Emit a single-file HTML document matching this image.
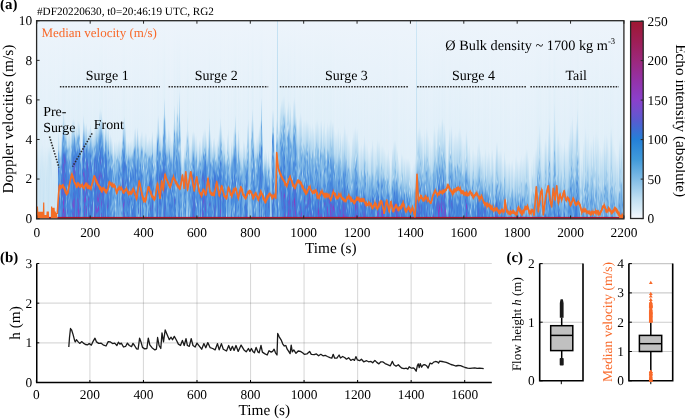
<!DOCTYPE html>
<html><head><meta charset="utf-8"><style>
html,body{margin:0;padding:0;background:#fff;width:685px;height:420px;overflow:hidden;position:relative}
#hm{position:absolute;left:37px;top:21px;width:586px;height:197px;display:flex}
#hm i{display:block;width:1px;height:100%;flex:none}
svg{position:absolute;left:0;top:0;will-change:transform}
text{font-family:"Liberation Serif",serif;text-rendering:geometricPrecision}
</style></head><body>
<div id="hm"><i style="background:linear-gradient(#edf4fb 0px,#dfeff8 127px,#cfe6f5 139px,#cde6f5 182px,#cee6f5 196px)"></i><i style="background:linear-gradient(#edf4fb 0px,#dfeff8 128px,#d2e8f6 142px,#cfe6f5 163px,#d6eaf6 196px)"></i><i style="background:linear-gradient(#edf4fb 0px,#e0eff8 122px,#cde6f5 171px,#cbe4f4 196px)"></i><i style="background:linear-gradient(#edf4fb 0px,#e0eff8 125px,#cde6f5 152px,#cce5f4 169px,#cee6f5 196px)"></i><i style="background:linear-gradient(#edf4fb 0px,#e0eff8 124px,#d2e8f6 142px,#d0e7f5 162px,#d0e7f5 196px)"></i><i style="background:linear-gradient(#edf4fb 0px,#e2eff9 121px,#d0e7f5 146px,#cfe6f5 168px,#cce5f4 190px,#cce5f4 196px)"></i><i style="background:linear-gradient(#edf4fb 0px,#e1eff9 125px,#d1e8f5 147px,#c8e3f4 177px,#cde6f5 196px)"></i><i style="background:linear-gradient(#edf4fb 0px,#e0eff8 127px,#d0e7f5 152px,#cde6f5 164px,#d0e7f5 192px,#d0e7f5 196px)"></i><i style="background:linear-gradient(#edf4fb 0px,#e1eff9 125px,#d4e9f6 142px,#d2e8f6 168px,#d0e7f5 186px,#cee6f5 196px)"></i><i style="background:linear-gradient(#edf4fb 0px,#e3f0f9 123px,#cce5f4 160px,#cee6f5 172px,#d4e9f6 196px)"></i><i style="background:linear-gradient(#edf4fb 0px,#e2eff9 123px,#d0e7f5 148px,#cbe5f4 196px)"></i><i style="background:linear-gradient(#edf4fb 0px,#e0eff8 126px,#d1e8f5 136px,#cae4f4 175px,#cae4f4 196px)"></i><i style="background:linear-gradient(#edf4fb 0px,#e0eff8 125px,#cce5f4 137px,#cfe6f5 196px)"></i><i style="background:linear-gradient(#edf4fb 0px,#dfeff8 126px,#cae4f4 142px,#d3e8f6 160px,#cce5f4 195px,#cfe6f5 196px)"></i><i style="background:linear-gradient(#edf4fb 0px,#e0eff8 124px,#cbe4f4 152px,#cfe6f5 157px,#cfe7f5 196px)"></i><i style="background:linear-gradient(#edf4fb 0px,#e0eff8 128px,#cee6f5 174px,#d1e7f5 196px)"></i><i style="background:linear-gradient(#edf4fb 0px,#e0eff8 127px,#cde5f5 167px,#d4e9f6 191px,#d0e7f5 196px)"></i><i style="background:linear-gradient(#edf4fb 0px,#dfeef8 127px,#cee6f5 170px,#cae4f4 196px)"></i><i style="background:linear-gradient(#edf4fb 0px,#e2eff9 124px,#d1e8f5 158px,#cce5f4 175px,#d2e8f6 182px,#cbe5f4 196px)"></i><i style="background:linear-gradient(#edf4fb 0px,#e1eff9 125px,#cfe7f5 152px,#d1e7f5 196px)"></i><i style="background:linear-gradient(#edf4fb 0px,#e0eff8 126px,#cde5f5 150px,#cae4f4 196px)"></i><i style="background:linear-gradient(#edf4fb 0px,#e0eff8 111px,#c4e1f3 122px,#b7daf0 126px,#b2d6ef 129px,#6fabe3 133px,#62a1e1 138px,#68a5e2 141px,#7cb5e5 144px,#4180db 147px,#4a71d6 150px,#4e90dd 155px,#5b9be0 159px,#4383db 164px,#4484db 167px,#4e6dd5 170px,#4576d8 174px,#4774d7 178px,#4888dc 182px,#3f7cda 183px,#675bd0 186px,#3e7dda 190px,#4f90dd 195px,#4a8bdc 196px)"></i><i style="background:linear-gradient(#edf4fb 0px,#e1eff9 117px,#cae4f4 129px,#9dcaeb 135px,#6da9e2 141px,#82bae6 145px,#5a9adf 150px,#5c9ce0 155px,#5193de 160px,#7ab3e5 172px,#417ad9 177px,#4477d8 182px,#5092de 191px,#4585db 196px)"></i><i style="background:linear-gradient(#edf4fb 0px,#e1eff9 123px,#bfdff2 134px,#92c4e9 138px,#97c7ea 142px,#6ca9e2 146px,#63a2e1 150px,#5596de 153px,#63a2e1 156px,#5798df 163px,#70ace3 167px,#69a6e2 173px,#78b2e4 176px,#4a8bdc 186px,#5b9be0 191px,#5596de 196px)"></i><i style="background:linear-gradient(#edf4fb 0px,#e1eff9 114px,#afd5ef 128px,#72ade3 137px,#75afe4 142px,#4d8edd 146px,#62a1e1 149px,#82bae6 151px,#4a8bdc 154px,#4477d8 160px,#4a8bdc 165px,#4675d7 170px,#407fda 179px,#4b8ddd 191px,#498adc 196px)"></i><i style="background:linear-gradient(#edf4fb 0px,#e0eff8 100px,#c8e3f4 111px,#6da9e2 122px,#63a2e1 126px,#5798df 130px,#417ad9 139px,#4c6fd6 150px,#4279d9 158px,#3e7dda 162px,#635dd1 170px,#685ad0 173px,#407fda 175px,#65a3e1 178px,#3e7dda 181px,#4585db 186px,#5a64d2 193px,#6e56cf 196px)"></i><i style="background:linear-gradient(#edf4fb 0px,#e1eff9 91px,#b2d7ef 106px,#4f90dd 117px,#62a1e1 120px,#7db6e5 123px,#5496de 127px,#5193de 131px,#4b70d6 134px,#3f7cda 141px,#675ad0 144px,#5468d4 150px,#5667d3 156px,#675ad0 159px,#5a63d2 163px,#7054cf 166px,#4774d7 170px,#506cd5 178px,#8941cc 181px,#8445cd 183px,#5c62d2 185px,#7352ce 187px,#9136b3 189px,#8d3cc2 191px,#526ad4 193px,#4e6ed5 195px,#5965d3 196px)"></i><i style="background:linear-gradient(#edf4fb 0px,#e0eff8 96px,#c2e0f2 110px,#7bb4e5 118px,#69a6e2 129px,#4477d8 134px,#6c57cf 139px,#4675d7 145px,#5369d4 151px,#3e7dda 153px,#3f7cda 156px,#5f60d1 159px,#4873d7 165px,#7550ce 169px,#4b70d6 173px,#5865d3 177px,#417ad9 185px,#655cd1 193px,#7b4ccd 196px)"></i><i style="background:linear-gradient(#edf4fb 0px,#e1eff9 100px,#afd5ef 116px,#71ade3 121px,#8bbfe8 126px,#498adc 133px,#4477d8 138px,#5866d3 141px,#4383db 145px,#5294de 150px,#4576d8 153px,#5a64d3 155px,#3e7eda 157px,#3e7dda 160px,#3f7eda 163px,#4f90dd 168px,#3f7cda 170px,#5568d4 172px,#4180db 174px,#4282db 177px,#417ad9 180px,#4e90dd 184px,#4873d7 189px,#645dd1 192px,#4774d7 196px)"></i><i style="background:linear-gradient(#edf4fb 0px,#e2f0f9 105px,#c3e1f3 116px,#95c5ea 122px,#93c4e9 125px,#5b9be0 130px,#65a3e1 136px,#4a8bdc 141px,#3e7dda 159px,#4a8adc 165px,#4279d9 168px,#7fb8e6 172px,#5b9be0 177px,#7ab4e5 181px,#5697df 185px,#70ace3 189px,#599adf 194px,#5d9de0 196px)"></i><i style="background:linear-gradient(#edf4fb 0px,#e1eff9 109px,#c3e1f3 124px,#a6cfed 127px,#6eaae3 130px,#90c2e9 136px,#5c9ce0 141px,#4383db 163px,#87bde7 167px,#4989dc 171px,#407fda 181px,#4686dc 187px,#5568d4 190px,#3f7fda 192px,#68a5e2 195px,#65a3e1 196px)"></i><i style="background:linear-gradient(#edf4fb 0px,#e0eff8 112px,#acd3ee 126px,#87bde7 129px,#87bde7 134px,#70abe3 138px,#73aee4 141px,#5798df 145px,#4477d8 162px,#4281db 172px,#498adc 176px,#609fe0 179px,#4989dc 183px,#4686dc 190px,#4b8cdd 196px)"></i><i style="background:linear-gradient(#edf4fb 0px,#e0eff8 111px,#afd5ef 124px,#8cc0e8 128px,#98c7ea 133px,#83bbe6 138px,#5798df 141px,#65a3e1 147px,#a7d0ed 150px,#4f91dd 154px,#4e8fdd 163px,#5b9be0 166px,#4c8ddd 172px,#62a1e1 176px,#4989dc 180px,#4888dc 192px,#4b8cdd 196px)"></i><i style="background:linear-gradient(#edf4fb 0px,#e1eff9 114px,#b8daf0 126px,#a3ceec 131px,#a3cdec 134px,#85bce7 138px,#6ca8e2 144px,#5b9bdf 147px,#72ade3 150px,#5193de 154px,#609fe0 158px,#5193de 162px,#5395de 170px,#4585db 174px,#5e9de0 184px,#4383db 190px,#4586db 196px)"></i><i style="background:linear-gradient(#edf4fb 0px,#e0eff8 107px,#a9d1ee 122px,#81b9e6 126px,#9ac8eb 129px,#64a2e1 134px,#5c9ce0 142px,#64a2e1 146px,#609fe0 149px,#5596de 151px,#76b1e4 154px,#4888dc 157px,#4888dc 168px,#4484db 175px,#69a6e2 187px,#3f7eda 190px,#5798df 195px,#4e8fdd 196px)"></i><i style="background:linear-gradient(#edf4fb 0px,#e1eff9 99px,#b5d9f0 112px,#81b9e6 121px,#4d8edd 131px,#4888dc 140px,#4774d7 143px,#4a8bdc 147px,#5395de 152px,#4774d7 156px,#4484db 161px,#5193de 164px,#4c8ddd 168px,#4383db 179px,#4a71d6 181px,#665bd0 183px,#4181db 187px,#526ad4 193px,#4585db 196px)"></i><i style="background:linear-gradient(#edf4fb 0px,#e0eff8 97px,#badbf1 110px,#a1ccec 114px,#96c6ea 118px,#5a9adf 126px,#5899df 133px,#407bd9 137px,#4b70d6 141px,#4a71d6 145px,#5a64d3 150px,#4180db 156px,#4378d9 167px,#4484db 170px,#516bd5 173px,#3e7dda 177px,#7352ce 180px,#665bd0 183px,#8246cd 185px,#3e7dda 189px,#6959d0 194px,#4d6ed5 196px)"></i><i style="background:linear-gradient(#edf4fb 0px,#e1eff9 99px,#b2d7ef 113px,#66a4e1 118px,#498adc 130px,#5b9bdf 132px,#3e7dda 136px,#4a8bdc 140px,#4972d7 142px,#6a58d0 144px,#4d6ed6 148px,#8048cd 151px,#4576d8 155px,#5965d3 159px,#407fda 161px,#407bd9 174px,#605fd1 179px,#5e61d2 185px,#5468d4 196px)"></i><i style="background:linear-gradient(#edf4fb 0px,#e0eff8 104px,#c9e3f4 115px,#99c8ea 120px,#4585db 131px,#4686dc 136px,#5c62d2 141px,#407bd9 144px,#66a4e1 148px,#4180db 151px,#4576d8 155px,#4a71d6 159px,#5766d3 162px,#4686dc 164px,#5092de 167px,#4279d9 171px,#498adc 192px,#5092de 196px)"></i><i style="background:linear-gradient(#edf4fb 0px,#e2eff9 105px,#a1cdec 119px,#7cb5e5 123px,#85bce7 129px,#4483db 133px,#3f7cda 140px,#4585db 144px,#4888dc 155px,#4788dc 159px,#4686dc 162px,#407fda 172px,#4c8ddd 177px,#4181db 186px,#3f7cda 191px,#516bd5 196px)"></i><i style="background:linear-gradient(#edf4fb 0px,#e0eff8 99px,#cfe6f5 111px,#badcf1 114px,#6eaae3 119px,#71ade3 122px,#8bbfe8 125px,#4a8bdc 131px,#4889dc 140px,#4788dc 151px,#4477d8 163px,#4080da 168px,#3f7cda 176px,#675ad0 179px,#4675d8 184px,#5a63d2 189px,#4281db 194px,#4484db 196px)"></i><i style="background:linear-gradient(#edf4fb 0px,#e0eff8 100px,#bcdcf1 110px,#b9dbf1 113px,#6eaae3 117px,#66a4e1 123px,#7ab4e5 127px,#4686dc 134px,#407bd9 142px,#4d6ed6 150px,#4181db 158px,#5567d4 163px,#4b70d6 170px,#3f7fda 176px,#526ad4 180px,#6959d0 184px,#5a63d2 187px,#8a3fca 190px,#6c57cf 194px,#635dd1 196px)"></i><i style="background:linear-gradient(#edf4fb 0px,#e0eff8 102px,#b2d7ef 113px,#7ab4e5 117px,#acd3ee 122px,#4687dc 129px,#4686dc 142px,#5b9be0 150px,#62a1e1 152px,#3f7eda 155px,#4180db 159px,#506bd5 163px,#4281db 170px,#4c6fd6 175px,#4889dc 180px,#4180db 184px,#4686dc 187px,#5b63d2 191px,#407fda 196px)"></i><i style="background:linear-gradient(#edf4fb 0px,#e0eff8 116px,#b8daf0 127px,#69a7e2 131px,#69a6e2 136px,#8fc2e8 139px,#4c8ddd 144px,#5496de 151px,#4686dc 155px,#5293de 173px,#5a9adf 180px,#6ba8e2 183px,#3f7cda 188px,#5f9ee0 196px)"></i><i style="background:linear-gradient(#edf4fb 0px,#e1eff9 124px,#a7d0ed 137px,#76b1e4 148px,#70ace3 153px,#61a0e0 156px,#71ace3 162px,#75b0e4 166px,#8abfe8 170px,#74afe4 176px,#76b1e4 186px,#77b1e4 196px)"></i><i style="background:linear-gradient(#edf4fb 0px,#e1eff9 110px,#bbdcf1 122px,#7bb4e5 134px,#4a8bdc 138px,#5f9ee0 145px,#609fe0 147px,#4080da 149px,#3e7dda 152px,#5193de 157px,#4d8fdd 165px,#5495de 173px,#609fe0 176px,#599adf 180px,#62a1e1 187px,#5b9bdf 190px,#6eaae3 193px,#61a0e0 196px)"></i><i style="background:linear-gradient(#edf4fb 0px,#e1eff9 94px,#b5d8f0 108px,#5d9de0 121px,#417ad9 124px,#5667d3 130px,#4484db 133px,#4c6fd6 138px,#4c6fd6 141px,#417ad9 144px,#526ad4 147px,#4675d8 150px,#7c4bcd 153px,#5d61d2 155px,#4382db 157px,#5e61d2 167px,#5c62d2 173px,#3f7cda 176px,#4774d7 180px,#4c8ddd 184px,#4281db 190px,#498adc 196px)"></i><i style="background:linear-gradient(#edf4fb 0px,#e0eff8 101px,#b7daf0 110px,#6fabe3 121px,#5d9ce0 126px,#65a3e1 129px,#4180db 133px,#4180db 139px,#5a9adf 144px,#609fe0 146px,#407fda 148px,#5d61d2 155px,#5d61d2 160px,#7f49cd 163px,#4972d7 167px,#417ad9 172px,#4b70d6 176px,#7352ce 180px,#5a64d3 183px,#774fce 186px,#4e6ed5 189px,#7451ce 193px,#4f6dd5 196px)"></i><i style="background:linear-gradient(#edf4fb 0px,#e0eff8 104px,#9ccaeb 120px,#5c9ce0 133px,#5193de 136px,#8fc2e8 139px,#4f91dd 142px,#62a1e1 146px,#4282db 150px,#4585db 154px,#4774d7 158px,#4080da 163px,#4888dc 167px,#5e9ee0 169px,#4477d8 172px,#6959d0 176px,#8a40cc 178px,#3e7dda 183px,#4576d8 189px,#4382db 196px)"></i><i style="background:linear-gradient(#edf4fb 0px,#e1eff9 102px,#a4ceed 118px,#78b2e4 126px,#4585db 129px,#4686dc 133px,#4889dc 137px,#4972d6 139px,#4873d7 145px,#4576d8 151px,#4378d9 157px,#3f7cda 160px,#5568d4 163px,#4972d6 168px,#6c57cf 171px,#4281db 174px,#599adf 176px,#4484db 180px,#4a8bdc 184px,#417ad9 185px,#6b57cf 188px,#6859d0 192px,#4279d9 194px,#4586db 196px)"></i><i style="background:linear-gradient(#edf4fb 0px,#e0eff8 107px,#c7e3f3 117px,#71ace3 126px,#4281db 139px,#5468d4 143px,#625ed1 147px,#4675d7 153px,#5c62d2 158px,#6b58cf 160px,#4279d9 164px,#526bd4 167px,#4383db 170px,#4972d7 173px,#5092de 177px,#4787dc 184px,#65a3e1 191px,#66a4e1 195px,#5e9ee0 196px)"></i><i style="background:linear-gradient(#edf4fb 0px,#e1eff9 108px,#a9d1ee 123px,#92c3e9 127px,#75b0e4 130px,#5092de 133px,#5899df 142px,#64a2e1 144px,#407bd9 148px,#5468d4 155px,#4788dc 158px,#4576d8 161px,#6959d0 164px,#4181db 169px,#74afe4 173px,#417ad9 176px,#6959d0 178px,#3e7dda 181px,#615fd1 184px,#4576d8 188px,#4774d7 196px)"></i><i style="background:linear-gradient(#edf4fb 0px,#e1eff9 107px,#a9d1ee 122px,#5193de 133px,#5193de 139px,#4888dc 146px,#4585db 155px,#3f7eda 162px,#4e90dd 168px,#4585db 171px,#5294de 174px,#4576d8 177px,#4585db 185px,#66a4e1 188px,#417ad9 193px,#407bd9 196px)"></i><i style="background:linear-gradient(#edf4fb 0px,#e1eff9 103px,#a7d0ed 118px,#7ab4e5 123px,#65a3e1 131px,#3f7eda 135px,#5394de 139px,#4675d8 142px,#4586db 150px,#5092de 153px,#4383db 158px,#3f7eda 163px,#605fd1 166px,#4484db 170px,#4180db 180px,#4279d9 185px,#4383db 190px,#4d6fd6 196px)"></i><i style="background:linear-gradient(#edf4fb 0px,#e0eff8 108px,#aed4ef 119px,#71ace3 130px,#5596de 135px,#85bce7 140px,#4484db 146px,#4c6fd6 149px,#4888dc 153px,#4d8edd 165px,#4576d8 171px,#3f7eda 176px,#4788dc 180px,#5a9bdf 182px,#4282db 184px,#5964d3 187px,#4484db 194px,#4a8adc 196px)"></i><i style="background:linear-gradient(#edf4fb 0px,#e2f0f9 110px,#aad2ee 125px,#65a3e1 131px,#7bb4e5 136px,#5395de 143px,#87bde7 147px,#6aa7e2 152px,#5091de 155px,#5697df 163px,#67a5e2 166px,#4b8cdd 170px,#4989dc 177px,#4f6cd5 183px,#4484db 189px,#599adf 195px,#5193de 196px)"></i><i style="background:linear-gradient(#edf4fb 0px,#e0eff8 111px,#b5d8f0 122px,#92c3e9 128px,#90c2e9 135px,#63a1e1 139px,#6eaae3 144px,#5496de 153px,#63a2e1 156px,#5091de 161px,#4b8cdd 169px,#7bb4e5 172px,#4d8fdd 178px,#64a2e1 180px,#90c2e9 182px,#72ade3 194px,#78b2e4 196px)"></i><i style="background:linear-gradient(#edf4fb 0px,#e0eff8 103px,#d0e7f5 113px,#a4cfed 124px,#6aa7e2 128px,#8fc2e9 133px,#4787dc 138px,#4c6fd6 143px,#4787dc 156px,#6ca9e2 163px,#3f7eda 168px,#4180db 181px,#4686dc 189px,#4774d7 192px,#685ad0 194px,#4c6fd6 196px)"></i><i style="background:linear-gradient(#edf4fb 0px,#e0eff8 103px,#bcdcf1 115px,#a3cdec 120px,#96c6ea 123px,#70ace3 126px,#8dc1e8 129px,#4383db 136px,#4378d8 139px,#4b8cdd 143px,#4a8adc 147px,#599adf 149px,#4477d8 152px,#4b70d6 160px,#7650ce 168px,#417ad9 171px,#4c6fd6 176px,#417ad9 180px,#5f60d2 186px,#625ed1 189px,#417ad9 196px)"></i><i style="background:linear-gradient(#edf4fb 0px,#e1eff9 102px,#aed4ef 115px,#75b0e4 122px,#609fe0 127px,#4378d8 142px,#4a71d6 146px,#4382db 152px,#5865d3 157px,#407fda 160px,#4a8bdc 163px,#4873d7 167px,#4889dc 171px,#4378d8 176px,#516bd5 179px,#4382db 183px,#5667d3 186px,#7d4acd 189px,#5766d3 192px,#4585db 194px,#4989dc 196px)"></i><i style="background:linear-gradient(#edf4fb 0px,#e1eff9 101px,#bdddf1 112px,#9fcbec 117px,#9fccec 120px,#6ca9e2 124px,#3e7dda 140px,#4a8adc 144px,#4a8adc 148px,#4675d7 156px,#526ad4 159px,#4383db 163px,#4873d7 171px,#645dd1 176px,#764fce 178px,#526bd4 181px,#4279d9 184px,#4d8edd 186px,#4d6ed5 188px,#8345cd 190px,#4484db 193px,#4382db 196px)"></i><i style="background:linear-gradient(#edf4fb 0px,#e2f0f9 98px,#b0d6ef 112px,#78b2e4 120px,#5f9ee0 129px,#4e8fdd 133px,#6eabe3 139px,#3f7cda 143px,#417ad9 154px,#7a4ccd 161px,#3e7dda 166px,#4279d9 172px,#4477d8 175px,#8445cd 178px,#7551ce 180px,#4279d9 182px,#417ad9 184px,#8b3fc8 187px,#794dcd 189px,#3f7cda 191px,#407fda 196px)"></i><i style="background:linear-gradient(#edf4fb 0px,#e0eff8 90px,#b6d9f0 107px,#7db6e5 114px,#5798df 120px,#4484db 128px,#68a5e2 133px,#4378d8 137px,#4889dc 143px,#4477d8 152px,#8643cc 156px,#4477d8 160px,#4585db 168px,#4279d9 171px,#6f55cf 174px,#4080da 179px,#5766d3 183px,#4181db 186px,#4d6ed5 196px)"></i><i style="background:linear-gradient(#edf4fb 0px,#e2f0f9 87px,#c1dff2 102px,#61a0e0 116px,#4d8edd 121px,#63a1e1 126px,#407bd9 131px,#4873d7 138px,#5568d4 142px,#4585db 145px,#4a8bdc 149px,#506cd5 152px,#5667d3 155px,#407fda 157px,#5a9adf 161px,#4873d7 165px,#6959d0 168px,#407fda 171px,#4080da 177px,#498adc 184px,#5697df 193px,#6ba8e2 196px)"></i><i style="background:linear-gradient(#edf4fb 0px,#e0eff8 90px,#a4ceed 107px,#609fe0 115px,#67a5e2 121px,#72ade3 124px,#4889dc 127px,#4687dc 137px,#6eaae3 140px,#407bd9 145px,#4383db 151px,#5f60d2 155px,#4483db 161px,#4477d8 170px,#4279d9 173px,#4383db 177px,#536ad4 180px,#6d56cf 183px,#4180db 188px,#4a8bdc 191px,#4477d8 192px,#6e56cf 194px,#4675d8 196px)"></i><i style="background:linear-gradient(#edf4fb 0px,#e0eff8 96px,#badcf1 110px,#88bee7 115px,#5899df 125px,#4080da 136px,#4873d7 139px,#4585db 143px,#4989dc 146px,#6aa7e2 149px,#4585db 154px,#4774d7 160px,#417ad9 163px,#5766d3 168px,#7c4bcd 170px,#417ad9 177px,#4675d8 181px,#4b8cdd 185px,#4484db 189px,#4585db 193px,#4382db 196px)"></i><i style="background:linear-gradient(#edf4fb 0px,#e4f0f9 106px,#afd5ef 118px,#96c6ea 123px,#8fc2e9 126px,#70ace3 129px,#72ade3 133px,#4888dc 137px,#5091de 151px,#6ba8e2 155px,#3e7dda 159px,#4477d8 163px,#498adc 168px,#4b70d6 173px,#4c6fd6 182px,#3f7cda 187px,#4873d7 190px,#4972d7 194px,#4774d7 196px)"></i><i style="background:linear-gradient(#edf4fb 0px,#e1eff9 110px,#aad2ee 129px,#5999df 134px,#5d9ce0 141px,#84bbe6 145px,#4382db 148px,#4279d9 151px,#4972d7 157px,#5193de 164px,#4788dc 170px,#5e9ee0 178px,#407bd9 184px,#4477d8 188px,#4d8edd 196px)"></i><i style="background:linear-gradient(#edf4fb 0px,#e1eff9 102px,#bdddf1 113px,#61a0e1 126px,#66a4e1 129px,#407fda 134px,#3f7cda 145px,#4788dc 150px,#3e7dda 155px,#4383db 162px,#4383db 165px,#4675d7 168px,#609fe0 174px,#4a8adc 180px,#3f7eda 189px,#4477d8 193px,#5667d3 196px)"></i><i style="background:linear-gradient(#edf4fb 0px,#e1eff9 101px,#b9dbf1 118px,#8cc0e8 122px,#75b0e4 128px,#70ace3 132px,#3f7eda 140px,#4279d9 155px,#4477d8 165px,#4774d7 168px,#5091de 172px,#4b8cdd 183px,#61a0e0 189px,#69a7e2 192px,#5e9de0 196px)"></i><i style="background:linear-gradient(#edf4fb 0px,#e3f0f9 108px,#bcddf1 121px,#8ec1e8 129px,#79b3e5 137px,#67a4e1 140px,#67a5e2 143px,#71ace3 150px,#3e7dda 158px,#609fe0 164px,#4383db 166px,#4f6dd5 169px,#4181db 173px,#4483db 178px,#526ad4 184px,#6b58cf 186px,#4181db 190px,#4787dc 196px)"></i><i style="background:linear-gradient(#edf4fb 0px,#e2eff9 106px,#b9dbf1 119px,#85bce7 128px,#4f91dd 132px,#7ab4e5 137px,#5294de 141px,#6da9e2 147px,#5899df 152px,#5a9adf 155px,#3e7dda 159px,#4a8adc 163px,#5d9de0 169px,#4576d8 179px,#4f6cd5 185px,#3f7cda 186px,#4c8edd 192px,#4282db 196px)"></i><i style="background:linear-gradient(#edf4fb 0px,#e2eff9 115px,#bbdcf1 128px,#a1cdec 132px,#95c5ea 135px,#5c9ce0 139px,#7bb5e5 144px,#4989dc 151px,#5193de 166px,#87bde7 168px,#89bee7 169px,#4d8edd 172px,#6ba8e2 176px,#4c8ddd 180px,#4d8fdd 194px,#5193de 196px)"></i><i style="background:linear-gradient(#edf4fb 0px,#e1eff9 113px,#a6d0ed 129px,#81b9e6 135px,#7ab4e5 139px,#78b2e4 144px,#498adc 148px,#5798df 163px,#6eaae3 167px,#4a8bdc 170px,#4888dc 179px,#4686dc 184px,#6ca9e2 188px,#4b8cdd 193px,#5e9de0 196px)"></i><i style="background:linear-gradient(#edf4fb 0px,#e1eff9 116px,#a8d1ed 132px,#6da9e3 136px,#79b3e5 143px,#9ecbeb 146px,#5294de 150px,#4686dc 166px,#4c8edd 173px,#5395de 177px,#5a9adf 183px,#7bb4e5 186px,#5495de 191px,#63a1e1 196px)"></i><i style="background:linear-gradient(#edf4fb 0px,#e0eff8 120px,#bfdef2 131px,#99c8ea 137px,#76b1e4 140px,#a2cdec 144px,#5798df 150px,#7fb7e5 159px,#4e8fdd 165px,#65a3e1 171px,#5f9ee0 177px,#7db6e5 183px,#5798df 188px,#89bee7 192px,#6fabe3 195px,#72aee3 196px)"></i><i style="background:linear-gradient(#edf4fb 0px,#e1eff9 128px,#b3d7ef 142px,#84bbe6 145px,#a3cdec 149px,#70ace3 155px,#5697df 158px,#7db6e5 162px,#74afe4 172px,#5192de 177px,#77b1e4 181px,#64a2e1 186px,#77b1e4 189px,#4989dc 196px)"></i><i style="background:linear-gradient(#edf4fb 0px,#e1eff9 120px,#b9dbf1 133px,#a8d1ed 136px,#a6d0ed 139px,#7cb5e5 144px,#81b9e6 154px,#88bde7 157px,#76b0e4 160px,#7eb7e5 164px,#5395de 168px,#65a3e1 172px,#5c9ce0 175px,#7bb4e5 179px,#61a0e0 183px,#6fabe3 188px,#4a8bdc 192px,#4e90dd 196px)"></i><i style="background:linear-gradient(#edf4fb 0px,#e0eff8 121px,#c9e4f4 130px,#a3ceec 137px,#a2cdec 142px,#8cc0e8 147px,#85bce7 152px,#5193de 158px,#7eb7e5 168px,#7eb7e5 173px,#63a1e1 177px,#add3ee 181px,#8abfe8 185px,#a6d0ed 188px,#78b2e4 192px,#87bde7 196px)"></i><i style="background:linear-gradient(#edf4fb 0px,#e2f0f9 119px,#badcf1 137px,#81b9e6 140px,#87bde7 149px,#67a5e1 153px,#62a1e1 159px,#61a0e0 163px,#8ec1e8 167px,#6da9e2 171px,#77b1e4 174px,#62a1e1 177px,#6ba8e2 181px,#61a0e0 184px,#76b0e4 189px,#69a7e2 193px,#6da9e3 196px)"></i><i style="background:linear-gradient(#edf4fb 0px,#e0eff8 122px,#badbf1 134px,#7db6e5 139px,#94c4e9 144px,#69a6e2 153px,#71ace3 161px,#5597df 167px,#5798df 172px,#498adc 177px,#7ab4e5 196px)"></i><i style="background:linear-gradient(#edf4fb 0px,#e2f0f9 119px,#aad2ee 137px,#76b0e4 141px,#67a5e2 150px,#4889dc 155px,#5e9de0 166px,#7fb7e5 178px,#6aa7e2 184px,#6da9e3 188px,#61a0e1 193px,#74afe4 196px)"></i><i style="background:linear-gradient(#edf4fb 0px,#e1eff9 118px,#c0dff2 130px,#9bc9eb 136px,#a6cfed 139px,#6fabe3 143px,#4e8fdd 149px,#74afe4 153px,#4c8edd 157px,#69a6e2 165px,#5798df 168px,#61a0e0 173px,#5495de 183px,#75afe4 187px,#76b1e4 195px,#7ab3e5 196px)"></i><i style="background:linear-gradient(#edf4fb 0px,#e2f0f9 120px,#a9d2ee 140px,#a2cdec 143px,#7bb4e5 147px,#6ba8e2 150px,#4d8edd 153px,#8cc0e8 159px,#5294de 164px,#8bbfe8 176px,#72ade3 181px,#73aee4 189px,#80b8e6 196px)"></i><i style="background:linear-gradient(#edf4fb 0px,#e1eff9 120px,#bcddf1 129px,#a0ccec 134px,#78b2e4 137px,#8ec1e8 141px,#65a3e1 146px,#7ab4e5 150px,#4d8edd 154px,#82bae6 160px,#5596de 169px,#7db6e5 173px,#5b9be0 177px,#70abe3 181px,#72ade3 185px,#88bde7 189px,#599adf 192px,#7db6e5 196px)"></i><i style="background:linear-gradient(#edf4fb 0px,#e1eff9 106px,#bfdef2 119px,#a1ccec 122px,#a6d0ed 126px,#5d9de0 130px,#6fabe3 138px,#4787dc 144px,#4f91dd 155px,#4a71d6 159px,#4e6ed5 165px,#4383db 168px,#4282db 172px,#4378d9 175px,#5369d4 178px,#4382db 181px,#66a4e1 188px,#5294de 193px,#63a1e1 196px)"></i><i style="background:linear-gradient(#edf4fb 0px,#e0eff8 98px,#a4ceed 113px,#61a0e0 122px,#7bb5e5 126px,#498adc 134px,#4585db 144px,#4972d6 148px,#4484db 155px,#4c6fd6 165px,#4383db 174px,#4378d8 180px,#7e49cd 184px,#4378d9 189px,#5a63d2 192px,#4382db 196px)"></i><i style="background:linear-gradient(#edf4fb 0px,#e0eff8 95px,#b4d8f0 110px,#a7d0ed 115px,#95c5ea 119px,#5d9de0 130px,#4989dc 136px,#5c9ce0 139px,#407bd9 142px,#417ad9 149px,#4a8bdc 153px,#5091de 161px,#417ad9 169px,#635dd1 172px,#3f7cda 174px,#4c8edd 177px,#4972d7 179px,#5667d3 182px,#4484db 186px,#4a8adc 191px,#3f7cda 192px,#5a64d2 195px,#4b70d6 196px)"></i><i style="background:linear-gradient(#edf4fb 0px,#e2f0f9 104px,#b1d6ef 119px,#8ec1e8 128px,#8fc2e9 136px,#417ad9 145px,#5b9bdf 157px,#4378d8 162px,#69a6e2 167px,#4b8cdd 173px,#4e90dd 190px,#68a6e2 194px,#5092de 196px)"></i><i style="background:linear-gradient(#edf4fb 0px,#e0eff8 118px,#c2e0f2 129px,#b2d7ef 132px,#83bbe6 136px,#9ecbeb 142px,#4b8cdd 146px,#4686dc 160px,#74afe4 164px,#4686dc 169px,#498adc 176px,#4889dc 189px,#5193de 196px)"></i><i style="background:linear-gradient(#edf4fb 0px,#e1eff9 121px,#c3e1f3 130px,#b3d7f0 134px,#a8d1ed 137px,#77b1e4 141px,#77b1e4 149px,#76b1e4 152px,#4576d8 159px,#498adc 169px,#5495de 175px,#417ad9 181px,#5596de 189px,#4675d8 192px,#498adc 196px)"></i><i style="background:linear-gradient(#edf4fb 0px,#e2f0f9 120px,#a4cfed 134px,#5496de 141px,#6ba8e2 145px,#4888dc 149px,#5698df 153px,#4e8fdd 157px,#3f7eda 165px,#4282db 169px,#4d6fd6 173px,#4686dc 175px,#4787dc 180px,#4378d8 184px,#4f90dd 188px,#498adc 194px,#3f7cda 196px)"></i><i style="background:linear-gradient(#edf4fb 0px,#e0eff8 121px,#b9dbf1 133px,#67a5e2 142px,#6ba8e2 146px,#64a2e1 149px,#7cb5e5 152px,#71ade3 155px,#a7d0ed 158px,#82bae6 160px,#5294de 162px,#5596de 166px,#7ab4e5 169px,#4d8fdd 173px,#61a0e0 176px,#4383db 178px,#4d6ed6 181px,#4a8bdc 185px,#4e8fdd 196px)"></i><i style="background:linear-gradient(#edf4fb 0px,#e1eff9 120px,#c2e0f2 128px,#b0d6ef 135px,#7db6e5 139px,#78b2e4 145px,#99c8ea 147px,#7eb7e5 149px,#4686dc 152px,#4282db 160px,#5596df 167px,#5294de 172px,#4e90dd 180px,#7fb8e6 189px,#8dc0e8 191px,#5f9ee0 195px,#65a3e1 196px)"></i><i style="background:linear-gradient(#edf4fb 0px,#e3f0f9 118px,#bbdcf1 133px,#85bce7 138px,#7eb6e5 144px,#5f9fe0 147px,#73afe4 151px,#3e7dda 158px,#5c9ce0 163px,#4d8edd 167px,#62a1e1 174px,#407bd9 178px,#6da9e2 182px,#4888dc 186px,#5193de 196px)"></i><i style="background:linear-gradient(#edf4fb 0px,#e1eff9 119px,#c4e1f3 131px,#6ba7e2 139px,#a0ccec 145px,#4b8cdd 149px,#4e8fdd 159px,#5f9ee0 164px,#4d8fdd 169px,#5294de 184px,#80b9e6 186px,#4686dc 189px,#4b70d6 193px,#4585db 196px)"></i><i style="background:linear-gradient(#edf4fb 0px,#e1eff9 116px,#c3e0f3 127px,#89bee7 132px,#5798df 141px,#69a6e2 146px,#417ad9 156px,#5596de 161px,#3f7eda 168px,#5798df 176px,#5395de 180px,#609fe0 182px,#4378d9 187px,#4383db 196px)"></i><i style="background:linear-gradient(#edf4fb 0px,#e1eff9 108px,#b1d6ef 125px,#5092de 131px,#62a1e1 137px,#4b8cdd 145px,#5b9bdf 150px,#4b8bdd 160px,#5c9ce0 163px,#4281db 168px,#3e7dda 174px,#5b9bdf 176px,#417ad9 179px,#407bd9 182px,#4483db 188px,#3f7cda 196px)"></i><i style="background:linear-gradient(#edf4fb 0px,#e1eff9 106px,#abd2ee 123px,#77b1e4 129px,#70ace3 136px,#6ca9e2 142px,#4279d9 149px,#4484db 159px,#5092de 164px,#7db6e5 167px,#4382db 172px,#4c8edd 179px,#498adc 193px,#3f7eda 196px)"></i><i style="background:linear-gradient(#edf4fb 0px,#e1eff9 115px,#a8d0ed 130px,#79b3e5 142px,#6ca9e2 147px,#4e90dd 150px,#74afe4 154px,#4c8ddd 161px,#5092de 164px,#89bee7 167px,#4787dc 171px,#6ca8e2 181px,#5999df 185px,#67a5e2 188px,#67a4e1 192px,#70ace3 196px)"></i><i style="background:linear-gradient(#edf4fb 0px,#e1eff9 106px,#90c2e9 126px,#77b1e4 129px,#91c3e9 136px,#599adf 140px,#4585db 150px,#5495de 158px,#4675d8 171px,#5092de 180px,#5395de 183px,#5f9fe0 186px,#72ade3 190px,#6da9e3 196px)"></i><i style="background:linear-gradient(#edf4fb 0px,#e0eff8 113px,#bbdcf1 124px,#8bbfe8 129px,#85bce7 132px,#67a5e2 137px,#63a1e1 143px,#5b9ce0 149px,#609fe0 154px,#407bd9 158px,#4f91dd 163px,#61a0e1 168px,#61a0e1 172px,#407fda 182px,#4e90dd 186px,#4378d9 188px,#5568d4 190px,#4383db 192px,#81b9e6 194px,#8ec1e8 195px,#7eb7e5 196px)"></i><i style="background:linear-gradient(#edf4fb 0px,#e1eff9 118px,#a9d1ee 135px,#78b2e4 140px,#72ade3 145px,#89bee7 147px,#5193de 151px,#63a1e1 154px,#4382db 158px,#4484db 164px,#5c9ce0 172px,#67a4e1 174px,#4f90dd 178px,#79b3e4 184px,#75afe4 195px,#6ca9e2 196px)"></i><i style="background:linear-gradient(#edf4fb 0px,#e1eff9 114px,#b3d7ef 128px,#7cb6e5 137px,#7fb8e5 140px,#5091de 144px,#4b8cdd 167px,#4873d7 173px,#4a8adc 180px,#4873d7 188px,#4675d8 193px,#4687dc 196px)"></i><i style="background:linear-gradient(#edf4fb 0px,#e1eff9 110px,#b8daf0 124px,#8fc2e9 128px,#609fe0 131px,#87bde7 141px,#84bbe6 147px,#4383db 154px,#5697df 172px,#4889dc 178px,#7cb5e5 185px,#76b1e4 189px,#67a5e2 194px,#77b1e4 196px)"></i><i style="background:linear-gradient(#edf4fb 0px,#e1eff9 110px,#c5e2f3 125px,#7db6e5 131px,#91c3e9 140px,#63a2e1 146px,#81b9e6 151px,#4f91dd 155px,#62a1e1 159px,#68a5e2 162px,#5092de 166px,#4f90dd 174px,#599adf 177px,#4888dc 182px,#5091de 189px,#4c8ddd 196px)"></i><i style="background:linear-gradient(#edf4fb 0px,#e1eff9 115px,#b4d8f0 135px,#85bce7 140px,#bbdcf1 147px,#7ab3e5 152px,#5b9be0 162px,#80b8e6 167px,#5a9adf 175px,#5f9fe0 178px,#5092de 181px,#7db6e5 185px,#4f91dd 189px,#64a2e1 196px)"></i><i style="background:linear-gradient(#edf4fb 0px,#e1eff9 114px,#c7e3f3 128px,#80b8e6 136px,#8dc1e8 140px,#6ba7e2 145px,#83bbe6 152px,#77b1e4 156px,#91c3e9 164px,#79b3e5 167px,#89bee7 170px,#5f9ee0 173px,#78b2e4 177px,#66a4e1 182px,#7fb8e6 187px,#7cb5e5 196px)"></i><i style="background:linear-gradient(#edf4fb 0px,#e2eff9 111px,#c2e0f2 123px,#a7d0ed 131px,#6eaae3 134px,#9dcaeb 139px,#69a6e2 147px,#78b2e4 151px,#62a1e1 158px,#6aa7e2 161px,#5192de 164px,#6ca8e2 168px,#4d8edd 172px,#5a9bdf 176px,#82bae6 179px,#4585db 183px,#71ade3 187px,#5496de 196px)"></i><i style="background:linear-gradient(#edf4fb 0px,#e2eff9 112px,#b9dbf1 130px,#84bbe6 136px,#6eaae3 146px,#9fccec 150px,#67a5e2 154px,#5496de 160px,#62a1e1 168px,#5c9ce0 173px,#78b2e4 182px,#4889dc 185px,#61a0e0 192px,#62a1e1 196px)"></i><i style="background:linear-gradient(#edf4fb 0px,#e1eff9 120px,#b7d9f0 130px,#add4ee 133px,#98c7ea 136px,#add3ee 139px,#85bce7 143px,#8ec1e8 146px,#4e90dd 152px,#76b0e4 155px,#92c4e9 158px,#5999df 165px,#8abfe8 169px,#72ade3 179px,#8fc2e9 192px,#8cc0e8 196px)"></i><i style="background:linear-gradient(#edf4fb 0px,#e1eff9 118px,#a6d0ed 135px,#70ace3 139px,#5e9ee0 150px,#7bb5e5 155px,#76b0e4 162px,#5193de 165px,#4080da 171px,#74afe4 176px,#4382db 182px,#7cb5e5 186px,#3f7eda 194px,#4787dc 196px)"></i><i style="background:linear-gradient(#edf4fb 0px,#e3f0f9 115px,#aed4ef 134px,#609fe0 138px,#72aee3 144px,#5193de 150px,#599adf 153px,#5092de 156px,#5f9ee0 159px,#417ad9 162px,#3e7eda 166px,#5c9ce0 172px,#4484db 180px,#65a3e1 184px,#5092de 188px,#6aa7e2 191px,#4d8edd 194px,#5899df 196px)"></i><i style="background:linear-gradient(#edf4fb 0px,#e2f0f9 118px,#abd3ee 134px,#6aa7e2 141px,#73aee4 145px,#67a5e2 149px,#3e7dda 159px,#4873d7 163px,#4d8edd 168px,#73aee4 174px,#4180db 185px,#536ad4 188px,#4382db 191px,#4f90dd 195px,#4687dc 196px)"></i><i style="background:linear-gradient(#edf4fb 0px,#e2eff9 115px,#b7daf0 130px,#b7daf0 133px,#79b3e5 137px,#67a4e1 143px,#62a1e1 148px,#64a2e1 151px,#4a8bdc 155px,#417ad9 163px,#4383db 168px,#5899df 172px,#4e8fdd 177px,#498adc 184px,#407fda 196px)"></i><i style="background:linear-gradient(#edf4fb 0px,#e1eff9 110px,#b8daf0 123px,#98c7ea 131px,#62a1e1 135px,#82bae6 141px,#4e90dd 145px,#71ace3 152px,#8fc1e8 155px,#498adc 161px,#5596de 167px,#4873d7 170px,#4b70d6 173px,#4686dc 175px,#4873d7 182px,#5866d3 186px,#4383db 191px,#4378d8 196px)"></i><i style="background:linear-gradient(#edf4fb 0px,#e2f0f9 120px,#bfdff2 132px,#aad2ee 138px,#98c7ea 141px,#bbdcf1 144px,#6aa7e2 149px,#76b1e4 152px,#8fc2e9 154px,#62a1e1 158px,#6aa7e2 163px,#4484db 168px,#65a3e1 171px,#78b2e4 173px,#5597df 177px,#63a1e1 188px,#5596de 195px,#5b9be0 196px)"></i><i style="background:linear-gradient(#edf4fb 0px,#e0eff8 121px,#b6d9f0 134px,#a7d0ed 142px,#80b8e6 147px,#aad2ee 151px,#82bae6 158px,#74afe4 163px,#75b0e4 166px,#70abe3 169px,#97c6ea 176px,#78b2e4 180px,#8ec1e8 183px,#68a5e2 188px,#81b9e6 196px)"></i><i style="background:linear-gradient(#edf4fb 0px,#e0eff8 120px,#b0d5ef 136px,#9bc9eb 140px,#bedef2 143px,#9bc9eb 148px,#95c6ea 152px,#61a0e0 157px,#78b2e4 164px,#5697df 170px,#73aee3 175px,#5b9be0 178px,#67a5e2 183px,#4f90dd 189px,#83bbe6 194px,#7db6e5 196px)"></i><i style="background:linear-gradient(#edf4fb 0px,#e2f0f9 110px,#bbdcf1 124px,#a4ceed 128px,#8abfe8 132px,#69a6e2 143px,#7db6e5 148px,#4788dc 154px,#61a0e1 167px,#4989dc 173px,#5294de 177px,#4e90dd 191px,#4a8bdc 196px)"></i><i style="background:linear-gradient(#edf4fb 0px,#e1eff9 96px,#c3e0f3 112px,#a8d1ed 116px,#5294de 123px,#4f90dd 133px,#7eb7e5 138px,#4787dc 141px,#4686dc 152px,#4774d7 159px,#4889dc 164px,#4383db 171px,#417ad9 183px,#526bd4 189px,#4279d9 196px)"></i><i style="background:linear-gradient(#edf4fb 0px,#e1eff9 94px,#a7d0ed 113px,#74afe4 120px,#83bbe6 126px,#6ba8e2 133px,#609fe0 141px,#498adc 147px,#5798df 158px,#5495de 165px,#3f7cda 173px,#61a0e0 177px,#5193de 186px,#61a0e0 189px,#5a9adf 192px,#6eaae3 195px,#69a6e2 196px)"></i><i style="background:linear-gradient(#edf4fb 0px,#e2f0f9 106px,#bbdcf1 121px,#96c6ea 126px,#92c3e9 129px,#5d9de0 132px,#5597df 138px,#5f9ee0 142px,#63a1e1 148px,#407fda 154px,#4a71d6 157px,#498adc 163px,#4c8ddd 170px,#407fda 171px,#5c62d2 173px,#3e7dda 177px,#4378d8 182px,#4e8fdd 186px,#4686dc 191px,#4a8adc 196px)"></i><i style="background:linear-gradient(#edf4fb 0px,#e1eff9 113px,#b2d6ef 126px,#a8d1ed 129px,#5e9ee0 133px,#7bb5e5 139px,#99c8eb 141px,#81b9e6 143px,#5091de 145px,#4477d8 159px,#4972d7 165px,#4888dc 169px,#4383db 176px,#4a71d6 183px,#4e90dd 187px,#4484db 192px,#4c8ddd 196px)"></i><i style="background:linear-gradient(#edf4fb 0px,#e1eff9 116px,#a0ccec 135px,#73aee4 140px,#78b2e4 146px,#407bd9 153px,#4675d8 157px,#506cd5 160px,#4787dc 162px,#5092de 165px,#4774d7 169px,#615fd1 172px,#4279d9 174px,#69a6e2 177px,#4686dc 183px,#6ca9e2 196px)"></i><i style="background:linear-gradient(#edf4fb 0px,#e0eff8 109px,#b6d9f0 124px,#7bb5e5 130px,#6eaae3 135px,#83bbe6 138px,#498adc 142px,#65a3e1 145px,#79b3e5 147px,#4378d9 152px,#5b63d2 154px,#3e7dda 156px,#69a6e2 159px,#4378d9 163px,#498adc 169px,#63a2e1 171px,#4576d8 174px,#3f7eda 177px,#609fe0 183px,#7db6e5 189px,#6fabe3 196px)"></i><i style="background:linear-gradient(#edf4fb 0px,#e0eff8 93px,#bcddf1 103px,#a9d1ee 109px,#a9d2ee 112px,#64a2e1 117px,#63a2e1 120px,#71ace3 124px,#5c9ce0 131px,#5092de 135px,#4576d8 152px,#4e6ed5 159px,#4a8bdc 162px,#4686dc 170px,#5999df 178px,#4888dc 192px,#5192de 196px)"></i><i style="background:linear-gradient(#edf4fb 0px,#e0eff8 77px,#a4ceed 96px,#7ab4e5 100px,#6fabe3 107px,#5e9de0 111px,#68a5e2 126px,#5b9be0 129px,#4f90dd 133px,#609fe0 136px,#4080da 143px,#4a8bdc 146px,#4774d7 152px,#4787dc 159px,#4576d8 167px,#5568d4 170px,#4484db 173px,#4576d8 187px,#5469d4 193px,#4873d7 196px)"></i><i style="background:linear-gradient(#edf4fb 0px,#e2f0f9 93px,#b2d6ef 108px,#90c2e9 117px,#a6cfed 120px,#7cb5e5 125px,#6fabe3 131px,#4787dc 135px,#4d8edd 144px,#67a4e1 146px,#4585db 151px,#6ba8e2 156px,#5395de 161px,#4a8bdc 165px,#4576d8 169px,#4c8edd 179px,#3f7cda 184px,#4d6ed5 187px,#4686dc 191px,#4888dc 196px)"></i><i style="background:linear-gradient(#edf4fb 0px,#e2f0f9 110px,#b4d8f0 128px,#63a1e1 138px,#68a5e2 142px,#4a8bdc 153px,#5192de 157px,#5e9ee0 160px,#4282db 168px,#599adf 175px,#80b8e6 179px,#5b9be0 188px,#4c8ddd 193px,#5193de 196px)"></i><i style="background:linear-gradient(#edf4fb 0px,#e1eff9 115px,#acd3ee 130px,#74afe4 137px,#94c5ea 143px,#62a1e1 149px,#5395de 155px,#4f91dd 162px,#5e9ee0 167px,#86bce7 170px,#4c8ddd 176px,#65a3e1 180px,#5294de 183px,#64a2e1 187px,#5092de 192px,#4d8edd 196px)"></i><i style="background:linear-gradient(#edf4fb 0px,#e1eff9 107px,#b9dbf1 124px,#87bde7 136px,#9bc9eb 141px,#5d9ce0 145px,#6ca9e2 149px,#5e9ee0 153px,#5092de 159px,#7ab4e5 162px,#4181db 177px,#609fe0 187px,#4e90dd 195px,#5395de 196px)"></i><i style="background:linear-gradient(#edf4fb 0px,#e2eff9 109px,#bcdcf1 126px,#64a2e1 135px,#69a6e2 146px,#4f91dd 149px,#65a3e1 153px,#4c8edd 157px,#5798df 162px,#62a1e1 165px,#4a8bdc 172px,#5596de 179px,#5899df 181px,#4279d9 184px,#5091de 193px,#4585db 196px)"></i><i style="background:linear-gradient(#edf4fb 0px,#e4f0f9 113px,#b5d9f0 132px,#a5cfed 135px,#5899df 142px,#4f90dd 157px,#3f7eda 162px,#4282db 169px,#4b8cdd 172px,#67a5e2 175px,#5e9de0 180px,#4181db 184px,#4889dc 194px,#5193de 196px)"></i><i style="background:linear-gradient(#edf4fb 0px,#e1eff9 119px,#aad2ee 134px,#5697df 144px,#6da9e2 150px,#498adc 158px,#4383db 163px,#78b2e4 168px,#4281db 173px,#4d8edd 182px,#417ad9 186px,#4e90dd 190px,#4383db 196px)"></i><i style="background:linear-gradient(#edf4fb 0px,#e2f0f9 117px,#b2d6ef 135px,#75b0e4 144px,#74afe4 147px,#6ba8e2 150px,#75b0e4 152px,#4888dc 155px,#5999df 159px,#4484db 170px,#76b0e4 173px,#498adc 177px,#4383db 185px,#5999df 189px,#4b8bdd 194px,#5496de 196px)"></i><i style="background:linear-gradient(#edf4fb 0px,#e1eff9 101px,#badcf1 119px,#89bee7 125px,#5a9adf 138px,#4c8ddd 145px,#5294de 151px,#609fe0 161px,#4c8ddd 164px,#5f9ee0 167px,#4f91dd 171px,#5e9ee0 175px,#4b8cdd 189px,#609fe0 192px,#4b8cdd 196px)"></i><i style="background:linear-gradient(#edf4fb 0px,#e0eff8 84px,#c7e3f3 93px,#acd3ee 108px,#66a4e1 113px,#75b0e4 117px,#64a2e1 120px,#7bb4e5 123px,#5395de 132px,#63a2e1 138px,#75afe4 142px,#4c8ddd 153px,#5192de 159px,#63a2e1 162px,#4d8edd 169px,#6daae3 174px,#4787dc 176px,#5964d3 179px,#4383db 186px,#4787dc 194px,#4b8cdd 196px)"></i><i style="background:linear-gradient(#edf4fb 0px,#e1eff9 99px,#c4e1f3 111px,#7db6e5 126px,#78b2e4 135px,#89bee7 138px,#63a2e1 142px,#79b3e5 146px,#4181db 153px,#4e90dd 162px,#8fc2e9 166px,#65a3e1 171px,#82bae6 174px,#4180db 179px,#4282db 182px,#5d9de0 185px,#3f7cda 189px,#5193de 193px,#4873d7 195px,#4f6dd5 196px)"></i><i style="background:linear-gradient(#edf4fb 0px,#e1eff9 90px,#bdddf1 109px,#93c4e9 113px,#8dc1e8 124px,#90c3e9 126px,#64a2e1 130px,#7db6e5 133px,#4c8ddd 137px,#4e90dd 143px,#5b9bdf 151px,#69a7e2 154px,#68a6e2 159px,#4c8ddd 162px,#90c2e9 167px,#62a1e1 172px,#66a4e1 182px,#7eb7e5 188px,#86bce7 196px)"></i><i style="background:linear-gradient(#edf4fb 0px,#e0eff8 79px,#c9e4f4 92px,#9ccaeb 98px,#b6d9f0 103px,#9ac8eb 111px,#6eaae3 119px,#72aee3 125px,#6eaae3 129px,#77b2e4 137px,#5092de 141px,#4d8fdd 149px,#5899df 156px,#73aee3 159px,#4e90dd 163px,#70ace3 173px,#70ace3 177px,#6fabe3 181px,#6da9e3 189px,#8bbfe8 196px)"></i><i style="background:linear-gradient(#edf4fb 0px,#e0eff8 92px,#b6d9f0 109px,#b7daf0 114px,#7bb5e5 121px,#a6d0ed 128px,#61a0e0 133px,#6daae3 138px,#6ba8e2 142px,#4f91dd 160px,#5f9ee0 168px,#4989dc 181px,#69a6e2 188px,#4a8bdc 193px,#5091de 196px)"></i><i style="background:linear-gradient(#edf4fb 0px,#e1eff9 70px,#b3d7f0 91px,#87bde7 105px,#90c2e9 108px,#7ab4e5 112px,#71ace3 120px,#b8daf0 128px,#74afe4 135px,#5193de 142px,#5c9ce0 148px,#5192de 159px,#5e9ee0 162px,#599adf 178px,#4787dc 184px,#4c8ddd 190px,#4788dc 196px)"></i><i style="background:linear-gradient(#edf4fb 0px,#e2eff9 99px,#b3d8f0 115px,#9dcaeb 119px,#b3d7ef 126px,#9ecbeb 131px,#90c2e9 139px,#5395de 148px,#4e8fdd 154px,#5d9de0 165px,#6ba8e2 170px,#4c8ddd 174px,#69a6e2 179px,#5697df 186px,#7bb5e5 190px,#79b3e5 196px)"></i><i style="background:linear-gradient(#edf4fb 0px,#e0eff8 128px,#bfdff2 141px,#9cc9eb 148px,#a6cfed 151px,#89bee7 154px,#89bee7 157px,#68a6e2 161px,#77b1e4 166px,#71ade3 171px,#5c9ce0 174px,#6fabe3 178px,#599adf 183px,#609fe0 186px,#7ab3e5 188px,#5192de 193px,#5b9bdf 196px)"></i><i style="background:linear-gradient(#edf4fb 0px,#e0eff8 136px,#c4e1f3 146px,#b3d7f0 150px,#c0dff2 153px,#8cc0e8 156px,#9ac8eb 162px,#77b1e4 172px,#8cc0e8 175px,#86bce7 179px,#9ac9eb 183px,#8ec1e8 187px,#95c5ea 191px,#90c2e9 196px)"></i><i style="background:linear-gradient(#edf4fb 0px,#e1eff9 133px,#a6d0ed 152px,#8abfe7 155px,#6eaae3 163px,#71ade3 171px,#71ade3 177px,#70abe3 180px,#5092de 184px,#68a6e2 188px,#5d9de0 193px,#71ade3 196px)"></i><i style="background:linear-gradient(#edf4fb 0px,#e1eff9 124px,#c2e0f2 136px,#8abfe8 143px,#8abfe8 149px,#8bbfe8 152px,#407fda 163px,#65a3e1 167px,#70ace3 169px,#4b8ddd 172px,#62a1e1 181px,#85bce7 184px,#5193de 188px,#71ace3 196px)"></i><i style="background:linear-gradient(#edf4fb 0px,#e1eff9 121px,#b7d9f0 136px,#85bce7 140px,#71ace3 144px,#6ba8e2 147px,#76b1e4 150px,#3f7fda 155px,#4f91dd 160px,#4d8edd 172px,#65a3e1 176px,#4686dc 181px,#5c9ce0 185px,#4585db 190px,#599adf 196px)"></i><i style="background:linear-gradient(#edf4fb 0px,#e2eff9 110px,#aad2ee 129px,#7db6e5 133px,#9ecbeb 137px,#7db6e5 144px,#78b2e4 149px,#74afe4 153px,#a0ccec 157px,#61a0e1 168px,#7ab4e5 180px,#7eb7e5 186px,#9fcbec 191px,#9fcbec 196px)"></i><i style="background:linear-gradient(#edf4fb 0px,#e0eff8 93px,#c7e2f3 114px,#91c3e9 120px,#a5cfed 124px,#94c4e9 130px,#abd2ee 133px,#8abee7 142px,#98c7ea 145px,#80b9e6 149px,#95c5ea 153px,#80b9e6 160px,#afd5ef 165px,#7eb6e5 170px,#93c4e9 174px,#83bbe6 178px,#98c7ea 182px,#a1ccec 196px)"></i><i style="background:linear-gradient(#edf4fb 0px,#e0eff8 109px,#b4d8f0 123px,#90c2e9 128px,#7bb4e5 152px,#81bae6 161px,#81b9e6 168px,#61a0e1 172px,#61a0e0 178px,#7eb7e5 183px,#64a2e1 189px,#6da9e2 196px)"></i><i style="background:linear-gradient(#edf4fb 0px,#e1eff9 119px,#b9dbf1 137px,#8bbfe8 141px,#a3ceec 148px,#5c9ce0 153px,#64a2e1 160px,#67a5e1 164px,#5091de 175px,#5e9ee0 179px,#61a0e0 183px,#9dcaeb 193px,#85bce7 196px)"></i><i style="background:linear-gradient(#edf4fb 0px,#e0eff8 124px,#b5d8f0 141px,#81b9e6 146px,#a0ccec 150px,#5899df 158px,#87bde7 162px,#4585db 166px,#4d8edd 170px,#74afe4 174px,#4d8edd 180px,#5f9ee0 186px,#76b0e4 189px,#4c8ddd 196px)"></i><i style="background:linear-gradient(#edf4fb 0px,#e0eff8 121px,#aad2ee 140px,#7eb7e5 143px,#aad2ee 146px,#89bee7 148px,#5193de 151px,#78b2e4 156px,#5f9ee0 160px,#61a0e1 166px,#4a8bdc 186px,#4f91dd 190px,#5294de 196px)"></i><i style="background:linear-gradient(#edf4fb 0px,#e2f0f9 111px,#add4ee 128px,#79b3e5 138px,#66a4e1 144px,#80b9e6 148px,#71ace3 152px,#3f7cda 155px,#4279d9 160px,#4989dc 166px,#5798df 170px,#4774d7 177px,#5798df 183px,#4477d8 188px,#417ad9 193px,#4279d9 196px)"></i><i style="background:linear-gradient(#edf4fb 0px,#e0eff8 110px,#a2cdec 129px,#77b1e4 133px,#5294de 138px,#6aa7e2 142px,#4686dc 146px,#6ca9e2 150px,#3e7dda 154px,#516bd5 160px,#3f7cda 166px,#4180db 169px,#4477d8 172px,#4a8bdc 175px,#4a71d6 183px,#4477d8 192px,#6a58d0 195px,#625ed1 196px)"></i><i style="background:linear-gradient(#edf4fb 0px,#e3f0f9 111px,#92c4e9 135px,#6eaae3 141px,#5294de 150px,#4281db 156px,#5a9adf 160px,#4675d8 164px,#4080da 171px,#5369d4 189px,#4180db 193px,#417ad9 196px)"></i><i style="background:linear-gradient(#edf4fb 0px,#e1eff9 115px,#b3d7ef 135px,#7db6e5 141px,#77b1e4 149px,#69a6e2 155px,#4e90dd 162px,#5597df 169px,#609fe0 172px,#4d8edd 176px,#7bb4e5 180px,#407fda 186px,#4c8ddd 191px,#4686dc 196px)"></i><i style="background:linear-gradient(#edf4fb 0px,#e1eff9 114px,#cee6f5 124px,#c1dff2 129px,#6ca9e2 140px,#7cb5e5 148px,#5294de 153px,#73aee4 160px,#5b9bdf 163px,#7ab4e5 166px,#4888dc 177px,#609fe0 181px,#96c6ea 183px,#9fcbec 184px,#5294de 187px,#4a8bdc 196px)"></i><i style="background:linear-gradient(#edf4fb 0px,#e0eff8 122px,#b1d6ef 141px,#b4d8f0 145px,#67a4e1 151px,#609fe0 156px,#8dc1e8 159px,#4e8fdd 164px,#4e8fdd 178px,#417ad9 182px,#5c9ce0 188px,#79b3e4 195px,#6da9e2 196px)"></i><i style="background:linear-gradient(#edf4fb 0px,#e1eff9 123px,#bbdcf1 140px,#5e9de0 151px,#5c9ce0 163px,#5596de 174px,#4c8ddd 190px,#5b9bdf 193px,#4e8fdd 196px)"></i><i style="background:linear-gradient(#edf4fb 0px,#e1eff9 119px,#9ccaeb 138px,#75b0e4 143px,#6aa7e2 153px,#4e8fdd 162px,#a0ccec 165px,#7ab4e5 167px,#5092de 169px,#4b8cdd 177px,#78b2e4 185px,#65a3e1 194px,#78b2e4 196px)"></i><i style="background:linear-gradient(#edf4fb 0px,#e1eff9 119px,#add3ee 139px,#62a1e1 143px,#8bc0e8 147px,#4c8ddd 151px,#67a5e2 155px,#5f9ee0 158px,#68a5e2 162px,#4080da 173px,#5766d3 176px,#4585db 178px,#4e90dd 181px,#4585db 187px,#4378d8 190px,#4a8bdc 196px)"></i><i style="background:linear-gradient(#edf4fb 0px,#e1eff9 121px,#cde6f5 132px,#9bc9eb 137px,#7eb7e5 144px,#73aee3 154px,#4f90dd 159px,#609fe0 165px,#4d8edd 169px,#7cb5e5 173px,#4383db 177px,#5193de 179px,#80b9e6 181px,#5a9adf 189px,#7fb7e5 196px)"></i><i style="background:linear-gradient(#edf4fb 0px,#e1eff9 114px,#99c8eb 136px,#71ace3 142px,#6eaae3 148px,#4279d9 154px,#5568d4 157px,#4484db 161px,#4383db 166px,#506cd5 170px,#3f7cda 174px,#4d6fd6 187px,#625ed1 194px,#4c6fd6 196px)"></i><i style="background:linear-gradient(#edf4fb 0px,#e1eff9 110px,#a3ceec 130px,#5294de 136px,#73aee3 140px,#5d9de0 146px,#407bd9 153px,#4d6fd6 157px,#4484db 161px,#4787dc 165px,#4281db 170px,#64a2e1 173px,#407bd9 176px,#6f54cf 180px,#4281db 186px,#5f9ee0 188px,#4383db 190px,#5964d3 193px,#3e7dda 196px)"></i><i style="background:linear-gradient(#edf4fb 0px,#e2eff9 107px,#c1dff2 123px,#b7daf0 126px,#8cc0e8 129px,#aad2ee 132px,#66a4e1 136px,#4282db 148px,#498adc 152px,#417ad9 157px,#6b58cf 160px,#417ad9 164px,#3e7dda 171px,#4279d9 175px,#4f6dd5 180px,#4383db 186px,#4888dc 195px,#4282db 196px)"></i><i style="background:linear-gradient(#edf4fb 0px,#e1eff9 108px,#c2e0f2 119px,#aed4ee 125px,#7db6e5 131px,#5798df 134px,#6ca9e2 137px,#4484db 141px,#3f7eda 155px,#498adc 159px,#4889dc 163px,#4989dc 171px,#4383db 176px,#4b70d6 183px,#6e55cf 189px,#417ad9 192px,#3e7dda 196px)"></i><i style="background:linear-gradient(#edf4fb 0px,#e2f0f9 115px,#acd3ee 131px,#83bbe6 142px,#5a9adf 146px,#4d8fdd 156px,#3f7fda 159px,#5597df 162px,#4686dc 166px,#4080da 172px,#4279d9 175px,#5091de 179px,#498adc 189px,#4b8cdd 196px)"></i><i style="background:linear-gradient(#edf4fb 0px,#e0eff8 122px,#bfdef2 134px,#5f9ee0 147px,#67a4e1 153px,#90c2e9 157px,#61a0e0 168px,#4382db 172px,#63a1e1 178px,#5395de 182px,#69a7e2 186px,#5091de 191px,#77b1e4 194px,#5193de 196px)"></i><i style="background:linear-gradient(#edf4fb 0px,#e1eff9 109px,#bcddf1 126px,#98c7ea 130px,#6fabe3 144px,#8fc2e9 149px,#64a2e1 157px,#5798df 161px,#5e9de0 168px,#5395de 172px,#4f90dd 178px,#5798df 183px,#3f7eda 194px,#498adc 196px)"></i><i style="background:linear-gradient(#edf4fb 0px,#e0eff8 97px,#a8d1ed 115px,#7fb7e5 127px,#6da9e3 134px,#69a6e2 138px,#62a0e1 148px,#4585db 160px,#4a8bdc 166px,#4787dc 170px,#5898df 174px,#4282db 181px,#5a63d2 184px,#4687dc 186px,#4e90dd 189px,#4585db 196px)"></i><i style="background:linear-gradient(#edf4fb 0px,#e2f0f9 109px,#add4ee 131px,#94c5e9 137px,#96c6ea 140px,#5193de 144px,#62a1e1 154px,#70ace3 157px,#4c8ddd 160px,#63a2e1 166px,#4a8bdc 177px,#4a8bdc 180px,#4a71d6 183px,#5092de 188px,#4888dc 196px)"></i><i style="background:linear-gradient(#edf4fb 0px,#e1eff9 118px,#b0d6ef 134px,#a6cfed 140px,#69a6e2 146px,#7bb4e5 154px,#66a4e1 157px,#78b2e4 160px,#6aa7e2 167px,#5597df 174px,#66a4e1 178px,#5193de 182px,#4f91dd 191px,#498adc 196px)"></i><i style="background:linear-gradient(#edf4fb 0px,#e1eff9 125px,#acd3ee 136px,#83bbe6 140px,#99c8ea 143px,#63a2e1 147px,#66a3e1 155px,#4989dc 158px,#4b8cdd 167px,#609fe0 173px,#4b8cdd 177px,#599adf 181px,#64a2e1 185px,#6da9e2 188px,#4b8cdd 191px,#73aee3 196px)"></i><i style="background:linear-gradient(#edf4fb 0px,#e2eff9 117px,#a2cdec 136px,#63a1e1 141px,#5f9ee0 147px,#4585db 151px,#68a6e2 155px,#4080da 162px,#4972d7 165px,#5192de 170px,#5193de 181px,#4484db 185px,#66a4e1 191px,#5092de 196px)"></i><i style="background:linear-gradient(#edf4fb 0px,#e0eff8 116px,#bbdcf1 129px,#8bc0e8 136px,#7ab4e5 142px,#619fe0 148px,#4383db 152px,#4279d9 156px,#4b70d6 159px,#4686dc 164px,#4873d7 167px,#7153ce 170px,#516bd5 175px,#4586db 177px,#4a8bdc 183px,#536ad4 188px,#4f6dd5 194px,#4d6ed6 196px)"></i><i style="background:linear-gradient(#edf4fb 0px,#e0eff8 123px,#b2d7ef 135px,#bfdef2 138px,#6da9e2 142px,#7cb5e5 148px,#407bd9 155px,#4774d7 165px,#498adc 174px,#3f7eda 180px,#4873d7 186px,#4b8cdd 196px)"></i><i style="background:linear-gradient(#edf4fb 0px,#e1eff9 121px,#c6e2f3 136px,#8fc2e8 141px,#5294de 152px,#5294de 156px,#4787dc 163px,#5091de 171px,#5193de 175px,#5999df 180px,#5294de 186px,#88bde7 193px,#6eaae3 196px)"></i><i style="background:linear-gradient(#edf4fb 0px,#e2f0f9 119px,#9ecbeb 140px,#609fe0 148px,#7eb7e5 152px,#4889dc 155px,#4585db 161px,#4477d8 164px,#4585db 172px,#4484db 176px,#5092de 184px,#63a1e1 189px,#5798df 196px)"></i><i style="background:linear-gradient(#edf4fb 0px,#e2f0f9 113px,#cae4f4 124px,#a0ccec 128px,#a0ccec 132px,#6ba8e2 137px,#83bae6 141px,#5496de 147px,#70ace3 152px,#7ab4e5 154px,#407bd9 157px,#4576d8 160px,#5193de 164px,#6aa7e2 166px,#4585db 172px,#4281db 178px,#4279d9 182px,#4774d7 185px,#3f7eda 193px,#417ad9 196px)"></i><i style="background:linear-gradient(#edf4fb 0px,#e2f0f9 106px,#a6cfed 127px,#88bde7 134px,#62a1e1 137px,#70ace3 141px,#75b0e4 146px,#4787dc 149px,#4282db 156px,#4687dc 162px,#75b0e4 167px,#4a8bdc 170px,#4972d7 176px,#4e90dd 180px,#4282db 193px,#4675d7 196px)"></i><i style="background:linear-gradient(#edf4fb 0px,#e1eff9 97px,#a8d1ed 117px,#6ca8e2 129px,#71ace3 136px,#7fb7e5 138px,#407bd9 142px,#4f91dd 148px,#3f7cda 155px,#4484db 163px,#4873d7 166px,#4484db 170px,#506cd5 176px,#4a71d6 180px,#4675d8 187px,#7451ce 190px,#4b70d6 195px,#4b70d6 196px)"></i><i style="background:linear-gradient(#edf4fb 0px,#e3f0f9 104px,#b2d7ef 120px,#88bee7 124px,#a6cfed 128px,#61a0e0 131px,#8fc2e8 136px,#73aee3 140px,#5294de 143px,#5c9ce0 146px,#5193de 149px,#6ba8e2 152px,#4787dc 156px,#5c9ce0 160px,#4d8edd 164px,#62a0e1 169px,#4484db 173px,#6ba7e2 177px,#5091de 181px,#6aa7e2 195px,#69a6e2 196px)"></i><i style="background:linear-gradient(#edf4fb 0px,#e3f0f9 113px,#c1dff2 129px,#7eb7e5 138px,#77b1e4 143px,#63a2e1 150px,#80b9e6 153px,#5899df 158px,#407fda 174px,#4f91dd 179px,#4080da 183px,#4a8bdc 191px,#4d8edd 196px)"></i><i style="background:linear-gradient(#edf4fb 0px,#e3f0f9 116px,#aed4ee 134px,#4a8bdc 155px,#4d8fdd 160px,#4585db 164px,#6aa7e2 167px,#3e7dda 172px,#4181db 175px,#526ad4 178px,#4383db 183px,#4080da 191px,#5091de 194px,#4585db 196px)"></i><i style="background:linear-gradient(#edf4fb 0px,#e1eff9 118px,#bbdcf1 132px,#8dc1e8 136px,#89bee7 140px,#62a1e1 145px,#5d9de0 151px,#5193de 160px,#65a3e1 163px,#5395de 167px,#4f91dd 172px,#67a4e1 175px,#4a8bdc 179px,#4787dc 186px,#4889dc 196px)"></i><i style="background:linear-gradient(#edf4fb 0px,#e4f0f9 122px,#bfdff2 138px,#acd3ee 141px,#81b9e6 145px,#5f9fe0 152px,#81b9e6 156px,#5192de 161px,#7ab4e5 166px,#5092de 171px,#5e9ee0 177px,#4889dc 180px,#5496de 184px,#3f7eda 188px,#4686dc 193px,#417ad9 196px)"></i><i style="background:linear-gradient(#edf4fb 0px,#e2f0f9 127px,#c0dff2 139px,#7db6e5 146px,#8cc0e8 157px,#4c8ddd 163px,#6fabe3 167px,#5294de 171px,#76b1e4 177px,#7eb7e5 180px,#7ab4e5 184px,#81bae6 191px,#add4ee 195px,#a7d0ed 196px)"></i><i style="background:linear-gradient(#edf4fb 0px,#e3f0f9 113px,#bcdcf1 128px,#a4ceed 132px,#c2e0f2 136px,#86bce7 140px,#6da9e3 148px,#6fabe3 151px,#5193de 156px,#5193de 169px,#75b0e4 173px,#69a7e2 177px,#5091de 181px,#5d9de0 193px,#5899df 196px)"></i><i style="background:linear-gradient(#edf4fb 0px,#e1eff9 107px,#bfdef2 130px,#8abfe7 138px,#a6cfed 142px,#66a4e1 147px,#82bae6 152px,#5d9de0 156px,#75b0e4 164px,#5496de 168px,#7fb7e5 172px,#4a8bdc 179px,#62a1e1 183px,#74afe4 194px,#76b0e4 196px)"></i><i style="background:linear-gradient(#edf4fb 0px,#e2f0f9 122px,#c3e1f3 135px,#8ec1e8 144px,#a3ceec 149px,#599adf 162px,#599adf 168px,#5999df 171px,#76b1e4 176px,#70ace3 181px,#71ade3 185px,#69a7e2 190px,#81b9e6 195px,#76b1e4 196px)"></i><i style="background:linear-gradient(#edf4fb 0px,#e1eff9 127px,#c1dff2 141px,#84bbe6 149px,#8bc0e8 156px,#70ace3 162px,#96c6ea 166px,#61a0e0 169px,#77b1e4 174px,#64a2e1 181px,#74afe4 188px,#83bbe6 191px,#6da9e2 195px,#73aee3 196px)"></i><i style="background:linear-gradient(#edf4fb 0px,#e0eff8 120px,#a3ceec 138px,#63a2e1 147px,#5495de 157px,#82bae6 160px,#4e8fdd 165px,#4080da 175px,#4787dc 179px,#4686dc 183px,#64a3e1 186px,#4888dc 191px,#4181db 196px)"></i><i style="background:linear-gradient(#edf4fb 0px,#e2f0f9 119px,#c6e2f3 132px,#6ba8e2 142px,#5b9bdf 149px,#4686dc 158px,#4477d8 162px,#5596de 166px,#4f90dd 171px,#5798df 174px,#498adc 179px,#5b9bdf 184px,#5192de 188px,#7eb7e5 192px,#74afe4 196px)"></i><i style="background:linear-gradient(#edf4fb 0px,#e1eff9 110px,#c1dff2 124px,#acd3ee 127px,#8ec1e8 133px,#5a9bdf 139px,#63a1e1 145px,#5f9fe0 149px,#75b0e4 154px,#6aa7e2 157px,#7ab4e5 159px,#4a8adc 163px,#4d8fdd 169px,#4686dc 176px,#5092de 184px,#80b9e6 188px,#609fe0 193px,#78b2e4 196px)"></i><i style="background:linear-gradient(#edf4fb 0px,#e0eff8 105px,#a7d0ed 120px,#a7d0ed 124px,#77b1e4 129px,#5b9be0 135px,#4889dc 139px,#5a9adf 152px,#3e7dda 155px,#4d8edd 166px,#66a4e1 168px,#4a8bdc 173px,#5193de 181px,#78b2e4 184px,#90c2e9 189px,#4d8edd 194px,#4d8edd 196px)"></i><i style="background:linear-gradient(#edf4fb 0px,#e0eff8 94px,#afd5ef 111px,#86bce7 115px,#8abfe8 119px,#63a1e1 129px,#6ba8e2 133px,#4b8cdd 139px,#4f91dd 152px,#6daae3 155px,#4477d8 162px,#4080da 165px,#74afe4 169px,#4b8cdd 176px,#407fda 186px,#4576d8 191px,#5192de 196px)"></i><i style="background:linear-gradient(#edf4fb 0px,#e0eff8 110px,#cbe4f4 122px,#6fabe3 140px,#70ace3 146px,#5395de 150px,#78b2e4 154px,#5092de 158px,#6aa7e2 160px,#a1ccec 162px,#97c6ea 164px,#6aa7e2 168px,#4787dc 177px,#5d9de0 194px,#5e9ee0 196px)"></i><i style="background:linear-gradient(#edf4fb 0px,#e3f0f9 118px,#a5cfed 141px,#76b0e4 144px,#70ace3 151px,#63a1e1 161px,#67a5e2 167px,#5e9ee0 175px,#4a8bdc 179px,#62a1e1 183px,#5697df 190px,#78b2e4 193px,#5e9ee0 196px)"></i><i style="background:linear-gradient(#edf4fb 0px,#e0eff8 108px,#a8d0ed 129px,#79b3e4 135px,#78b2e4 144px,#6ba8e2 153px,#498adc 158px,#5c9ce0 162px,#74afe4 165px,#65a3e1 169px,#4c8ddd 172px,#67a5e2 181px,#4484db 186px,#72ade3 192px,#4687dc 196px)"></i><i style="background:linear-gradient(#edf4fb 0px,#e1eff9 116px,#b8daf0 136px,#70ace3 142px,#68a6e2 146px,#75afe4 151px,#65a3e1 160px,#5293de 164px,#89bee7 168px,#68a5e2 171px,#62a1e1 182px,#6aa7e2 190px,#65a3e1 196px)"></i><i style="background:linear-gradient(#edf4fb 0px,#e0eff8 127px,#bdddf1 138px,#86bde7 148px,#a0ccec 151px,#6ba8e2 156px,#4180db 163px,#63a2e1 167px,#4787dc 172px,#6aa7e2 176px,#4080da 184px,#4e8fdd 196px)"></i><i style="background:linear-gradient(#edf4fb 0px,#e2f0f9 126px,#b5d8f0 143px,#a1cdec 146px,#82bae6 153px,#5e9de0 156px,#6ca9e2 160px,#5d9ce0 163px,#6ca9e2 165px,#4585db 168px,#65a3e1 172px,#3e7eda 176px,#4f90dd 182px,#4e90dd 193px,#64a2e1 196px)"></i><i style="background:linear-gradient(#edf4fb 0px,#e1eff9 127px,#b3d7f0 146px,#75b0e4 154px,#77b1e4 158px,#78b2e4 161px,#5092de 164px,#71ace3 169px,#6aa7e2 182px,#6ba8e2 185px,#5899df 188px,#77b1e4 196px)"></i><i style="background:linear-gradient(#edf4fb 0px,#e0eff8 119px,#badcf1 136px,#97c7ea 140px,#91c3e9 145px,#81b9e6 152px,#7eb7e5 159px,#7fb7e5 170px,#90c2e9 174px,#70ace3 179px,#7cb6e5 189px,#5999df 195px,#609fe0 196px)"></i><i style="background:linear-gradient(#edf4fb 0px,#e1eff9 121px,#a9d1ee 139px,#77b1e4 145px,#7ab4e5 159px,#5d9de0 165px,#63a1e1 172px,#86bce7 176px,#6ca8e2 183px,#4484db 186px,#5d9de0 192px,#4e90dd 196px)"></i><i style="background:linear-gradient(#edf4fb 0px,#e1eff9 125px,#c4e1f3 137px,#a0ccec 140px,#99c8ea 144px,#69a6e2 148px,#6fabe3 153px,#5697df 156px,#7cb5e5 161px,#4f90dd 165px,#407fda 174px,#4279d9 177px,#5395de 180px,#4576d8 184px,#4181db 196px)"></i><i style="background:linear-gradient(#edf4fb 0px,#e1eff9 123px,#a4ceed 140px,#7bb4e5 147px,#4b8cdd 153px,#4484db 160px,#4774d7 166px,#4d8edd 171px,#69a6e2 176px,#4181db 185px,#417ad9 189px,#3f7cda 192px,#5c62d2 195px,#5468d4 196px)"></i><i style="background:linear-gradient(#edf4fb 0px,#e1eff9 103px,#bbdcf1 118px,#9dcaeb 126px,#b7daf0 130px,#91c3e9 133px,#98c7ea 137px,#62a0e1 141px,#78b2e4 145px,#4d8fdd 150px,#5193de 165px,#6eaae3 168px,#4989dc 174px,#64a2e1 179px,#5898df 183px,#6aa7e2 187px,#5192de 191px,#61a0e0 195px,#5a9bdf 196px)"></i><i style="background:linear-gradient(#edf4fb 0px,#dfeff8 98px,#a9d1ee 121px,#9ccaeb 125px,#a0ccec 128px,#83bae6 132px,#82bae6 142px,#7fb7e5 148px,#91c3e9 152px,#77b1e4 157px,#95c5ea 173px,#8bbfe8 176px,#a0ccec 187px,#9ecbeb 196px)"></i><i style="background:linear-gradient(#edf4fb 0px,#e3f0f9 115px,#bedef2 139px,#a7d0ed 143px,#98c7ea 156px,#8fc2e8 161px,#93c4e9 165px,#afd5ef 168px,#72ade3 173px,#94c5e9 184px,#75afe4 194px,#85bce7 196px)"></i><i style="background:linear-gradient(#edf4fb 0px,#e2eff9 117px,#c4e1f3 128px,#bdddf1 132px,#a4ceed 140px,#88bee7 147px,#8abfe7 150px,#a8d1ed 153px,#91c3e9 157px,#97c7ea 160px,#71ace3 164px,#82bae6 167px,#71ace3 170px,#9ac8eb 174px,#79b3e4 179px,#99c8eb 184px,#96c6ea 187px,#7cb5e5 191px,#8fc2e9 196px)"></i><i style="background:linear-gradient(#edf4fb 0px,#e2eff9 98px,#b5d8f0 116px,#89bee7 120px,#93c4e9 133px,#6ba8e2 139px,#88bde7 143px,#5d9de0 155px,#5d9de0 159px,#5193de 162px,#77b1e4 165px,#5193de 169px,#6aa7e2 180px,#74afe4 183px,#84bbe6 186px,#8cc0e8 194px,#80b8e6 196px)"></i><i style="background:linear-gradient(#edf4fb 0px,#dfeff8 88px,#a8d0ed 109px,#81b9e6 113px,#81b9e6 119px,#92c4e9 126px,#5e9ee0 130px,#72aee3 136px,#9bc9eb 146px,#4e90dd 149px,#5d9ce0 163px,#66a4e1 167px,#4c8ddd 171px,#5496de 182px,#5e9de0 189px,#5e9ee0 194px,#5294de 196px)"></i><i style="background:linear-gradient(#edf4fb 0px,#e0eff8 98px,#b3d7ef 120px,#85bce7 126px,#72ade3 130px,#5193de 135px,#6ca9e2 139px,#5193de 143px,#5c9ce0 150px,#98c7ea 155px,#7cb6e5 158px,#498adc 161px,#5092de 176px,#70abe3 182px,#4f90dd 186px,#4281db 196px)"></i><i style="background:linear-gradient(#edf4fb 0px,#e3f0f9 117px,#add4ee 136px,#7cb5e5 140px,#61a0e1 150px,#5c9ce0 154px,#5d9ce0 164px,#3e7dda 168px,#67a5e1 175px,#4f91dd 180px,#5d9de0 186px,#95c5ea 189px,#4f90dd 194px,#4d8edd 196px)"></i><i style="background:linear-gradient(#edf4fb 0px,#e1eff9 121px,#c3e0f3 132px,#99c8ea 139px,#c7e2f3 144px,#94c5e9 148px,#89bee7 155px,#73aee4 160px,#79b3e5 163px,#5596de 167px,#6ca8e2 173px,#4585db 178px,#73aee4 186px,#4b8bdd 193px,#5495de 196px)"></i><i style="background:linear-gradient(#edf4fb 0px,#e1eff9 115px,#c4e1f3 130px,#aed4ee 136px,#83bbe6 139px,#89bee7 143px,#86bce7 148px,#9ac8eb 150px,#61a0e0 154px,#6aa7e2 158px,#5b9bdf 166px,#80b8e6 170px,#5193de 178px,#a2cdec 184px,#76b1e4 188px,#80b8e6 192px,#73aee4 196px)"></i><i style="background:linear-gradient(#edf4fb 0px,#e1eff9 115px,#b4d8f0 131px,#67a5e2 140px,#7bb4e5 146px,#67a4e1 152px,#4c8ddd 155px,#5d9ce0 164px,#8cc0e8 168px,#4b8cdd 174px,#7eb7e5 179px,#6eaae3 183px,#73aee4 196px)"></i><i style="background:linear-gradient(#edf4fb 0px,#e2f0f9 111px,#add4ee 133px,#64a2e1 142px,#4e90dd 146px,#599adf 158px,#6eaae3 161px,#498adc 170px,#69a6e2 175px,#68a6e2 188px,#6aa7e2 192px,#6ba8e2 196px)"></i><i style="background:linear-gradient(#edf4fb 0px,#e0eff8 105px,#b4d8f0 121px,#90c2e9 125px,#88bee7 129px,#4f91dd 134px,#66a4e1 139px,#7db6e5 144px,#5193de 148px,#5294de 152px,#4080da 166px,#4282db 170px,#4972d6 173px,#4282db 177px,#4477d8 183px,#4788dc 187px,#4279d9 190px,#4e8fdd 193px,#4686dc 196px)"></i><i style="background:linear-gradient(#edf4fb 0px,#e1eff9 99px,#b3d7ef 113px,#b8daf0 119px,#90c2e9 124px,#70ace3 133px,#4a8adc 136px,#7db6e5 140px,#4585db 146px,#4383db 152px,#4576d8 157px,#4888dc 164px,#4889dc 169px,#66a4e1 171px,#3f7cda 176px,#5092de 180px,#69a6e2 183px,#6daae3 187px,#75b0e4 190px,#69a6e2 196px)"></i><i style="background:linear-gradient(#edf4fb 0px,#e1eff9 77px,#9fccec 99px,#68a6e2 106px,#7bb5e5 111px,#71ade3 118px,#7eb7e5 123px,#4281db 127px,#4989dc 137px,#599adf 143px,#4888dc 153px,#4281db 166px,#66a4e1 170px,#4889dc 173px,#4788dc 181px,#5f9ee0 184px,#4585db 189px,#4f91dd 193px,#4279d9 196px)"></i><i style="background:linear-gradient(#edf4fb 0px,#e0eff8 106px,#b4d8f0 120px,#85bce7 129px,#92c4e9 137px,#72ade3 143px,#71ace3 148px,#4888dc 153px,#5092de 158px,#7db6e5 172px,#88bde7 175px,#67a5e2 179px,#5c9ce0 185px,#7cb5e5 190px,#80b8e6 196px)"></i><i style="background:linear-gradient(#edf4fb 0px,#e2eff9 134px,#bcddf1 147px,#9dcaeb 152px,#6ca9e2 156px,#7ab3e5 168px,#4f91dd 174px,#66a4e1 179px,#4787dc 184px,#69a6e2 190px,#4f91dd 194px,#5c9ce0 196px)"></i><i style="background:linear-gradient(#edf4fb 0px,#e1eff9 131px,#b9dbf1 142px,#88bee7 149px,#76b0e4 161px,#5193de 168px,#84bbe6 171px,#abd3ee 173px,#5999df 178px,#5294de 193px,#7bb5e5 196px)"></i><i style="background:linear-gradient(#edf4fb 0px,#e2f0f9 126px,#cce5f4 138px,#88bee7 148px,#4e90dd 159px,#4b8cdd 170px,#498adc 174px,#407fda 184px,#4787dc 188px,#4972d7 191px,#3f7eda 195px,#3f7cda 196px)"></i><i style="background:linear-gradient(#edf4fb 0px,#e1eff9 131px,#9fcbec 148px,#83bbe6 151px,#7cb6e5 155px,#4b8bdd 164px,#407fda 178px,#498adc 191px,#4c8ddd 196px)"></i><i style="background:linear-gradient(#edf4fb 0px,#e2eff9 137px,#acd3ee 149px,#b0d5ef 152px,#74afe4 158px,#6ba8e2 164px,#4180db 167px,#417ad9 170px,#5193de 175px,#4d8fdd 181px,#4686dc 194px,#4c8ddd 196px)"></i><i style="background:linear-gradient(#edf4fb 0px,#e3f0f9 129px,#c4e1f3 141px,#9bc9eb 148px,#69a6e2 151px,#7cb5e5 160px,#90c2e9 163px,#4a8bdc 167px,#5193de 175px,#3f7cda 183px,#4e6ed5 186px,#4788dc 189px,#4989dc 193px,#4b8cdd 196px)"></i><i style="background:linear-gradient(#edf4fb 0px,#e0eff8 136px,#c9e4f4 145px,#8fc2e8 150px,#a6cfed 154px,#62a1e1 160px,#62a0e1 164px,#5193de 168px,#62a1e1 171px,#5193de 175px,#4686dc 190px,#5193de 194px,#6ba7e2 196px)"></i><i style="background:linear-gradient(#edf4fb 0px,#e0eff8 142px,#b7daf0 156px,#9bc9eb 161px,#8dc0e8 170px,#7ab4e5 173px,#a6cfed 179px,#a6cfed 193px,#9fcbec 196px)"></i><i style="background:linear-gradient(#edf4fb 0px,#e1eff9 124px,#bcdcf1 137px,#a2cdec 141px,#a5cfed 147px,#bdddf1 151px,#80b8e6 159px,#93c4e9 169px,#6ba8e2 174px,#78b2e4 188px,#97c6ea 195px,#8ec1e8 196px)"></i><i style="background:linear-gradient(#edf4fb 0px,#e1eff9 89px,#aed4ef 111px,#7bb4e5 114px,#5c9ce0 118px,#4a8bdc 121px,#68a5e2 127px,#6aa7e2 133px,#4e8fdd 136px,#77b1e4 143px,#4e8fdd 150px,#69a6e2 156px,#4c8ddd 160px,#498adc 166px,#5899df 178px,#71ace3 180px,#3f7cda 184px,#4a71d6 194px,#4180db 196px)"></i><i style="background:linear-gradient(#edf4fb 0px,#e1eff9 89px,#c4e1f3 101px,#bfdff2 105px,#a3ceec 108px,#a9d1ed 111px,#6aa7e2 115px,#5193de 130px,#7fb7e5 133px,#5495de 137px,#5f9ee0 144px,#5092de 149px,#498adc 156px,#7bb5e5 160px,#4383db 163px,#4180db 166px,#5899df 170px,#4080da 172px,#4e6dd5 176px,#4576d8 183px,#4687dc 186px,#3f7eda 190px,#4d8edd 195px,#4888dc 196px)"></i><i style="background:linear-gradient(#edf4fb 0px,#e0eff8 115px,#a9d1ee 136px,#8ec1e8 139px,#77b1e4 145px,#81bae6 153px,#6eaae3 162px,#98c7ea 166px,#498adc 177px,#68a5e2 182px,#4382db 188px,#5e9ee0 196px)"></i><i style="background:linear-gradient(#edf4fb 0px,#e1eff9 128px,#97c7ea 150px,#85bce7 155px,#a4ceed 162px,#5c9ce0 166px,#7db6e5 171px,#5f9ee0 181px,#78b2e4 186px,#5f9ee0 193px,#66a4e1 196px)"></i><i style="background:linear-gradient(#edf4fb 0px,#e0eff8 97px,#aed5ef 120px,#77b1e4 125px,#a4ceed 141px,#7bb4e5 145px,#9ecbeb 149px,#84bbe6 155px,#5495de 159px,#62a0e1 163px,#70ace3 167px,#5294de 174px,#4c8ddd 184px,#72ade3 188px,#5f9ee0 196px)"></i><i style="background:linear-gradient(#c6e2f3 0px,#bcddf1 99px,#a9d1ed 108px,#a6d0ed 112px,#bcdcf1 115px,#79b3e4 124px,#83bbe6 136px,#5495de 141px,#77b2e4 146px,#6ba8e2 153px,#5193de 156px,#6fabe3 159px,#4d8edd 163px,#407fda 171px,#5a9bdf 175px,#4180db 185px,#3e7dda 196px)"></i><i style="background:linear-gradient(#edf4fb 0px,#e0eff8 106px,#a0ccec 127px,#82bae6 134px,#9cc9eb 142px,#8bc0e8 148px,#9ccaeb 152px,#81b9e6 161px,#75b0e4 173px,#6aa7e2 179px,#a1cdec 183px,#5c9ce0 189px,#66a4e1 196px)"></i><i style="background:linear-gradient(#edf4fb 0px,#e0eff8 92px,#d3e8f6 104px,#cee6f5 109px,#aad2ee 116px,#82bae6 134px,#8abfe7 137px,#6aa7e2 145px,#71ace3 152px,#79b3e4 155px,#4c8ddd 159px,#5f9ee0 164px,#4f91dd 168px,#71ace3 175px,#5798df 188px,#78b2e4 192px,#67a4e1 196px)"></i><i style="background:linear-gradient(#edf4fb 0px,#e0eff8 84px,#c3e1f3 97px,#9bc9eb 112px,#9ccaeb 116px,#5d9de0 122px,#7eb7e5 127px,#609fe0 132px,#72ade3 142px,#74afe4 144px,#4a8bdc 147px,#4378d8 165px,#5798df 180px,#4c8edd 194px,#599adf 196px)"></i><i style="background:linear-gradient(#edf4fb 0px,#e0eff8 79px,#b9dbf1 96px,#bdddf1 103px,#a2cdec 106px,#add4ee 110px,#77b1e4 114px,#73aee4 121px,#78b2e4 124px,#5092de 127px,#5c9ce0 138px,#5798df 144px,#3f7eda 149px,#4989dc 161px,#4484db 165px,#4f90dd 168px,#536ad4 172px,#4585db 184px,#5596de 196px)"></i><i style="background:linear-gradient(#edf4fb 0px,#e0eff8 77px,#b1d6ef 102px,#9bc9eb 106px,#96c6ea 109px,#a3ceec 113px,#87bde7 117px,#8fc2e9 120px,#5a9adf 124px,#5092de 129px,#79b3e5 132px,#5596de 137px,#5b9bdf 145px,#69a6e2 148px,#4687dc 155px,#4484db 176px,#4382db 184px,#4675d8 187px,#4c8ddd 191px,#4889dc 196px)"></i><i style="background:linear-gradient(#edf4fb 0px,#e1eff9 75px,#bfdef2 93px,#9cc9eb 98px,#a8d0ed 102px,#76b0e4 109px,#68a5e2 118px,#8abfe8 124px,#6ba8e2 129px,#5193de 132px,#5091de 136px,#4788dc 143px,#498adc 151px,#407fda 155px,#5091de 162px,#4282db 167px,#4279d9 171px,#4c6fd6 174px,#4f6dd5 180px,#4378d9 184px,#407fda 190px,#4282db 196px)"></i><i style="background:linear-gradient(#edf4fb 0px,#e1eff9 74px,#cce5f4 91px,#94c5ea 101px,#74afe4 106px,#add4ee 110px,#74afe4 114px,#6fabe3 119px,#7fb8e6 123px,#5899df 128px,#6aa7e2 132px,#3f7fda 137px,#5798df 142px,#407bda 146px,#65a3e1 153px,#4378d8 156px,#4686dc 166px,#4b70d6 172px,#8b3fc9 175px,#3e7dda 179px,#5d62d2 186px,#417ad9 190px,#7054ce 195px,#6a58d0 196px)"></i><i style="background:linear-gradient(#edf4fb 0px,#e0eff8 85px,#9bc9eb 116px,#81b9e6 120px,#7eb6e5 130px,#83bbe6 134px,#8bbfe8 137px,#5d9de0 147px,#62a1e1 153px,#4989dc 158px,#67a5e1 163px,#3e7dda 169px,#4483db 182px,#4576d8 186px,#3f7eda 196px)"></i><i style="background:linear-gradient(#edf4fb 0px,#e0eff8 93px,#a9d1ee 119px,#a8d1ed 124px,#7ab4e5 127px,#89bee7 131px,#71ade3 135px,#6ca8e2 140px,#72aee3 149px,#76b1e4 155px,#75b0e4 160px,#6da9e2 171px,#70ace3 175px,#4b8cdd 180px,#4d8edd 190px,#67a4e1 194px,#5596de 196px)"></i><i style="background:linear-gradient(#edf4fb 0px,#dfeef8 86px,#c2e0f2 96px,#bfdff2 100px,#b0d5ef 103px,#cfe6f5 108px,#b5d8f0 112px,#acd3ee 114px,#6da9e2 117px,#78b2e4 120px,#8bc0e8 123px,#7cb5e5 128px,#86bce7 132px,#5091de 141px,#6ca9e2 147px,#4a8bdc 156px,#67a5e2 159px,#4484db 168px,#69a6e2 172px,#4378d9 177px,#4576d8 180px,#3f7eda 187px,#4181db 193px,#655cd0 196px)"></i><i style="background:linear-gradient(#edf4fb 0px,#dfeef8 80px,#b0d6ef 102px,#c1dff2 107px,#6aa7e2 114px,#5d9ce0 118px,#5596de 128px,#5e9ee0 133px,#5f9fe0 138px,#407bd9 164px,#4282db 168px,#407bd9 175px,#4788dc 178px,#417ad9 179px,#635dd1 181px,#4774d7 186px,#8048cd 193px,#4576d8 196px)"></i><i style="background:linear-gradient(#edf4fb 0px,#e1eff9 80px,#cee6f5 98px,#72ade3 119px,#6ca8e2 133px,#67a4e1 139px,#498adc 142px,#4383db 162px,#4889dc 166px,#4675d8 172px,#625ed1 180px,#4b70d6 187px,#5468d4 191px,#4279d9 196px)"></i><i style="background:linear-gradient(#edf4fb 0px,#e0eff8 83px,#b7daf0 101px,#a9d1ed 105px,#b4d8f0 116px,#74afe4 122px,#66a4e1 126px,#8fc2e9 129px,#5999df 135px,#5b9bdf 146px,#4b8cdd 156px,#4686dc 176px,#4576d8 183px,#4180db 187px,#625ed1 190px,#4576d8 194px,#5667d3 196px)"></i><i style="background:linear-gradient(#edf4fb 0px,#e0eff8 94px,#c4e1f3 110px,#b4d8f0 115px,#afd5ef 120px,#76b1e4 125px,#6aa7e2 132px,#71ace3 135px,#99c8ea 138px,#66a4e1 148px,#6daae3 155px,#4b8cdd 158px,#64a2e1 170px,#5b9be0 173px,#4a8bdc 178px,#4889dc 185px,#4888dc 189px,#4484db 195px,#407fda 196px)"></i><i style="background:linear-gradient(#edf4fb 0px,#e1eff9 94px,#aed5ef 118px,#83bae6 128px,#73aee3 145px,#5395de 153px,#90c2e9 158px,#5f9fe0 162px,#80b8e6 167px,#4383db 173px,#4a8bdc 178px,#4f6dd5 181px,#5b63d2 185px,#417ad9 187px,#4787dc 191px,#4c8ddd 196px)"></i><i style="background:linear-gradient(#edf4fb 0px,#e2f0f9 79px,#b5d8f0 103px,#8ec1e8 108px,#8dc0e8 112px,#5f9ee0 118px,#70ace3 122px,#5f9fe0 126px,#79b3e5 134px,#7eb7e5 139px,#4b8cdd 142px,#4788dc 148px,#64a2e1 153px,#4889dc 158px,#3f7cda 166px,#5a64d2 169px,#3f7cda 171px,#3e7dda 177px,#4f6dd5 181px,#4181db 186px,#5e61d2 195px,#5c62d2 196px)"></i><i style="background:linear-gradient(#edf4fb 0px,#e0eff8 76px,#afd5ef 98px,#98c7ea 103px,#7eb7e5 106px,#a0ccec 110px,#5597df 116px,#5f9fe0 123px,#68a5e2 126px,#62a0e1 131px,#6ca8e2 138px,#4b8cdd 142px,#4d8edd 146px,#5496de 150px,#609fe0 153px,#4282db 158px,#4e6ed5 176px,#8e3abd 179px,#8e3abd 181px,#5964d3 187px,#3e7dda 194px,#4873d7 196px)"></i><i style="background:linear-gradient(#edf4fb 0px,#e2eff9 81px,#cce5f4 95px,#b4d8f0 102px,#75b0e4 109px,#91c3e9 115px,#66a4e1 123px,#5495de 129px,#4d8edd 136px,#5597df 141px,#4787dc 144px,#79b3e5 147px,#4a8bdc 151px,#4b8bdd 160px,#5596df 163px,#4279d9 165px,#516bd5 168px,#4675d8 176px,#4477d8 180px,#5766d3 184px,#5567d4 188px,#8445cd 192px,#516bd4 196px)"></i><i style="background:linear-gradient(#edf4fb 0px,#e2f0f9 95px,#a7d0ed 116px,#a8d0ed 121px,#90c2e9 125px,#6ca8e2 133px,#7eb7e5 138px,#5e9ee0 143px,#7ab3e5 148px,#5f9ee0 152px,#4d8fdd 162px,#5294de 167px,#70ace3 170px,#4181db 173px,#407bd9 193px,#4f6dd5 196px)"></i><i style="background:linear-gradient(#edf4fb 0px,#e0eff8 104px,#bedef2 119px,#9cc9eb 129px,#99c8ea 133px,#7fb8e6 141px,#68a5e2 147px,#7fb7e5 151px,#7db6e5 155px,#9dcaeb 158px,#5d9de0 163px,#5c9ce0 168px,#5b9bdf 171px,#5f9ee0 174px,#4686dc 186px,#6ba7e2 190px,#4686dc 194px,#4a8bdc 196px)"></i><i style="background:linear-gradient(#edf4fb 0px,#e0eff8 104px,#b1d6ef 126px,#a7d0ed 130px,#b3d7f0 137px,#8abfe7 141px,#90c2e9 147px,#8ec1e8 150px,#9ac9eb 153px,#6eaae3 158px,#71ace3 164px,#73aee3 170px,#4282db 181px,#5294de 184px,#70ace3 186px,#4788dc 193px,#5395de 196px)"></i><i style="background:linear-gradient(#edf4fb 0px,#e0eff8 96px,#b0d5ef 123px,#93c4e9 129px,#93c4e9 134px,#87bde7 140px,#6aa7e2 145px,#a2cdec 150px,#5798df 156px,#6aa7e2 159px,#6ca9e2 162px,#5193de 165px,#4585db 186px,#5092de 189px,#4b70d6 191px,#605fd1 192px,#4585db 195px,#4c8ddd 196px)"></i><i style="background:linear-gradient(#edf4fb 0px,#e0eff8 91px,#b0d5ef 116px,#76b1e4 134px,#7ab4e5 149px,#5c9ce0 153px,#6ca8e2 156px,#3f7cda 162px,#4585db 167px,#4382db 172px,#5a9bdf 177px,#77b1e4 179px,#3f7eda 183px,#5766d3 187px,#417ad9 192px,#615fd1 196px)"></i><i style="background:linear-gradient(#edf4fb 0px,#e1eff9 94px,#bdddf1 114px,#a7d0ed 119px,#b7d9f0 123px,#8ec1e8 128px,#a2cdec 131px,#63a1e1 137px,#67a5e2 140px,#7db6e5 144px,#4c8ddd 152px,#78b2e4 157px,#5092de 168px,#5294de 173px,#85bce7 176px,#75b0e4 178px,#498adc 181px,#4477d8 190px,#7d4acd 193px,#526ad4 196px)"></i><i style="background:linear-gradient(#edf4fb 0px,#e1eff9 104px,#badbf1 127px,#7db6e5 134px,#8bbfe8 140px,#81b9e6 144px,#86bde7 150px,#add4ee 153px,#66a4e1 160px,#5294de 170px,#5596de 176px,#5294de 183px,#4788dc 191px,#5091de 196px)"></i><i style="background:linear-gradient(#edf4fb 0px,#e0eff8 99px,#c0dff2 121px,#9ecbeb 126px,#afd5ef 129px,#86bce7 135px,#88bde7 140px,#5092de 153px,#80b9e6 159px,#7cb5e5 163px,#4d8edd 167px,#5395de 173px,#4787dc 183px,#3e7dda 191px,#4279d9 196px)"></i><i style="background:linear-gradient(#edf4fb 0px,#e0eff8 99px,#c3e0f3 118px,#bcdcf1 123px,#92c4e9 129px,#8fc2e8 133px,#5f9ee0 138px,#76b1e4 143px,#5596de 148px,#6fabe3 152px,#5a9adf 156px,#8abfe7 159px,#4686dc 163px,#4586db 168px,#4a8bdc 174px,#4873d7 176px,#5e60d2 180px,#4484db 184px,#4c6fd6 194px,#4d6ed5 196px)"></i><i style="background:linear-gradient(#edf4fb 0px,#e2f0f9 100px,#b3d7ef 126px,#8ec1e8 131px,#81b9e6 136px,#5e9de0 141px,#70ace3 148px,#4f90dd 160px,#78b2e4 163px,#4888dc 169px,#4b8cdd 179px,#63a1e1 182px,#4675d7 185px,#5a64d2 187px,#3f7cda 189px,#4b8cdd 196px)"></i><i style="background:linear-gradient(#edf4fb 0px,#e0eff8 99px,#b8daf0 118px,#79b3e5 133px,#a7d0ed 136px,#76b1e4 140px,#89bee7 152px,#95c5ea 154px,#4d8edd 160px,#4282db 169px,#5193de 176px,#5c9ce0 180px,#68a6e2 182px,#4585db 184px,#4d6ed6 186px,#5395de 189px,#4180db 195px,#4383db 196px)"></i><i style="background:linear-gradient(#edf4fb 0px,#e0eff8 100px,#b0d6ef 120px,#96c6ea 125px,#a9d2ee 129px,#65a3e1 133px,#89bee7 137px,#5c9ce0 141px,#66a4e1 147px,#4c8ddd 152px,#6da9e3 156px,#65a3e1 160px,#69a6e2 162px,#4787dc 165px,#6aa7e2 168px,#3e7dda 171px,#4686dc 177px,#516bd5 185px,#3e7dda 190px,#516bd5 194px,#3e7dda 196px)"></i><i style="background:linear-gradient(#edf4fb 0px,#e1eff9 101px,#b1d6ef 126px,#acd3ee 129px,#9ecaeb 132px,#92c3e9 142px,#6eaae3 147px,#87bde7 151px,#4c8ddd 157px,#5495de 161px,#5a9adf 164px,#67a5e2 168px,#407fda 171px,#4383db 175px,#5469d4 179px,#5e61d2 182px,#4585db 186px,#63a2e1 188px,#417ad9 191px,#4e6ed5 196px)"></i><i style="background:linear-gradient(#edf4fb 0px,#e0eff8 102px,#cee6f5 116px,#a9d1ee 125px,#76b0e4 135px,#68a5e2 144px,#6ca9e2 154px,#69a6e2 157px,#7bb5e5 162px,#407fda 171px,#6a59d0 175px,#4675d8 180px,#3f7eda 191px,#4d8fdd 195px,#4686dc 196px)"></i><i style="background:linear-gradient(#edf4fb 0px,#e0eff8 103px,#c3e1f3 118px,#b6d9f0 122px,#a5cfed 132px,#86bde7 137px,#8cc0e8 141px,#4f90dd 154px,#4c8ddd 159px,#5e9ee0 163px,#66a4e1 172px,#4e90dd 176px,#3e7dda 178px,#5469d4 180px,#407fda 184px,#526bd4 193px,#4484db 196px)"></i><i style="background:linear-gradient(#edf4fb 0px,#e1eff9 106px,#b4d8f0 127px,#b0d6ef 133px,#b2d6ef 136px,#7bb5e5 139px,#7cb5e5 145px,#82bae6 149px,#5798df 156px,#5798df 164px,#4b8cdd 168px,#69a7e2 173px,#4c8ddd 181px,#73aee3 185px,#3e7dda 191px,#5766d3 194px,#4576d8 196px)"></i><i style="background:linear-gradient(#edf4fb 0px,#e0eff8 102px,#b5d9f0 128px,#7eb6e5 134px,#63a2e1 149px,#6fabe3 155px,#4d8edd 160px,#5999df 164px,#5495de 168px,#6da9e2 170px,#4282db 174px,#4686dc 184px,#4181db 188px,#7fb8e6 191px,#4585db 195px,#4282db 196px)"></i><i style="background:linear-gradient(#edf4fb 0px,#e2f0f9 106px,#b1d6ef 128px,#9dcaeb 135px,#8bbfe8 139px,#8ec1e8 142px,#72ade3 145px,#7ab3e5 158px,#5596de 167px,#79b3e4 171px,#5294de 179px,#71ace3 182px,#4180db 186px,#4972d7 195px,#417ad9 196px)"></i><i style="background:linear-gradient(#edf4fb 0px,#e0eff8 109px,#c0dff2 129px,#c7e2f3 134px,#92c4e9 138px,#82bae6 145px,#99c8eb 148px,#69a6e2 157px,#79b3e5 162px,#5697df 167px,#5092de 173px,#62a1e1 177px,#4181db 188px,#4f91dd 196px)"></i><i style="background:linear-gradient(#edf4fb 0px,#e0eff8 101px,#badbf1 125px,#97c7ea 129px,#8ec1e8 137px,#6aa7e2 143px,#69a6e2 148px,#5092de 151px,#7bb4e5 156px,#4e90dd 163px,#73aee4 170px,#5193de 174px,#61a0e1 177px,#4282db 181px,#4477d8 185px,#4f6dd5 188px,#4484db 195px,#407fda 196px)"></i><i style="background:linear-gradient(#edf4fb 0px,#e0eff8 99px,#cbe4f4 111px,#b2d6ef 120px,#9ac8eb 124px,#a1cdec 133px,#8abfe7 137px,#9fcbec 141px,#4e90dd 149px,#64a2e1 153px,#5395de 158px,#65a3e1 164px,#4279d9 174px,#4d8edd 183px,#407bda 192px,#3f7eda 196px)"></i><i style="background:linear-gradient(#edf4fb 0px,#e0eff8 98px,#b7daf0 121px,#83bae6 132px,#77b1e4 138px,#8abfe8 141px,#7bb4e5 144px,#93c4e9 147px,#5193de 152px,#6fabe3 158px,#4477d8 167px,#4282db 177px,#4585db 185px,#4873d7 189px,#4e6ed5 193px,#4586db 196px)"></i><i style="background:linear-gradient(#edf4fb 0px,#e0eff8 102px,#bedef2 120px,#b1d6ef 126px,#84bbe6 130px,#8bbfe8 135px,#73aee3 139px,#72ade3 142px,#64a2e1 145px,#79b3e4 148px,#68a6e2 156px,#5294de 162px,#5294de 166px,#4e8fdd 178px,#407fda 179px,#5b63d2 182px,#4b70d6 186px,#8e3abc 191px,#794dcd 194px,#5964d3 196px)"></i><i style="background:linear-gradient(#edf4fb 0px,#e0eff8 105px,#bedef2 131px,#badcf1 135px,#9ac8eb 138px,#94c5ea 142px,#6ca9e2 145px,#80b8e6 153px,#81b9e6 156px,#3f7eda 171px,#5092de 185px,#4477d8 190px,#5568d4 196px)"></i><i style="background:linear-gradient(#edf4fb 0px,#e1eff9 100px,#c8e3f4 117px,#acd3ee 127px,#68a6e2 135px,#71ace3 140px,#7fb8e6 144px,#7ab4e5 148px,#4c8ddd 154px,#6aa7e2 159px,#5193de 168px,#77b1e4 170px,#4c8ddd 174px,#63a1e1 177px,#3f7cda 181px,#4a71d6 185px,#3f7fda 191px,#5667d3 195px,#4e6ed5 196px)"></i><i style="background:linear-gradient(#edf4fb 0px,#e0eff8 99px,#9fccec 127px,#acd3ee 130px,#78b2e4 135px,#9ac8eb 140px,#80b9e6 149px,#73aee4 155px,#7ab4e5 162px,#7bb4e5 165px,#3f7eda 171px,#4686dc 176px,#407bd9 192px,#6c57cf 195px,#665bd0 196px)"></i><i style="background:linear-gradient(#edf4fb 0px,#e2f0f9 108px,#cfe7f5 120px,#b4d8f0 130px,#86bde7 135px,#7fb7e5 141px,#91c3e9 149px,#acd3ee 152px,#83bbe6 157px,#72ade3 167px,#4788dc 173px,#6ba8e2 179px,#7fb7e5 185px,#4c8ddd 189px,#4c8ddd 196px)"></i><i style="background:linear-gradient(#edf4fb 0px,#e0eff8 104px,#a8d1ed 131px,#81b9e6 135px,#7fb7e5 147px,#9bc9eb 150px,#6ba8e2 155px,#62a1e1 162px,#5192de 165px,#67a5e2 168px,#4888dc 172px,#65a3e1 176px,#4483db 180px,#5f9ee0 183px,#4a8bdc 191px,#6da9e2 196px)"></i><i style="background:linear-gradient(#edf4fb 0px,#e0eff8 99px,#cfe7f5 110px,#c0dff2 121px,#b2d7ef 125px,#87bde7 129px,#89bee7 133px,#7bb4e5 137px,#71ade3 140px,#61a0e1 143px,#7bb4e5 146px,#4e8fdd 150px,#75b0e4 154px,#5a9adf 159px,#4c8ddd 166px,#5d9de0 175px,#3f7cda 180px,#635dd1 183px,#407fda 186px,#5697df 188px,#4774d7 192px,#5866d3 196px)"></i><i style="background:linear-gradient(#edf4fb 0px,#dfeff8 111px,#a3ceec 135px,#92c4e9 138px,#76b1e4 141px,#89bee7 144px,#5c9ce0 148px,#91c3e9 154px,#70ace3 162px,#4e90dd 165px,#70ace3 169px,#4282db 173px,#5193de 177px,#3f7eda 179px,#4d6fd6 182px,#407fda 188px,#4a8bdc 196px)"></i><i style="background:linear-gradient(#edf4fb 0px,#e1eff9 106px,#b9dbf1 132px,#cae4f4 136px,#9dcaeb 140px,#9dcaeb 144px,#69a6e2 148px,#8abfe7 157px,#7fb8e5 161px,#83bbe6 164px,#5192de 170px,#498adc 178px,#4477d8 186px,#3e7dda 196px)"></i><i style="background:linear-gradient(#edf4fb 0px,#e1eff9 101px,#b1d6ef 127px,#87bde7 132px,#62a1e1 143px,#5597df 147px,#64a2e1 156px,#75afe4 160px,#4d8fdd 163px,#5091de 173px,#4576d8 177px,#4383db 184px,#5468d4 186px,#8048cd 189px,#5964d3 195px,#5c62d2 196px)"></i><i style="background:linear-gradient(#edf4fb 0px,#e0eff8 104px,#aed4ee 129px,#7fb7e5 134px,#6da9e2 138px,#5091de 141px,#7cb5e5 149px,#5d9de0 155px,#66a4e1 158px,#4b8cdd 161px,#5496de 165px,#4483db 174px,#5667d3 177px,#4686dc 184px,#4a8bdc 190px,#4972d7 194px,#4e6ed5 196px)"></i><i style="background:linear-gradient(#edf4fb 0px,#e0eff8 102px,#badbf1 122px,#a9d1ed 129px,#8bbfe8 137px,#a2cdec 140px,#7bb4e5 144px,#84bbe6 149px,#5b9bdf 155px,#4b8cdd 164px,#4686dc 173px,#3f7eda 177px,#4972d6 179px,#7451ce 181px,#4080da 184px,#4686dc 193px,#4b70d6 196px)"></i><i style="background:linear-gradient(#edf4fb 0px,#e0eff8 98px,#c2e0f2 115px,#9ecbeb 124px,#96c6ea 135px,#5c9ce0 139px,#5a9adf 144px,#5c9ce0 147px,#88bee7 150px,#6fabe3 152px,#4b8bdd 154px,#5193de 156px,#6eaae3 158px,#4282db 162px,#4b8cdd 174px,#4e6dd5 181px,#655cd1 184px,#5865d3 187px,#8544cc 190px,#6e56cf 194px,#6a58d0 196px)"></i><i style="background:linear-gradient(#edf4fb 0px,#e0eff8 98px,#cbe4f4 116px,#b9dbf1 121px,#b3d7ef 124px,#92c3e9 128px,#96c6ea 132px,#4f91dd 147px,#5798df 152px,#5092de 157px,#4382db 163px,#4c8ddd 173px,#4972d7 177px,#5092de 180px,#417ad9 182px,#7352ce 184px,#615ed1 186px,#4477d8 189px,#6a58d0 194px,#5964d3 196px)"></i><i style="background:linear-gradient(#edf4fb 0px,#e2f0f9 101px,#9dcaeb 127px,#95c5ea 133px,#5e9de0 146px,#4687dc 166px,#5568d4 170px,#4282db 178px,#4378d8 183px,#675bd0 188px,#4d6ed5 194px,#5b62d2 196px)"></i><i style="background:linear-gradient(#edf4fb 0px,#e0eff8 101px,#c8e3f4 115px,#98c7ea 134px,#5f9ee0 144px,#5495de 151px,#7ab4e5 155px,#64a2e1 160px,#62a0e1 163px,#417ad9 172px,#4279d9 176px,#3f7fda 180px,#5a64d3 184px,#8d3cc2 186px,#8842cc 188px,#4e6ed5 190px,#4972d7 194px,#5964d3 196px)"></i><i style="background:linear-gradient(#edf4fb 0px,#e1eff9 108px,#bedef2 132px,#acd3ee 136px,#88bee7 142px,#b1d6ef 146px,#5293de 153px,#6aa7e2 159px,#599adf 166px,#66a4e1 171px,#4972d7 179px,#3f7cda 186px,#6f55cf 189px,#4576d8 193px,#506cd5 196px)"></i><i style="background:linear-gradient(#edf4fb 0px,#e3f0f9 111px,#badbf1 133px,#88bde7 149px,#94c5ea 156px,#66a4e1 161px,#61a0e0 169px,#71ade3 178px,#4686dc 182px,#5798df 188px,#417ad9 195px,#3f7eda 196px)"></i><i style="background:linear-gradient(#edf4fb 0px,#e1eff9 112px,#a8d1ed 141px,#85bce7 145px,#8ec1e8 150px,#71ade3 155px,#4889dc 175px,#4f90dd 179px,#4788dc 191px,#5092de 194px,#4279d9 196px)"></i><i style="background:linear-gradient(#edf4fb 0px,#e0eff8 110px,#b9dbf1 136px,#78b2e4 151px,#79b3e4 156px,#6aa7e2 160px,#73aee3 164px,#3f7cda 179px,#66a4e1 183px,#3e7dda 186px,#4378d8 192px,#4181db 196px)"></i><i style="background:linear-gradient(#edf4fb 0px,#e2f0f9 106px,#b9dbf1 132px,#98c7ea 139px,#70ace3 147px,#63a2e1 153px,#75b0e4 157px,#4989dc 162px,#609fe0 172px,#4d8fdd 177px,#4774d7 182px,#4181db 191px,#7054ce 195px,#6e56cf 196px)"></i><i style="background:linear-gradient(#edf4fb 0px,#e1eff9 110px,#d0e7f5 126px,#add4ee 134px,#74afe4 146px,#6aa7e2 155px,#4a8bdc 161px,#5697df 166px,#5798df 175px,#4378d8 181px,#5766d3 190px,#4279d9 193px,#5b63d2 196px)"></i><i style="background:linear-gradient(#edf4fb 0px,#e0eff8 111px,#b7d9f0 129px,#bcddf1 136px,#8cc0e8 141px,#92c3e9 145px,#71ade3 151px,#70ace3 154px,#7fb7e5 157px,#6da9e2 163px,#609fe0 168px,#4585db 183px,#5697df 187px,#417ad9 189px,#645cd1 191px,#3f7cda 196px)"></i><i style="background:linear-gradient(#edf4fb 0px,#e0eff8 117px,#bcddf1 140px,#91c3e9 148px,#99c8ea 154px,#5496de 160px,#67a4e1 166px,#4787dc 174px,#63a2e1 180px,#4181db 185px,#4477d8 196px)"></i><i style="background:linear-gradient(#edf4fb 0px,#e1eff9 115px,#acd3ee 137px,#8dc1e8 148px,#72ade3 159px,#65a3e1 162px,#82bae6 165px,#4d8edd 168px,#498adc 177px,#417ad9 181px,#526ad4 196px)"></i><i style="background:linear-gradient(#edf4fb 0px,#e0eff8 111px,#c4e1f3 128px,#b2d7ef 134px,#99c8ea 141px,#7cb5e5 149px,#5091de 153px,#5596df 166px,#4f91dd 171px,#4972d7 181px,#615fd1 184px,#6c57cf 189px,#526ad4 192px,#8c3dc5 195px,#8c3ec6 196px)"></i><i style="background:linear-gradient(#edf4fb 0px,#e1eff9 103px,#badbf1 128px,#9bc9eb 135px,#97c7ea 139px,#5c9ce0 153px,#4788dc 162px,#4889dc 166px,#4e6dd5 170px,#4383db 176px,#5468d4 188px,#4675d8 192px,#6f55cf 196px)"></i><i style="background:linear-gradient(#edf4fb 0px,#e1eff9 107px,#c0dff2 127px,#b5d8f0 134px,#4f90dd 154px,#6ca9e2 158px,#4e90dd 166px,#3e7dda 184px,#5965d3 189px,#4774d7 193px,#5a64d3 196px)"></i><i style="background:linear-gradient(#edf4fb 0px,#e2eff9 112px,#bbdcf1 131px,#b2d6ef 137px,#91c3e9 141px,#89bee7 148px,#74afe4 157px,#67a5e1 160px,#77b1e4 164px,#4e8fdd 169px,#407fda 184px,#3f7eda 187px,#5b9be0 190px,#407fda 193px,#5a63d2 196px)"></i><i style="background:linear-gradient(#edf4fb 0px,#e1eff9 112px,#b9dbf1 143px,#6fabe3 154px,#73aee4 158px,#7cb5e5 161px,#4585db 166px,#66a4e1 171px,#5294de 182px,#68a6e2 185px,#417ad9 189px,#417ad9 196px)"></i><i style="background:linear-gradient(#edf4fb 0px,#e0eff8 119px,#bfdff2 136px,#a5cfed 146px,#75b0e4 149px,#8cc0e8 153px,#86bce7 156px,#84bbe6 159px,#75b0e4 162px,#8cc0e8 166px,#4c8ddd 171px,#4d8fdd 177px,#417ad9 181px,#67a5e1 186px,#3f7cda 194px,#4585db 196px)"></i><i style="background:linear-gradient(#edf4fb 0px,#e1eff9 120px,#b8daf0 145px,#87bde7 153px,#7fb7e5 167px,#5899df 173px,#3e7dda 191px,#5596de 195px,#4f90dd 196px)"></i><i style="background:linear-gradient(#edf4fb 0px,#e0eff8 124px,#c7e2f3 147px,#8ec1e8 159px,#94c5e9 163px,#74afe4 167px,#8bc0e8 171px,#5e9de0 175px,#76b1e4 179px,#5697df 183px,#64a2e1 191px,#4788dc 195px,#4c8ddd 196px)"></i><i style="background:linear-gradient(#edf4fb 0px,#e1eff9 122px,#d4e9f6 134px,#badbf1 141px,#9dcaeb 150px,#a6cfed 157px,#75b0e4 161px,#acd3ee 166px,#79b3e4 170px,#5596de 176px,#72aee3 180px,#4180db 188px,#4a8bdc 196px)"></i><i style="background:linear-gradient(#edf4fb 0px,#e0eff8 116px,#a6d0ed 147px,#82bae6 154px,#71ade3 160px,#9ac8eb 164px,#5596df 174px,#4675d8 179px,#417ad9 182px,#5798df 186px,#4585db 192px,#4576d8 196px)"></i><i style="background:linear-gradient(#edf4fb 0px,#e1eff9 110px,#b8daf1 136px,#a0ccec 143px,#94c4e9 149px,#6fabe3 159px,#6ca9e2 164px,#5495de 174px,#4585db 183px,#3f7cda 189px,#407bda 194px,#4889dc 196px)"></i><i style="background:linear-gradient(#edf4fb 0px,#e2f0f9 107px,#bbdcf1 133px,#a3ceec 138px,#9bc9eb 143px,#a6d0ed 146px,#79b3e5 149px,#80b8e6 156px,#5899df 162px,#5496de 169px,#4d8fdd 173px,#4675d8 181px,#498adc 185px,#4483db 189px,#3e7dda 194px,#4675d8 196px)"></i><i style="background:linear-gradient(#edf4fb 0px,#e2eff9 105px,#bedef2 127px,#b0d5ef 131px,#b5d9f0 135px,#cae4f4 139px,#5898df 148px,#68a5e2 152px,#5697df 159px,#5394de 163px,#5596df 166px,#4687dc 173px,#5192de 176px,#4774d7 179px,#685ad0 183px,#8c3dc3 186px,#4576d8 192px,#7550ce 196px)"></i><i style="background:linear-gradient(#edf4fb 0px,#e1eff9 109px,#cde6f5 120px,#b3d7ef 131px,#bdddf1 135px,#7cb5e5 140px,#73aee4 145px,#8dc1e8 148px,#5f9ee0 152px,#63a1e1 159px,#4888dc 162px,#63a2e1 166px,#3f7eda 170px,#4279d9 173px,#4378d8 184px,#4a71d6 187px,#4686dc 191px,#5766d3 194px,#784ece 196px)"></i><i style="background:linear-gradient(#edf4fb 0px,#e2f0f9 107px,#badcf1 131px,#a2cdec 135px,#9cc9eb 145px,#8fc2e9 150px,#61a0e0 157px,#6ca9e2 164px,#4585db 168px,#4f91dd 176px,#4972d7 178px,#5568d4 180px,#4279d9 183px,#655cd0 185px,#5766d3 189px,#526ad4 194px,#5b63d2 196px)"></i><i style="background:linear-gradient(#edf4fb 0px,#e0eff8 119px,#bedef2 138px,#79b3e4 161px,#89bee7 164px,#79b3e4 169px,#5495de 178px,#5b9bdf 182px,#4a8adc 188px,#3f7cda 195px,#4484db 196px)"></i><i style="background:linear-gradient(#edf4fb 0px,#e0eff8 127px,#b4d8f0 154px,#80b9e6 160px,#91c3e9 166px,#68a6e2 170px,#66a4e1 182px,#64a3e1 185px,#4e8fdd 190px,#4f91dd 196px)"></i><i style="background:linear-gradient(#edf4fb 0px,#e1eff9 125px,#a6d0ed 158px,#76b0e4 162px,#79b3e5 168px,#71ade3 171px,#94c5e9 174px,#5899df 178px,#5999df 181px,#4282db 185px,#5294de 190px,#4774d7 193px,#4873d7 196px)"></i><i style="background:linear-gradient(#edf4fb 0px,#e0eff8 123px,#b1d6ef 148px,#86bde7 152px,#8bbfe8 165px,#5092de 171px,#62a1e1 176px,#5c9ce0 179px,#80b9e6 182px,#407fda 185px,#3f7fda 187px,#5193de 190px,#3f7fda 196px)"></i><i style="background:linear-gradient(#edf4fb 0px,#e1eff9 127px,#b3d7f0 148px,#bcdcf1 153px,#85bce7 157px,#8dc1e8 163px,#68a5e2 167px,#7db6e5 172px,#71ace3 175px,#4b8cdd 178px,#4383db 185px,#3e7dda 189px,#4774d7 192px,#4788dc 196px)"></i><i style="background:linear-gradient(#edf4fb 0px,#e2f0f9 122px,#b0d5ef 146px,#a8d1ed 154px,#78b2e4 159px,#80b9e6 164px,#4d8edd 172px,#4687dc 185px,#5964d3 196px)"></i><i style="background:linear-gradient(#edf4fb 0px,#e1eff9 114px,#b6d9f0 137px,#86bce7 145px,#85bce7 148px,#6da9e3 151px,#6aa7e2 156px,#64a2e1 168px,#6fabe3 171px,#407fda 176px,#4a71d6 182px,#6859d0 185px,#3e7dda 188px,#6a58d0 196px)"></i><i style="background:linear-gradient(#edf4fb 0px,#e2eff9 121px,#c1e0f2 139px,#aad2ee 142px,#aed4ef 151px,#69a6e2 156px,#74afe4 160px,#5496de 163px,#7ab4e5 169px,#3f7eda 182px,#4279d9 187px,#4774d7 191px,#4972d7 195px,#4f6dd5 196px)"></i><i style="background:linear-gradient(#edf4fb 0px,#e1eff9 123px,#d0e7f5 136px,#b3d7f0 149px,#acd3ee 156px,#93c4e9 166px,#6eaae3 175px,#6aa7e2 182px,#73aee3 184px,#498adc 187px,#6ba8e2 191px,#4788dc 195px,#4989dc 196px)"></i><i style="background:linear-gradient(#edf4fb 0px,#e0eff8 124px,#cde5f5 136px,#c1e0f2 141px,#acd3ee 149px,#87bde7 153px,#9bc9eb 157px,#7ab3e5 164px,#7cb5e5 173px,#5e9de0 179px,#8abfe7 183px,#5b9be0 188px,#4080da 196px)"></i><i style="background:linear-gradient(#edf4fb 0px,#e2eff9 129px,#bdddf1 150px,#87bde7 167px,#64a2e1 176px,#4281db 181px,#5395de 196px)"></i><i style="background:linear-gradient(#edf4fb 0px,#e1eff9 131px,#bcddf1 153px,#91c3e9 157px,#82bae6 164px,#64a2e1 169px,#62a1e1 179px,#4382db 187px,#4787dc 196px)"></i><i style="background:linear-gradient(#edf4fb 0px,#e1eff9 127px,#bdddf1 153px,#8cc0e8 161px,#7cb5e5 165px,#72ade3 169px,#7ab4e5 173px,#4282db 180px,#5e9de0 187px,#4180db 194px,#4d8edd 196px)"></i><i style="background:linear-gradient(#edf4fb 0px,#e0eff8 126px,#92c4e9 157px,#6ba8e2 163px,#71ade3 169px,#5f9fe0 175px,#5e9ee0 182px,#407fda 188px,#4c6fd6 192px,#4989dc 194px,#4b8cdd 196px)"></i><i style="background:linear-gradient(#edf4fb 0px,#e2eff9 118px,#a5cfed 151px,#7ab4e5 156px,#73aee3 166px,#5193de 170px,#5d9de0 174px,#4477d8 178px,#4585db 183px,#506cd5 187px,#4383db 196px)"></i><i style="background:linear-gradient(#edf4fb 0px,#e0eff8 124px,#cbe5f4 139px,#badcf1 147px,#add4ee 153px,#95c5ea 158px,#99c8ea 163px,#6ba8e2 168px,#5e9de0 173px,#76b0e4 175px,#4181db 178px,#3e7eda 181px,#5496de 184px,#4687dc 188px,#407bd9 196px)"></i><i style="background:linear-gradient(#edf4fb 0px,#e1eff9 126px,#bfdef2 153px,#9ecbec 161px,#7db6e5 168px,#75b0e4 172px,#5092de 175px,#86bce7 179px,#86bce7 183px,#4484db 187px,#4686dc 196px)"></i><i style="background:linear-gradient(#edf4fb 0px,#e0eff8 128px,#b7daf0 150px,#94c5ea 156px,#7db6e5 170px,#5c9ce0 173px,#7ab4e5 177px,#5597df 184px,#4181db 188px,#6fabe3 191px,#5f9ee0 196px)"></i><i style="background:linear-gradient(#edf4fb 0px,#e1eff9 122px,#c6e2f3 143px,#93c4e9 152px,#a6cfed 158px,#81b9e6 162px,#88bee7 165px,#5596de 170px,#62a1e1 174px,#417ad9 178px,#6ca8e2 192px,#77b1e4 194px,#4f90dd 196px)"></i><i style="background:linear-gradient(#edf4fb 0px,#e0eff8 118px,#badcf1 139px,#bcddf1 143px,#94c5ea 150px,#85bce7 158px,#5d9ce0 161px,#6da9e2 166px,#8abfe8 168px,#4b8cdd 172px,#498adc 179px,#4d6ed6 187px,#526ad4 191px,#7e49cd 194px,#5766d3 196px)"></i><i style="background:linear-gradient(#edf4fb 0px,#e1eff9 120px,#c0dff2 137px,#a5cfed 146px,#99c7ea 150px,#8abfe7 154px,#66a4e1 161px,#4989dc 164px,#6aa7e2 170px,#77b1e4 172px,#3e7dda 176px,#516bd5 185px,#407bd9 189px,#774fce 192px,#5568d4 196px)"></i><i style="background:linear-gradient(#edf4fb 0px,#e1eff9 120px,#b7daf0 143px,#9fcbec 153px,#a4ceed 160px,#71ace3 164px,#7eb7e5 171px,#7db6e5 176px,#98c7ea 179px,#73aee4 181px,#4282db 183px,#4889dc 189px,#4383db 193px,#4b8cdd 196px)"></i><i style="background:linear-gradient(#edf4fb 0px,#e0eff8 126px,#c7e3f3 145px,#88bee7 161px,#66a4e1 175px,#66a4e1 178px,#5092de 181px,#5294de 189px,#4686dc 196px)"></i><i style="background:linear-gradient(#edf4fb 0px,#e0eff8 125px,#c5e2f3 141px,#97c7ea 147px,#a7d0ed 152px,#4d8edd 166px,#67a5e2 170px,#4282db 176px,#407fda 185px,#7650ce 193px,#3e7dda 196px)"></i><i style="background:linear-gradient(#edf4fb 0px,#e2f0f9 123px,#bdddf1 146px,#afd5ef 149px,#9dcaeb 157px,#5394de 165px,#91c3e9 171px,#70ace3 174px,#4686dc 177px,#4686dc 183px,#5c62d2 190px,#8841cc 194px,#7a4dcd 196px)"></i><i style="background:linear-gradient(#edf4fb 0px,#e1eff9 125px,#c1e0f2 146px,#9dcaeb 153px,#94c5ea 156px,#6eabe3 159px,#7cb5e5 166px,#63a1e1 171px,#6eaae3 176px,#407fda 180px,#5f60d2 183px,#4477d8 187px,#4576d8 196px)"></i><i style="background:linear-gradient(#edf4fb 0px,#e0eff8 128px,#b8daf0 149px,#b6d9f0 153px,#7bb4e5 161px,#67a5e2 165px,#71ade3 170px,#66a4e1 175px,#73aee4 177px,#4382db 181px,#3f7eda 186px,#4f6cd5 190px,#4585db 196px)"></i><i style="background:linear-gradient(#edf4fb 0px,#e2eff9 130px,#c3e1f3 148px,#bbdcf1 155px,#bfdef2 158px,#81b9e6 161px,#96c6ea 166px,#72aee3 171px,#71ace3 178px,#4a8bdc 181px,#4378d8 188px,#5898df 192px,#5193de 196px)"></i><i style="background:linear-gradient(#edf4fb 0px,#e0eff8 133px,#b8daf0 154px,#a3ceec 158px,#a2cdec 162px,#7fb8e6 165px,#8bbfe8 171px,#62a1e1 175px,#4584db 184px,#4d8edd 193px,#4181db 196px)"></i><i style="background:linear-gradient(#edf4fb 0px,#e0eff8 132px,#aed4ee 152px,#b7d9f0 156px,#78b2e4 161px,#609fe0 172px,#4d8edd 175px,#66a4e1 179px,#3f7eda 182px,#407bd9 192px,#4972d7 196px)"></i><i style="background:linear-gradient(#edf4fb 0px,#e1eff9 128px,#c1e0f2 146px,#a1ccec 157px,#82bae6 161px,#99c8eb 166px,#74afe4 171px,#4f90dd 174px,#3f7eda 186px,#5293de 190px,#4576d8 194px,#4b70d6 196px)"></i><i style="background:linear-gradient(#edf4fb 0px,#e2eff9 136px,#b0d5ef 156px,#badbf1 162px,#92c4e9 166px,#9ccaeb 170px,#68a6e2 176px,#5f9ee0 181px,#4585db 194px,#4e8fdd 196px)"></i><i style="background:linear-gradient(#edf4fb 0px,#e2eff9 144px,#b9dbf1 167px,#8cc0e8 174px,#9dcaeb 178px,#7ab4e5 183px,#7fb8e6 190px,#64a2e1 196px)"></i><i style="background:linear-gradient(#edf4fb 0px,#e1eff9 136px,#c7e3f3 152px,#acd3ee 161px,#94c5ea 166px,#80b8e6 172px,#9dcaeb 176px,#5293de 180px,#84bbe6 184px,#407bda 192px,#4d8edd 196px)"></i><i style="background:linear-gradient(#edf4fb 0px,#e1eff9 127px,#aad2ee 148px,#afd5ef 152px,#a7d0ed 155px,#afd5ef 158px,#8abfe8 161px,#7fb8e6 164px,#5395de 168px,#6eaae3 175px,#66a4e1 179px,#69a6e2 182px,#4576d8 187px,#4576d8 192px,#4b70d6 195px,#4477d8 196px)"></i><i style="background:linear-gradient(#edf4fb 0px,#e0eff8 121px,#b8daf1 143px,#a1cdec 153px,#b7daf0 156px,#6eaae3 161px,#7bb4e5 165px,#5192de 175px,#3f7cda 183px,#4972d7 185px,#5294de 188px,#4378d8 194px,#407fda 196px)"></i><i style="background:linear-gradient(#edf4fb 0px,#e1eff9 119px,#b7daf0 137px,#b9dbf1 144px,#99c8eb 150px,#9ecbeb 153px,#97c6ea 156px,#6aa7e2 164px,#61a0e1 168px,#407bd9 172px,#4a8bdc 179px,#407bd9 181px,#8147cd 185px,#4282db 192px,#3f7cda 195px,#4d6fd6 196px)"></i><i style="background:linear-gradient(#edf4fb 0px,#e1eff9 119px,#cae4f4 130px,#c3e0f3 138px,#a2cdec 143px,#a6d0ed 147px,#82bae6 151px,#a9d1ee 158px,#75afe4 164px,#71ace3 167px,#3f7fda 179px,#4a71d6 187px,#6b58cf 190px,#4382db 193px,#4c8edd 196px)"></i><i style="background:linear-gradient(#edf4fb 0px,#e0eff8 123px,#c2e0f2 143px,#b2d6ef 156px,#5d9de0 162px,#6aa7e2 167px,#4c8ddd 171px,#407fda 183px,#536ad4 188px,#665bd0 192px,#794dcd 194px,#5c62d2 196px)"></i><i style="background:linear-gradient(#edf4fb 0px,#e0eff8 129px,#c7e2f3 138px,#c5e2f3 144px,#b4d8f0 150px,#97c7ea 154px,#8dc1e8 159px,#66a4e1 167px,#4888dc 176px,#3e7dda 181px,#5766d3 189px,#506cd5 194px,#655cd0 196px)"></i><i style="background:linear-gradient(#edf4fb 0px,#e2f0f9 137px,#b0d5ef 154px,#97c6ea 159px,#abd2ee 164px,#8ec1e8 168px,#609fe0 175px,#65a3e1 180px,#3f7eda 183px,#4383db 191px,#4576d8 196px)"></i><i style="background:linear-gradient(#edf4fb 0px,#e2f0f9 141px,#b9dbf1 159px,#a3ceec 166px,#70abe3 172px,#63a1e1 177px,#5798df 181px,#75b0e4 185px,#4f91dd 189px,#4378d8 196px)"></i><i style="background:linear-gradient(#edf4fb 0px,#e1eff9 138px,#d5eaf6 148px,#aad2ee 162px,#6fabe3 167px,#aad2ee 172px,#64a2e1 177px,#4888dc 180px,#5a9bdf 184px,#4675d7 187px,#4378d8 190px,#5899df 196px)"></i><i style="background:linear-gradient(#edf4fb 0px,#e1eff9 132px,#b6d9f0 151px,#afd5ef 154px,#c7e3f3 158px,#87bde7 164px,#71ace3 170px,#6ca9e2 173px,#4e8fdd 177px,#4181db 187px,#68a5e2 190px,#4873d7 193px,#5964d3 195px,#4d6ed5 196px)"></i><i style="background:linear-gradient(#edf4fb 0px,#e2f0f9 133px,#bbdcf1 151px,#98c7ea 155px,#99c8ea 163px,#8dc0e8 167px,#7cb5e5 172px,#74afe4 176px,#4281db 180px,#4484db 184px,#4a71d6 187px,#4585db 191px,#417ad9 196px)"></i><i style="background:linear-gradient(#edf4fb 0px,#e0eff8 136px,#bcddf1 156px,#a7d0ed 161px,#77b2e4 171px,#65a3e1 178px,#4686dc 182px,#407bda 191px,#3f7cda 196px)"></i><i style="background:linear-gradient(#edf4fb 0px,#e1eff9 137px,#b7daf0 152px,#a0ccec 165px,#91c3e9 167px,#b0d5ef 170px,#5193de 174px,#3e7dda 196px)"></i><i style="background:linear-gradient(#edf4fb 0px,#e1eff9 136px,#c8e3f4 153px,#8dc0e8 168px,#9ac9eb 172px,#62a1e1 184px,#6ca9e2 191px,#4787dc 195px,#4787dc 196px)"></i><i style="background:linear-gradient(#edf4fb 0px,#e2eff9 137px,#abd2ee 161px,#88bee7 166px,#8abfe7 170px,#5899df 174px,#66a4e1 178px,#609fe0 181px,#80b8e6 184px,#4686dc 188px,#4e90dd 194px,#4a8bdc 196px)"></i><i style="background:linear-gradient(#edf4fb 0px,#e2f0f9 137px,#a1ccec 163px,#93c4e9 170px,#82bae6 175px,#4a8bdc 178px,#4f90dd 185px,#5a9bdf 196px)"></i><i style="background:linear-gradient(#edf4fb 0px,#e2f0f9 137px,#b8daf0 154px,#95c5ea 167px,#68a5e2 175px,#7ab4e5 179px,#4687dc 183px,#4b8cdd 187px,#4873d7 190px,#4c8ddd 192px,#4686dc 196px)"></i><i style="background:linear-gradient(#edf4fb 0px,#e1eff9 139px,#bcddf1 154px,#b5d8f0 158px,#cee6f5 163px,#93c4e9 168px,#b7daf0 172px,#8bc0e8 175px,#5496de 178px,#5294de 183px,#6aa7e2 186px,#4281db 188px,#407bd9 191px,#4888dc 195px,#4484db 196px)"></i><i style="background:linear-gradient(#edf4fb 0px,#e1eff9 142px,#cae4f4 156px,#b2d6ef 162px,#badbf1 166px,#84bbe6 171px,#70ace3 177px,#62a1e1 180px,#83bbe6 183px,#4f90dd 189px,#4989dc 196px)"></i><i style="background:linear-gradient(#edf4fb 0px,#e1eff9 148px,#add3ee 169px,#b3d7ef 172px,#79b3e4 178px,#5091de 194px,#5193de 196px)"></i><i style="background:linear-gradient(#edf4fb 0px,#e1eff9 146px,#b7d9f0 165px,#7db6e5 175px,#88bee7 183px,#3f7fda 191px,#4d8edd 196px)"></i><i style="background:linear-gradient(#edf4fb 0px,#e2eff9 142px,#b5d8f0 168px,#81b9e6 176px,#8bc0e8 181px,#6eabe3 186px,#7eb6e5 190px,#5091de 194px,#5092de 196px)"></i><i style="background:linear-gradient(#edf4fb 0px,#e1eff9 142px,#aed4ee 167px,#77b1e4 172px,#65a3e1 180px,#5293de 184px,#6da9e2 187px,#4585db 192px,#4e90dd 196px)"></i><i style="background:linear-gradient(#edf4fb 0px,#e3f0f9 132px,#b9dbf1 155px,#96c6ea 166px,#6ba8e2 172px,#7cb5e5 177px,#4484db 189px,#4282db 196px)"></i><i style="background:linear-gradient(#cee6f5 0px,#c2e0f2 140px,#98c7ea 154px,#69a6e2 158px,#79b3e4 167px,#5c9ce0 173px,#4378d8 176px,#5369d4 179px,#4383db 183px,#3f7eda 188px,#4477d8 196px)"></i><i style="background:linear-gradient(#edf4fb 0px,#e0eff8 110px,#bcdcf1 130px,#b2d6ef 133px,#c5e2f3 137px,#a3ceec 144px,#8fc2e9 149px,#71ade3 153px,#66a4e1 163px,#71ade3 168px,#5193de 172px,#7ab4e5 176px,#4484db 179px,#4686dc 189px,#5865d3 192px,#407fda 196px)"></i><i style="background:linear-gradient(#edf4fb 0px,#e2f0f9 107px,#bdddf1 125px,#a7d0ed 131px,#b3d7ef 138px,#9ac8eb 147px,#84bbe6 151px,#8cc0e8 155px,#599adf 161px,#4889dc 170px,#4989dc 176px,#4576d8 181px,#6b58cf 185px,#4281db 190px,#5865d3 194px,#4774d7 196px)"></i><i style="background:linear-gradient(#edf4fb 0px,#e1eff9 105px,#b0d5ef 132px,#a0ccec 136px,#b0d5ef 140px,#80b8e6 153px,#7fb7e5 157px,#8dc0e8 159px,#5899df 163px,#66a4e1 166px,#4687dc 170px,#68a5e2 172px,#a5cfed 174px,#8dc1e8 176px,#5193de 181px,#4675d7 185px,#665bd0 187px,#4972d7 191px,#5c62d2 194px,#4b70d6 196px)"></i><i style="background:linear-gradient(#edf4fb 0px,#e0eff8 108px,#bedef2 128px,#b5d9f0 137px,#89bee7 143px,#a4ceed 147px,#73aee3 156px,#90c3e9 163px,#4787dc 168px,#62a1e1 175px,#4383db 185px,#4b8cdd 189px,#4279d9 192px,#5899df 195px,#4f91dd 196px)"></i><i style="background:linear-gradient(#edf4fb 0px,#e0eff8 114px,#a4ceec 143px,#99c8eb 148px,#9cc9eb 153px,#7db6e5 157px,#69a6e2 161px,#5597df 164px,#94c4e9 169px,#4b8cdd 177px,#609fe0 181px,#4576d8 184px,#5766d3 187px,#407bd9 193px,#4788dc 196px)"></i><i style="background:linear-gradient(#edf4fb 0px,#e1eff9 114px,#bfdef2 137px,#aad2ee 142px,#b7daf0 151px,#84bbe6 155px,#9dcaeb 159px,#72ade3 163px,#7bb5e5 167px,#70abe3 171px,#6ba8e2 175px,#4e8fdd 179px,#4383db 185px,#4181db 188px,#4a8adc 192px,#498adc 196px)"></i><i style="background:linear-gradient(#edf4fb 0px,#e1eff9 115px,#c8e3f4 143px,#93c4e9 155px,#97c7ea 160px,#6eaae3 164px,#71ade3 169px,#5193de 177px,#4686dc 185px,#4282db 192px,#5a9bdf 196px)"></i><i style="background:linear-gradient(#edf4fb 0px,#e0eff8 110px,#c3e1f3 131px,#92c3e9 144px,#8cc0e8 147px,#94c5e9 151px,#98c7ea 158px,#70ace3 162px,#4484db 179px,#4279d9 191px,#4f6dd5 194px,#4484db 196px)"></i><i style="background:linear-gradient(#edf4fb 0px,#e3f0f9 114px,#cee6f5 132px,#b1d6ef 140px,#9dcaeb 147px,#83bae6 153px,#9bc9eb 158px,#6eabe3 162px,#b1d6ef 166px,#4d8fdd 175px,#4686dc 195px,#4788dc 196px)"></i><i style="background:linear-gradient(#edf4fb 0px,#e2eff9 106px,#c3e1f3 126px,#b6d9f0 134px,#9ecaeb 141px,#9ecbeb 145px,#9fcbec 149px,#62a1e1 152px,#73aee4 157px,#6ba8e2 166px,#85bce7 172px,#4282db 178px,#4a71d6 181px,#4b8cdd 183px,#6aa7e2 186px,#4675d8 193px,#5865d3 196px)"></i><i style="background:linear-gradient(#edf4fb 0px,#e1eff9 109px,#badbf1 135px,#9ac8eb 139px,#afd5ef 143px,#7fb8e6 151px,#7ab4e5 155px,#70ace3 159px,#83bbe6 164px,#6eaae3 169px,#5a9adf 172px,#4180db 175px,#4b8cdd 184px,#4774d7 187px,#4c8ddd 191px,#4b8cdd 195px,#4d8fdd 196px)"></i><i style="background:linear-gradient(#edf4fb 0px,#e2f0f9 114px,#bdddf1 139px,#92c3e9 148px,#90c2e9 154px,#8bbfe8 157px,#76b0e4 163px,#7cb5e5 168px,#4e90dd 183px,#5b9bdf 192px,#5b9bdf 195px,#4e8fdd 196px)"></i><i style="background:linear-gradient(#edf4fb 0px,#e2f0f9 118px,#cde6f5 139px,#c8e3f4 143px,#9fccec 149px,#a5cfed 155px,#66a4e1 165px,#69a6e2 171px,#6ba8e2 174px,#76b1e4 177px,#4d8edd 183px,#4787dc 190px,#3f7eda 193px,#5294de 196px)"></i><i style="background:linear-gradient(#edf4fb 0px,#e1eff9 120px,#c1dff2 143px,#add4ee 150px,#9ac9eb 154px,#85bce7 157px,#94c5e9 163px,#5294de 173px,#63a1e1 181px,#5192de 184px,#70ace3 189px,#4585db 196px)"></i><i style="background:linear-gradient(#edf4fb 0px,#e1eff9 123px,#b8daf1 151px,#a2cdec 155px,#7eb7e5 166px,#8ec1e8 170px,#67a5e1 175px,#5898df 181px,#5f9ee0 186px,#498adc 192px,#73aee3 196px)"></i><i style="background:linear-gradient(#edf4fb 0px,#e1eff9 121px,#b2d7ef 151px,#92c4e9 154px,#9ccaeb 157px,#88bde7 160px,#92c4e9 165px,#8cc0e8 169px,#78b2e4 173px,#81bae6 178px,#4888dc 184px,#5193de 187px,#8ec1e8 190px,#4e8fdd 195px,#4a8bdc 196px)"></i><i style="background:linear-gradient(#edf4fb 0px,#e0eff8 109px,#bdddf1 139px,#b3d7ef 143px,#93c4e9 149px,#74afe4 153px,#6eaae3 159px,#5596df 168px,#6ca8e2 172px,#4889dc 177px,#4774d7 187px,#4a8bdc 189px,#4787dc 192px,#6b57cf 195px,#5f60d1 196px)"></i><i style="background:linear-gradient(#edf4fb 0px,#e1eff9 104px,#c3e0f3 124px,#acd3ee 138px,#88bee7 143px,#90c3e9 149px,#7fb8e6 153px,#599adf 167px,#4484db 176px,#4675d8 183px,#498adc 187px,#4484db 196px)"></i><i style="background:linear-gradient(#edf4fb 0px,#e1eff9 110px,#c7e3f3 127px,#bdddf2 134px,#a5cfed 138px,#96c6ea 148px,#6aa7e2 160px,#82bae6 164px,#78b2e4 172px,#4686dc 175px,#63a2e1 180px,#6ba8e2 182px,#4282db 186px,#4279d9 192px,#4484db 196px)"></i><i style="background:linear-gradient(#edf4fb 0px,#e0eff8 109px,#daecf7 126px,#c1dff2 131px,#bcdcf1 140px,#94c5e9 144px,#73aee3 150px,#86bde7 157px,#9ac8eb 160px,#73aee3 166px,#498adc 171px,#5899df 179px,#4477d8 183px,#4774d7 187px,#4888dc 196px)"></i><i style="background:linear-gradient(#edf4fb 0px,#e1eff9 107px,#c1dff2 125px,#b1d6ef 131px,#99c8ea 144px,#65a3e1 151px,#5495de 161px,#93c4e9 167px,#6eaae3 171px,#67a5e2 175px,#4477d8 178px,#5a64d3 185px,#6c57cf 187px,#3e7dda 190px,#498adc 196px)"></i><i style="background:linear-gradient(#edf4fb 0px,#e1eff9 101px,#c1dff2 120px,#aed4ef 130px,#84bbe6 138px,#8dc0e8 150px,#63a1e1 157px,#7eb7e5 161px,#3e7dda 166px,#417ad9 174px,#4787dc 178px,#526ad4 181px,#625ed1 184px,#4675d8 187px,#8d3cc1 190px,#7153ce 196px)"></i><i style="background:linear-gradient(#edf4fb 0px,#e0eff8 103px,#c6e2f3 120px,#d4e9f6 123px,#9fcbec 127px,#9bc9eb 138px,#98c7ea 142px,#5e9ee0 148px,#67a5e2 152px,#8ec1e8 155px,#5091de 160px,#417ad9 170px,#4a8bdc 179px,#4e6ed5 183px,#8e3abd 187px,#8b3fca 189px,#5667d3 192px,#5f60d2 196px)"></i><i style="background:linear-gradient(#edf4fb 0px,#e2f0f9 103px,#bfdff2 121px,#c1dff2 125px,#a0ccec 139px,#72ade3 152px,#5193de 156px,#83bbe6 164px,#4888dc 170px,#4788dc 181px,#4f6dd5 183px,#4774d7 186px,#4787dc 190px,#4180db 196px)"></i><i style="background:linear-gradient(#edf4fb 0px,#e1eff9 99px,#cae4f4 114px,#b9dbf1 126px,#abd3ee 129px,#b9dbf1 132px,#85bce7 137px,#96c6ea 143px,#70ace3 149px,#599adf 164px,#4686dc 169px,#4c8ddd 174px,#4f6dd5 177px,#5c62d2 183px,#8b3fca 189px,#4774d7 193px,#407fda 196px)"></i><i style="background:linear-gradient(#edf4fb 0px,#e0eff8 97px,#c7e2f3 107px,#c4e1f3 119px,#acd3ee 130px,#bfdff2 133px,#9dcaeb 137px,#82bae6 141px,#73aee4 144px,#70ace3 147px,#5999df 150px,#94c4e9 160px,#4889dc 165px,#3f7cda 173px,#3f7eda 179px,#526ad4 183px,#4484db 186px,#5369d4 189px,#5866d3 194px,#7054cf 196px)"></i><i style="background:linear-gradient(#edf4fb 0px,#e1eff9 100px,#c8e3f4 120px,#aad2ee 130px,#8ec1e8 134px,#98c7ea 138px,#91c3e9 142px,#98c7ea 145px,#70ace3 150px,#4e8fdd 158px,#4378d8 168px,#4e8fdd 174px,#4675d7 180px,#5767d3 183px,#4282db 188px,#506cd5 192px,#516bd5 196px)"></i><i style="background:linear-gradient(#edf4fb 0px,#e0eff8 102px,#a2cdec 136px,#77b1e4 141px,#88bee7 146px,#76b0e4 156px,#6eaae3 159px,#8abfe8 162px,#5e9ee0 166px,#67a4e1 169px,#4585db 171px,#7054cf 175px,#3f7eda 179px,#5d61d2 186px,#615ed1 196px)"></i><i style="background:linear-gradient(#edf4fb 0px,#e1eff9 108px,#bedef2 132px,#b1d6ef 140px,#84bbe6 146px,#98c7ea 150px,#6aa7e2 157px,#74afe4 163px,#62a1e1 170px,#4d8edd 176px,#68a5e2 179px,#407fda 184px,#4873d7 187px,#7d4acd 190px,#5e60d2 194px,#605fd1 196px)"></i><i style="background:linear-gradient(#edf4fb 0px,#e0eff8 127px,#c3e0f3 150px,#a4cfed 155px,#a6d0ed 159px,#99c8ea 163px,#a0ccec 171px,#68a6e2 178px,#72ade3 181px,#5091de 185px,#91c3e9 190px,#4a8bdc 195px,#4b8cdd 196px)"></i><i style="background:linear-gradient(#edf4fb 0px,#e0eff8 136px,#bedef2 151px,#b1d6ef 161px,#b2d7ef 171px,#97c7ea 175px,#88bee7 181px,#70ace3 186px,#7cb6e5 192px,#61a0e1 196px)"></i><i style="background:linear-gradient(#edf4fb 0px,#e1eff9 118px,#c2e0f2 137px,#acd3ee 144px,#9fcbec 152px,#84bbe6 157px,#a5cfed 161px,#79b3e4 165px,#82bae6 169px,#5697df 172px,#77b1e4 176px,#5294de 180px,#5697df 185px,#76b1e4 188px,#4c8ddd 193px,#4a8adc 196px)"></i><i style="background:linear-gradient(#edf4fb 0px,#e0eff8 107px,#bdddf1 126px,#a6d0ed 139px,#82bae6 143px,#62a0e1 162px,#4e8fdd 168px,#3f7eda 177px,#536ad4 180px,#4181db 187px,#407fda 191px,#685ad0 195px,#635dd1 196px)"></i><i style="background:linear-gradient(#edf4fb 0px,#e0eff8 108px,#c7e3f3 128px,#d5e9f6 132px,#86bce7 136px,#b1d6ef 140px,#8bc0e8 145px,#8cc0e8 149px,#6ca9e2 154px,#5193de 156px,#8abfe8 160px,#4281db 176px,#4181db 186px,#5a9adf 189px,#4378d8 196px)"></i><i style="background:linear-gradient(#edf4fb 0px,#e2eff9 104px,#9ccaeb 141px,#79b3e4 144px,#79b3e5 150px,#66a4e1 154px,#62a1e1 157px,#4f91dd 160px,#63a2e1 164px,#5294de 167px,#5294de 170px,#5496de 174px,#69a6e2 177px,#3f7cda 180px,#5667d4 183px,#3e7dda 187px,#4279d9 190px,#4e8fdd 195px,#4c8ddd 196px)"></i><i style="background:linear-gradient(#edf4fb 0px,#e1eff9 110px,#cee6f5 128px,#c2e0f2 134px,#bcddf1 138px,#9ac8eb 146px,#96c6ea 150px,#70ace3 154px,#69a6e2 164px,#88bde7 167px,#4f91dd 173px,#4576d8 184px,#4e6ed5 187px,#4586db 189px,#5798df 192px,#407fda 196px)"></i><i style="background:linear-gradient(#edf4fb 0px,#e1eff9 116px,#c2e0f2 136px,#c2e0f2 145px,#9bc9eb 151px,#7cb5e5 162px,#5d9ce0 168px,#63a2e1 180px,#4b8bdd 187px,#4383db 196px)"></i><i style="background:linear-gradient(#edf4fb 0px,#e1eff9 114px,#b4d8f0 139px,#b2d6ef 143px,#91c3e9 148px,#99c7ea 157px,#7ab3e5 161px,#69a6e2 167px,#8ec1e8 172px,#4e90dd 178px,#4b8cdd 187px,#4477d8 191px,#5495de 195px,#4f90dd 196px)"></i><i style="background:linear-gradient(#edf4fb 0px,#e0eff8 111px,#b2d7ef 144px,#68a5e2 151px,#77b1e4 160px,#5092de 165px,#7fb8e6 169px,#4c8ddd 179px,#4f91dd 194px,#4484db 196px)"></i><i style="background:linear-gradient(#edf4fb 0px,#e1eff9 113px,#b4d8f0 140px,#aad2ee 149px,#97c6ea 154px,#7ab3e5 157px,#81b9e6 164px,#5e9de0 174px,#78b2e4 180px,#4686dc 184px,#4585db 192px,#4181db 196px)"></i><i style="background:linear-gradient(#edf4fb 0px,#e0eff8 114px,#bfdef2 132px,#acd3ee 142px,#74afe4 146px,#8ec1e8 154px,#63a1e1 167px,#8abfe7 172px,#4b8bdd 176px,#7fb8e6 181px,#407fda 186px,#407fda 192px,#4585db 196px)"></i><i style="background:linear-gradient(#edf4fb 0px,#e2f0f9 109px,#b1d6ef 144px,#80b8e6 151px,#84bbe6 159px,#71ade3 166px,#71ade3 174px,#4c8ddd 177px,#68a6e2 181px,#4483db 184px,#498adc 192px,#4382db 196px)"></i><i style="background:linear-gradient(#edf4fb 0px,#e0eff8 106px,#c4e1f3 127px,#a2cdec 141px,#b7daf0 145px,#85bce7 150px,#80b9e6 158px,#5798df 162px,#6eaae3 172px,#4585db 179px,#4382db 191px,#4787dc 195px,#4d8fdd 196px)"></i><i style="background:linear-gradient(#edf4fb 0px,#e1eff9 108px,#c1e0f2 128px,#b2d7ef 134px,#badbf1 140px,#94c5e9 150px,#6ca9e2 153px,#80b8e6 158px,#6ca8e2 162px,#81b9e6 166px,#66a4e1 170px,#6ca9e2 173px,#4383db 176px,#4686dc 190px,#4888dc 194px,#5294de 196px)"></i><i style="background:linear-gradient(#edf4fb 0px,#e1eff9 113px,#bbdcf1 139px,#9ecbeb 145px,#94c5e9 149px,#8abfe8 153px,#6eaae3 167px,#69a6e2 180px,#6aa7e2 183px,#4787dc 186px,#4b8bdd 195px,#4888dc 196px)"></i><i style="background:linear-gradient(#edf4fb 0px,#e1eff9 118px,#bbdcf1 148px,#c1dff2 152px,#86bde7 156px,#85bce7 160px,#63a1e1 164px,#89bee7 168px,#aed5ef 171px,#69a6e2 175px,#5697df 182px,#80b9e6 184px,#609fe0 189px,#6ca9e2 194px,#5c9ce0 196px)"></i><i style="background:linear-gradient(#edf4fb 0px,#e1eff9 120px,#c3e0f3 144px,#bcdcf1 149px,#88bee7 158px,#7fb8e6 162px,#76b0e4 166px,#7ab4e5 169px,#4e8fdd 174px,#6eaae3 184px,#4889dc 188px,#63a1e1 194px,#5f9ee0 196px)"></i><i style="background:linear-gradient(#edf4fb 0px,#e1eff9 121px,#b6d9f0 144px,#aed4ee 150px,#a5cfed 154px,#81b9e6 160px,#a0ccec 164px,#67a5e2 170px,#4d8edd 173px,#5798df 184px,#6fabe3 187px,#3e7dda 194px,#4181db 196px)"></i><i style="background:linear-gradient(#edf4fb 0px,#e1eff9 113px,#d0e7f5 133px,#d3e9f6 137px,#afd5ef 142px,#9ac8eb 149px,#6daae3 154px,#5e9de0 161px,#609fe0 166px,#6eaae3 170px,#4d8edd 174px,#4b8cdd 177px,#3f7eda 178px,#5965d3 180px,#4686dc 183px,#4686dc 196px)"></i><i style="background:linear-gradient(#edf4fb 0px,#e2eff9 109px,#bcddf1 127px,#bdddf2 134px,#a1cdec 140px,#bdddf1 144px,#6ca8e2 153px,#6ba8e2 157px,#5193de 160px,#78b2e4 165px,#3f7fda 170px,#4788dc 181px,#4477d8 182px,#8b3fc9 185px,#774fce 187px,#4675d8 189px,#4e6dd5 191px,#7a4dcd 193px,#5d61d2 196px)"></i><i style="background:linear-gradient(#edf4fb 0px,#e1eff9 116px,#c9e4f4 131px,#96c6ea 153px,#63a2e1 162px,#89bee7 167px,#5092de 171px,#4787dc 184px,#4d6ed6 188px,#4687dc 196px)"></i><i style="background:linear-gradient(#edf4fb 0px,#e1eff9 126px,#aed4ef 153px,#67a5e2 166px,#7bb4e5 169px,#8fc2e9 172px,#4d8edd 183px,#71ace3 188px,#407fda 192px,#5092de 196px)"></i><i style="background:linear-gradient(#edf4fb 0px,#e1eff9 123px,#b5d9f0 150px,#a3ceec 154px,#9ac9eb 157px,#7ab4e5 161px,#76b1e4 168px,#64a2e1 181px,#4f91dd 184px,#5697df 189px,#4c8ddd 196px)"></i><i style="background:linear-gradient(#edf4fb 0px,#e0eff8 131px,#c2e0f2 152px,#aad2ee 163px,#73aee4 169px,#9ac9eb 176px,#a7d0ed 178px,#5091de 184px,#5c9ce0 187px,#a9d1ed 190px,#9ccaeb 192px,#5798df 195px,#5294de 196px)"></i><i style="background:linear-gradient(#edf4fb 0px,#e1eff9 135px,#add4ee 164px,#92c3e9 168px,#8ec1e8 177px,#7bb4e5 181px,#88bde7 186px,#5c9ce0 190px,#75b0e4 196px)"></i><i style="background:linear-gradient(#edf4fb 0px,#e0eff8 128px,#c5e2f3 148px,#86bde7 163px,#599adf 167px,#7cb5e5 171px,#5a9adf 175px,#7fb8e6 179px,#5394de 185px,#4c8ddd 193px,#5294de 196px)"></i><i style="background:linear-gradient(#edf4fb 0px,#e0eff8 127px,#d0e7f5 139px,#b2d6ef 149px,#9ccaeb 152px,#a3ceec 157px,#6fabe3 161px,#8cc0e8 167px,#6aa7e2 171px,#65a3e1 175px,#69a6e2 178px,#76b1e4 180px,#4b8cdd 185px,#4c8ddd 196px)"></i><i style="background:linear-gradient(#edf4fb 0px,#e3f0f9 131px,#cae4f4 145px,#c2e0f2 153px,#92c4e9 167px,#a2cdec 170px,#62a0e1 175px,#74afe4 181px,#90c2e9 186px,#4c8ddd 191px,#4d8fdd 196px)"></i><i style="background:linear-gradient(#edf4fb 0px,#e0eff8 132px,#badbf1 154px,#a0ccec 159px,#95c6ea 163px,#7db6e5 171px,#6eaae3 177px,#5495de 186px,#4281db 196px)"></i><i style="background:linear-gradient(#edf4fb 0px,#e1eff9 133px,#b8daf1 152px,#b2d7ef 157px,#82bae6 163px,#a2cdec 167px,#6ba8e2 172px,#74afe4 177px,#92c4e9 180px,#5495de 185px,#74afe4 193px,#5092de 196px)"></i><i style="background:linear-gradient(#edf4fb 0px,#e1eff9 125px,#b4d8f0 150px,#91c3e9 161px,#70ace3 165px,#80b8e6 169px,#6ca8e2 172px,#70abe3 175px,#4686dc 179px,#3f7cda 185px,#417ad9 196px)"></i><i style="background:linear-gradient(#edf4fb 0px,#e0eff8 121px,#d1e7f5 130px,#d1e8f5 134px,#b6d9f0 146px,#8ec1e8 155px,#7fb8e5 160px,#70abe3 164px,#9ac8eb 169px,#68a5e2 173px,#62a0e1 178px,#407bd9 182px,#4080da 186px,#5667d3 190px,#4c6fd6 196px)"></i><i style="background:linear-gradient(#edf4fb 0px,#e2f0f9 120px,#b9dbf1 144px,#96c6ea 149px,#8ec1e8 155px,#67a5e1 160px,#97c6ea 166px,#5798df 171px,#4c8ddd 184px,#4180db 188px,#3e7dda 192px,#4576d8 196px)"></i><i style="background:linear-gradient(#edf4fb 0px,#e2f0f9 129px,#aed4ee 150px,#a6cfed 159px,#7fb8e6 163px,#4686dc 189px,#4774d7 192px,#4b8cdd 196px)"></i><i style="background:linear-gradient(#edf4fb 0px,#e1eff9 132px,#d7ebf7 140px,#acd3ee 152px,#b1d6ef 156px,#89bee7 161px,#87bde7 164px,#6fabe3 167px,#66a4e1 175px,#4c8ddd 180px,#3f7eda 188px,#4180db 196px)"></i><i style="background:linear-gradient(#edf4fb 0px,#e2f0f9 133px,#acd3ee 157px,#77b1e4 168px,#4c8ddd 172px,#4383db 189px,#4d6ed5 196px)"></i><i style="background:linear-gradient(#edf4fb 0px,#e0eff8 134px,#c3e1f3 150px,#acd3ee 158px,#a1ccec 166px,#5999df 178px,#71ade3 183px,#3e7dda 188px,#4b8cdd 192px,#63a1e1 194px,#4e90dd 196px)"></i><i style="background:linear-gradient(#edf4fb 0px,#e0eff8 132px,#c2e0f2 153px,#bfdff2 158px,#94c5e9 163px,#8bbfe8 170px,#64a2e1 174px,#62a1e1 177px,#4282db 181px,#64a2e1 185px,#4281db 187px,#5369d4 190px,#4282db 194px,#4687dc 196px)"></i><i style="background:linear-gradient(#edf4fb 0px,#e0eff8 127px,#c4e1f3 144px,#abd2ee 154px,#8bbfe8 160px,#a6cfed 164px,#70ace3 168px,#4d8edd 178px,#4d8fdd 184px,#4d6ed6 190px,#4484db 196px)"></i><i style="background:linear-gradient(#edf4fb 0px,#e1eff9 131px,#c6e2f3 154px,#8dc0e8 165px,#9ccaeb 168px,#5c9ce0 175px,#609fe0 183px,#5a9adf 188px,#498adc 196px)"></i><i style="background:linear-gradient(#edf4fb 0px,#e1eff9 134px,#a9d1ee 158px,#a3ceec 168px,#66a4e1 174px,#5395de 181px,#89bee7 187px,#498adc 191px,#5c9ce0 196px)"></i><i style="background:linear-gradient(#edf4fb 0px,#e0eff8 130px,#add4ee 159px,#85bce7 168px,#97c7ea 173px,#4889dc 178px,#5294de 186px,#75b0e4 190px,#5495de 194px,#5092de 196px)"></i><i style="background:linear-gradient(#edf4fb 0px,#e3f0f9 131px,#b3d7ef 157px,#a7d0ed 162px,#7db6e5 166px,#73aee3 175px,#75b0e4 178px,#93c4e9 180px,#5092de 186px,#4788dc 196px)"></i><i style="background:linear-gradient(#edf4fb 0px,#e3f0f9 135px,#d5eaf6 147px,#abd2ee 160px,#90c2e9 170px,#bfdef2 174px,#5697df 180px,#69a6e2 185px,#4a8bdc 191px,#68a6e2 195px,#61a0e1 196px)"></i><i style="background:linear-gradient(#edf4fb 0px,#e0eff8 129px,#bedef2 153px,#9dcaeb 159px,#92c4e9 167px,#7eb7e5 174px,#95c6ea 180px,#7fb7e5 184px,#4787dc 187px,#5b9be0 195px,#5496de 196px)"></i><i style="background:linear-gradient(#edf4fb 0px,#e1eff9 128px,#b7daf0 150px,#a0ccec 156px,#9fcbec 160px,#75afe4 164px,#76b0e4 173px,#78b2e4 179px,#4383db 188px,#4181db 196px)"></i><i style="background:linear-gradient(#edf4fb 0px,#e1eff9 137px,#aed4ef 164px,#9ac8eb 173px,#6da9e2 177px,#76b1e4 181px,#4b8cdd 184px,#63a2e1 189px,#7db6e5 192px,#5091de 196px)"></i><i style="background:linear-gradient(#edf4fb 0px,#e1eff9 140px,#c6e2f3 161px,#b8daf0 165px,#acd3ee 169px,#9bc9eb 176px,#9ccaeb 184px,#64a3e1 189px,#6aa7e2 196px)"></i><i style="background:linear-gradient(#edf4fb 0px,#e1eff9 133px,#b0d6ef 157px,#84bbe6 169px,#8fc2e9 172px,#5b9be0 176px,#87bde7 180px,#4b8cdd 184px,#3f7cda 191px,#6859d0 195px,#5c62d2 196px)"></i><i style="background:linear-gradient(#edf4fb 0px,#e3f0f9 121px,#b1d6ef 143px,#a8d1ed 149px,#99c8ea 152px,#b0d6ef 160px,#5496de 170px,#68a5e2 175px,#498adc 180px,#4873d7 182px,#5b63d2 186px,#4686dc 189px,#4f91dd 192px,#4972d7 195px,#4c6fd6 196px)"></i><i style="background:linear-gradient(#edf4fb 0px,#e2f0f9 121px,#aed4ee 150px,#90c2e9 157px,#90c2e9 159px,#b3d7ef 161px,#8fc2e9 163px,#5d9de0 165px,#92c3e9 170px,#68a5e2 177px,#5091de 181px,#407fda 188px,#4687dc 192px,#516bd5 196px)"></i><i style="background:linear-gradient(#edf4fb 0px,#e2f0f9 130px,#b4d8f0 154px,#a0ccec 159px,#8ec1e8 163px,#a6d0ed 168px,#5496de 178px,#5e9de0 183px,#4483db 188px,#67a5e1 193px,#4b8bdd 196px)"></i><i style="background:linear-gradient(#edf4fb 0px,#e2f0f9 129px,#b5d8f0 155px,#a4ceed 167px,#61a0e0 172px,#90c2e9 178px,#4a8bdc 182px,#5698df 196px)"></i><i style="background:linear-gradient(#edf4fb 0px,#e0eff8 129px,#acd3ee 158px,#70ace3 167px,#80b8e6 172px,#5193de 183px,#67a5e2 189px,#71ade3 192px,#4e90dd 196px)"></i><i style="background:linear-gradient(#edf4fb 0px,#e1eff9 130px,#b4d8f0 160px,#8cc0e8 164px,#96c6ea 169px,#5092de 187px,#5091de 192px,#4080da 196px)"></i><i style="background:linear-gradient(#edf4fb 0px,#e1eff9 139px,#bbdcf1 160px,#b1d6ef 164px,#7bb5e5 173px,#90c3e9 177px,#66a4e1 181px,#62a0e1 185px,#5697df 189px,#5092de 196px)"></i><i style="background:linear-gradient(#edf4fb 0px,#e3f0f9 138px,#c6e2f3 161px,#a2cdec 169px,#a9d1ed 173px,#6aa7e2 177px,#83bbe6 182px,#a9d1ed 185px,#71ace3 190px,#5193de 196px)"></i><i style="background:linear-gradient(#edf4fb 0px,#e1eff9 130px,#b2d6ef 155px,#88bee7 159px,#8dc1e8 164px,#5899df 180px,#5f9ee0 183px,#7db6e5 186px,#4b8cdd 192px,#4585db 196px)"></i><i style="background:linear-gradient(#edf4fb 0px,#e0eff8 137px,#abd2ee 161px,#9ccaeb 165px,#a3ceec 170px,#7eb7e5 176px,#89bee7 180px,#5999df 184px,#4d8edd 193px,#5f9fe0 196px)"></i><i style="background:linear-gradient(#edf4fb 0px,#e0eff8 142px,#aad2ee 169px,#9fccec 176px,#c2e0f2 180px,#78b2e4 185px,#6ba8e2 189px,#7eb7e5 192px,#64a3e1 196px)"></i><i style="background:linear-gradient(#edf4fb 0px,#e1eff9 141px,#c3e1f3 160px,#9ecbeb 173px,#74afe4 179px,#5193de 191px,#7eb7e5 195px,#76b0e4 196px)"></i><i style="background:linear-gradient(#edf4fb 0px,#e1eff9 141px,#acd3ee 167px,#87bde7 174px,#8bbfe8 178px,#79b3e5 182px,#93c4e9 186px,#6ca8e2 189px,#78b2e4 193px,#66a4e1 196px)"></i><i style="background:linear-gradient(#edf4fb 0px,#e1eff9 140px,#b9dbf1 157px,#a4ceed 165px,#98c7ea 170px,#a3ceec 174px,#8ec1e8 177px,#87bde7 181px,#75afe4 186px,#75b0e4 193px,#5c9ce0 196px)"></i><i style="background:linear-gradient(#edf4fb 0px,#e3f0f9 142px,#b4d8f0 172px,#b0d5ef 175px,#7eb7e5 178px,#77b1e4 184px,#4282db 187px,#4f90dd 189px,#7bb5e5 191px,#5697df 196px)"></i><i style="background:linear-gradient(#edf4fb 0px,#e3f0f9 140px,#c3e0f3 156px,#b4d8f0 164px,#a8d1ed 170px,#7eb7e5 174px,#77b1e4 180px,#5e9de0 183px,#6aa7e2 186px,#5f9ee0 189px,#7bb5e5 192px,#4a8bdc 196px)"></i><i style="background:linear-gradient(#edf4fb 0px,#e2f0f9 139px,#aed4ee 166px,#86bce7 170px,#78b2e4 175px,#5c9ce0 179px,#6daae3 187px,#5294de 191px,#7bb5e5 194px,#6eaae3 196px)"></i><i style="background:linear-gradient(#edf4fb 0px,#e1eff9 145px,#bedef2 168px,#71ade3 184px,#68a5e2 189px,#80b8e6 196px)"></i><i style="background:linear-gradient(#edf4fb 0px,#e3f0f9 147px,#a2cdec 175px,#87bde7 178px,#89bee7 183px,#84bbe6 186px,#8dc0e8 189px,#6ca9e2 193px,#68a5e2 196px)"></i><i style="background:linear-gradient(#edf4fb 0px,#e2f0f9 135px,#c4e1f3 155px,#a0ccec 167px,#9bc9eb 170px,#64a2e1 179px,#75b0e4 184px,#7fb8e6 190px,#609fe0 194px,#61a0e1 196px)"></i><i style="background:linear-gradient(#edf4fb 0px,#e1eff9 134px,#c5e2f3 154px,#b2d7ef 163px,#a4ceed 173px,#84bbe6 180px,#5496de 185px,#5597df 189px,#3f7eda 191px,#4a71d6 195px,#4378d9 196px)"></i><i style="background:linear-gradient(#edf4fb 0px,#e2eff9 139px,#acd3ee 164px,#89bee7 174px,#6fabe3 181px,#7ab4e5 189px,#4686dc 196px)"></i><i style="background:linear-gradient(#edf4fb 0px,#e3f0f9 140px,#c8e3f4 157px,#b0d5ef 167px,#b7d9f0 171px,#84bbe6 175px,#84bbe6 179px,#5496de 183px,#75b0e4 193px,#5495de 196px)"></i><i style="background:linear-gradient(#edf4fb 0px,#e1eff9 141px,#b4d8f0 164px,#9ecbeb 168px,#a4ceec 171px,#84bbe6 174px,#aad2ee 178px,#88bee7 182px,#66a4e1 189px,#92c3e9 196px)"></i><i style="background:linear-gradient(#edf4fb 0px,#e2f0f9 137px,#aad2ee 166px,#b0d5ef 170px,#4484db 185px,#599adf 190px,#67a5e1 192px,#4989dc 196px)"></i><i style="background:linear-gradient(#edf4fb 0px,#e2eff9 133px,#c9e4f4 152px,#c0dff2 160px,#9bc9eb 163px,#a1ccec 167px,#88bee7 178px,#5899df 184px,#4a8bdc 196px)"></i><i style="background:linear-gradient(#edf4fb 0px,#e1eff9 138px,#a2cdec 174px,#5092de 179px,#70abe3 184px,#5798df 187px,#71ade3 190px,#4e8fdd 193px,#64a2e1 196px)"></i><i style="background:linear-gradient(#edf4fb 0px,#e1eff9 136px,#bedef2 157px,#acd3ee 168px,#a5cfed 174px,#70abe3 179px,#87bde7 183px,#70abe3 188px,#64a3e1 191px,#7cb5e5 194px,#6daae3 196px)"></i><i style="background:linear-gradient(#edf4fb 0px,#e3f0f9 133px,#c7e3f3 153px,#add4ee 162px,#9ac8eb 170px,#88bde7 175px,#64a3e1 178px,#6fabe3 184px,#5c9ce0 189px,#8fc2e9 193px,#74afe4 196px)"></i><i style="background:linear-gradient(#edf4fb 0px,#e0eff8 131px,#c1e0f2 155px,#bbdcf1 161px,#87bde7 165px,#8cc0e8 172px,#7fb8e6 175px,#8ec1e8 179px,#66a3e1 184px,#87bde7 192px,#5898df 196px)"></i><i style="background:linear-gradient(#edf4fb 0px,#e2f0f9 127px,#acd3ee 156px,#b7daf0 160px,#7eb7e5 164px,#86bde7 169px,#95c6ea 177px,#71ade3 183px,#8fc2e9 187px,#5697df 195px,#599adf 196px)"></i><i style="background:linear-gradient(#edf4fb 0px,#e2f0f9 128px,#b8daf0 155px,#b8daf0 160px,#abd3ee 164px,#90c2e9 167px,#a4ceed 172px,#73afe4 177px,#7db6e5 181px,#6da9e3 184px,#9bc9eb 191px,#6eaae3 196px)"></i><i style="background:linear-gradient(#edf4fb 0px,#e1eff9 136px,#b9dbf1 160px,#b3d7f0 165px,#8abfe7 175px,#7bb5e5 183px,#66a4e1 187px,#6ba7e2 192px,#78b2e4 196px)"></i><i style="background:linear-gradient(#edf4fb 0px,#e0eff8 144px,#d6eaf6 158px,#aad2ee 170px,#a3ceec 182px,#8ec1e8 188px,#86bce7 191px,#61a0e1 195px,#6aa7e2 196px)"></i><i style="background:linear-gradient(#edf4fb 0px,#e1eff9 144px,#c6e2f3 173px,#abd2ee 182px,#8dc1e8 185px,#a9d1ed 193px,#8dc0e8 196px)"></i><i style="background:linear-gradient(#edf4fb 0px,#e0eff8 140px,#c1dff2 162px,#c1dff2 166px,#cde5f5 169px,#88bde7 179px,#8bbfe8 187px,#a7d0ed 192px,#8fc2e9 196px)"></i><i style="background:linear-gradient(#edf4fb 0px,#e1eff9 137px,#d3e9f6 153px,#b2d7ef 159px,#acd3ee 164px,#9bc9eb 181px,#6da9e2 184px,#7fb8e6 189px,#63a1e1 195px,#65a3e1 196px)"></i><i style="background:linear-gradient(#edf4fb 0px,#e2f0f9 133px,#c1e0f2 157px,#b8daf0 162px,#acd3ee 167px,#b7daf0 170px,#82bae6 174px,#96c6ea 181px,#5395de 188px,#6aa7e2 192px,#5b9bdf 196px)"></i><i style="background:linear-gradient(#edf4fb 0px,#e1eff9 132px,#cfe6f5 152px,#b0d5ef 163px,#afd5ef 172px,#84bbe6 176px,#76b1e4 185px,#72ade3 190px,#6aa7e2 194px,#5596de 196px)"></i><i style="background:linear-gradient(#edf4fb 0px,#e1eff9 128px,#9fcbec 174px,#7eb6e5 178px,#63a2e1 185px,#7fb7e5 190px,#5c9ce0 196px)"></i><i style="background:linear-gradient(#edf4fb 0px,#e0eff8 126px,#b5d9f0 149px,#b5d8f0 163px,#93c4e9 167px,#6fabe3 173px,#5a9adf 176px,#71ace3 181px,#5193de 189px,#78b2e4 194px,#5c9ce0 196px)"></i><i style="background:linear-gradient(#edf4fb 0px,#e0eff8 115px,#bedef2 143px,#99c8ea 153px,#76b0e4 158px,#6fabe3 167px,#8dc1e8 177px,#4888dc 182px,#5193de 188px,#5294de 196px)"></i><i style="background:linear-gradient(#edf4fb 0px,#e0eff8 111px,#cfe6f5 133px,#a9d1ed 146px,#87bde7 152px,#add4ee 155px,#8bc0e8 161px,#6fabe3 164px,#70ace3 170px,#9cc9eb 173px,#5f9fe0 177px,#64a2e1 182px,#5193de 186px,#6aa7e2 190px,#4686dc 196px)"></i><i style="background:linear-gradient(#edf4fb 0px,#e2eff9 103px,#c2e0f2 126px,#b3d7f0 132px,#bdddf1 136px,#97c7ea 142px,#a6cfed 150px,#6da9e3 157px,#9dcaeb 162px,#72aee3 166px,#609fe0 179px,#74afe4 185px,#8ec1e8 187px,#4d8edd 192px,#4e8fdd 196px)"></i><i style="background:linear-gradient(#edf4fb 0px,#e0eff8 111px,#cfe6f5 130px,#c3e1f3 137px,#b8daf1 145px,#94c5e9 154px,#9bc9eb 161px,#7eb7e5 170px,#a7d0ed 174px,#84bbe6 177px,#4d8fdd 180px,#5294de 183px,#76b1e4 186px,#5d9de0 190px,#6ba8e2 194px,#5395de 196px)"></i><i style="background:linear-gradient(#edf4fb 0px,#e0eff8 122px,#c7e2f3 149px,#9dcaeb 162px,#84bbe6 172px,#9ac9eb 176px,#68a6e2 185px,#9dcaeb 192px,#5f9ee0 196px)"></i><i style="background:linear-gradient(#edf4fb 0px,#e1eff9 129px,#bedef2 157px,#99c7ea 173px,#97c6ea 179px,#68a5e2 188px,#5b9be0 191px,#79b3e5 196px)"></i><i style="background:linear-gradient(#edf4fb 0px,#e0eff8 128px,#cbe4f4 149px,#9ecbeb 168px,#92c4e9 173px,#90c3e9 184px,#5e9ee0 189px,#8bbfe8 194px,#73aee3 196px)"></i><i style="background:linear-gradient(#edf4fb 0px,#e2f0f9 121px,#cce5f4 139px,#bedef2 146px,#add3ee 162px,#90c3e9 166px,#7eb7e5 171px,#7ab4e5 180px,#4e8fdd 184px,#62a1e1 188px,#74afe4 190px,#4989dc 194px,#4d8fdd 196px)"></i><i style="background:linear-gradient(#edf4fb 0px,#e1eff9 117px,#b8daf0 138px,#a3ceec 148px,#8cc0e8 151px,#a2cdec 155px,#88bee7 158px,#9bc9eb 161px,#79b3e5 164px,#9cc9eb 168px,#73aee4 172px,#4c8ddd 180px,#82bae6 184px,#609fe0 188px,#73aee4 192px,#4383db 194px,#4e6dd5 196px)"></i><i style="background:linear-gradient(#edf4fb 0px,#e0eff8 119px,#c4e1f3 137px,#a0ccec 154px,#a0ccec 158px,#9fcbec 166px,#79b3e5 169px,#7ab4e5 172px,#4d8fdd 175px,#4e90dd 184px,#4f90dd 188px,#69a6e2 190px,#5092de 196px)"></i><i style="background:linear-gradient(#edf4fb 0px,#e1eff9 125px,#b5d8f0 158px,#a3cdec 164px,#80b9e6 167px,#91c3e9 171px,#77b1e4 175px,#7fb7e5 178px,#64a2e1 183px,#63a2e1 192px,#62a1e1 195px,#5395de 196px)"></i><i style="background:linear-gradient(#edf4fb 0px,#e0eff8 109px,#bfdef2 131px,#acd3ee 140px,#badbf1 143px,#98c7ea 147px,#9fcbec 155px,#66a4e1 163px,#88bee7 168px,#7ab4e5 173px,#4989dc 181px,#7ab4e5 188px,#4b8bdd 194px,#4a8bdc 196px)"></i><i style="background:linear-gradient(#edf4fb 0px,#dfeef8 97px,#b4d8f0 130px,#abd2ee 139px,#6eaae3 143px,#89bee7 147px,#9bc9eb 150px,#70ace3 153px,#99c8eb 160px,#5899df 165px,#4d8edd 179px,#74afe4 181px,#4383db 185px,#4f90dd 190px,#5091de 196px)"></i><i style="background:linear-gradient(#edf4fb 0px,#e0eff8 112px,#bfdef2 142px,#b3d7f0 146px,#84bbe6 165px,#6eaae3 170px,#4a8bdc 180px,#5293de 190px,#4c8ddd 194px,#5d9de0 196px)"></i><i style="background:linear-gradient(#edf4fb 0px,#e0eff8 130px,#b0d5ef 162px,#89bee7 176px,#6ca8e2 180px,#92c3e9 184px,#5294de 193px,#64a2e1 196px)"></i><i style="background:linear-gradient(#edf4fb 0px,#e2eff9 127px,#b2d7ef 157px,#9fcbec 164px,#94c5e9 168px,#68a6e2 172px,#79b3e4 176px,#4e8fdd 182px,#5b9be0 185px,#71ade3 188px,#5c9ce0 191px,#69a6e2 195px,#5e9ee0 196px)"></i><i style="background:linear-gradient(#edf4fb 0px,#dfeff8 105px,#c3e0f3 135px,#9ecaeb 149px,#aed4ef 153px,#89bee7 156px,#88bee7 160px,#6aa7e2 164px,#81b9e6 168px,#76b0e4 175px,#5092de 181px,#5495de 185px,#5092de 192px,#73aee4 196px)"></i><i style="background:linear-gradient(#edf4fb 0px,#e0eff8 81px,#d1e7f5 97px,#b7daf0 120px,#a3ceec 129px,#7fb8e6 132px,#97c7ea 140px,#75b0e4 146px,#70ace3 151px,#66a4e1 155px,#8ec1e8 159px,#4d8fdd 168px,#5092de 175px,#64a2e1 177px,#4281db 181px,#5395de 187px,#3f7cda 191px,#4282db 196px)"></i><i style="background:linear-gradient(#edf4fb 0px,#e0eff8 99px,#c3e1f3 129px,#a6d0ed 140px,#97c7ea 144px,#8cc0e8 149px,#77b2e4 154px,#a5cfed 157px,#77b1e4 161px,#62a1e1 170px,#6aa7e2 174px,#4e90dd 185px,#62a1e1 191px,#4a8adc 194px,#5092de 196px)"></i><i style="background:linear-gradient(#edf4fb 0px,#e0eff8 121px,#bcddf1 151px,#b7daf0 159px,#96c6ea 163px,#88bde7 169px,#94c5ea 172px,#7ab4e5 175px,#8dc0e8 179px,#6fabe3 184px,#5092de 196px)"></i><i style="background:linear-gradient(#edf4fb 0px,#e0eff8 114px,#bedef2 138px,#badcf1 153px,#98c7ea 157px,#99c8ea 163px,#6aa7e2 168px,#5c9ce0 178px,#609fe0 186px,#5999df 190px,#76b0e4 193px,#5091de 196px)"></i><i style="background:linear-gradient(#edf4fb 0px,#e1eff9 112px,#b2d6ef 146px,#9ccaeb 154px,#94c5ea 160px,#89bee7 168px,#9ac8eb 171px,#5a9adf 179px,#4b8cdd 185px,#5193de 188px,#4477d8 192px,#4a71d6 196px)"></i><i style="background:linear-gradient(#edf4fb 0px,#e0eff8 119px,#b9dbf1 149px,#b9dbf1 157px,#8ec1e8 168px,#72ade3 172px,#8dc0e8 177px,#5f9ee0 181px,#8ec1e8 185px,#4d8edd 189px,#64a2e1 192px,#3f7eda 195px,#4477d8 196px)"></i><i style="background:linear-gradient(#edf4fb 0px,#e2eff9 117px,#d2e8f6 136px,#b2d7ef 156px,#7eb7e5 170px,#85bce7 174px,#75b0e4 187px,#4e90dd 196px)"></i><i style="background:linear-gradient(#edf4fb 0px,#e2eff9 122px,#c3e0f3 148px,#9fcbec 157px,#9dcaeb 167px,#81b9e6 171px,#a4ceed 176px,#69a6e2 180px,#7bb5e5 185px,#66a4e1 193px,#7ab3e5 196px)"></i><i style="background:linear-gradient(#edf4fb 0px,#e1eff9 124px,#cae4f4 146px,#b7daf0 163px,#a3ceec 168px,#99c7ea 179px,#7db6e5 189px,#8abfe8 192px,#83bae6 196px)"></i><i style="background:linear-gradient(#edf4fb 0px,#e1eff9 126px,#bfdff2 147px,#bfdff2 151px,#c2e0f2 155px,#9dcaeb 162px,#a2cdec 168px,#66a4e1 173px,#7db6e5 177px,#92c3e9 183px,#63a1e1 191px,#61a0e1 196px)"></i><i style="background:linear-gradient(#edf4fb 0px,#e0eff8 120px,#b4d8f0 144px,#99c8ea 153px,#a1cdec 161px,#7db6e5 165px,#8dc1e8 171px,#5f9ee0 176px,#6aa7e2 179px,#4282db 184px,#6fabe3 190px,#4281db 193px,#417ad9 196px)"></i><i style="background:linear-gradient(#edf4fb 0px,#e0eff8 126px,#b5d9f0 156px,#a1ccec 160px,#a7d0ed 167px,#7ab3e5 172px,#7cb6e5 177px,#80b8e6 180px,#96c6ea 182px,#64a2e1 186px,#82bae6 191px,#80b9e6 195px,#75b0e4 196px)"></i><i style="background:linear-gradient(#edf4fb 0px,#e1eff9 126px,#b7daf0 157px,#abd3ee 171px,#88bee7 177px,#a5cfed 181px,#69a6e2 188px,#80b8e6 192px,#6eabe3 196px)"></i><i style="background:linear-gradient(#edf4fb 0px,#e1eff9 125px,#abd3ee 167px,#89bee7 171px,#86bde7 174px,#5d9ce0 178px,#85bce7 183px,#65a3e1 190px,#73aee3 196px)"></i><i style="background:linear-gradient(#edf4fb 0px,#e2eff9 117px,#c5e2f3 142px,#acd3ee 157px,#9ecbeb 162px,#9bc9eb 166px,#81bae6 169px,#78b2e4 178px,#5798df 183px,#5f9fe0 187px,#4b8cdd 191px,#5d9de0 194px,#4d8edd 196px)"></i><i style="background:linear-gradient(#edf4fb 0px,#e1eff9 112px,#c8e3f4 126px,#afd5ef 140px,#b8daf1 147px,#92c4e9 156px,#8abfe8 164px,#69a6e2 175px,#4a8bdc 178px,#5193de 182px,#4d8edd 191px,#6da9e3 195px,#61a0e0 196px)"></i><i style="background:linear-gradient(#edf4fb 0px,#e1eff9 103px,#b5d9f0 135px,#aad2ee 144px,#a6d0ed 155px,#73aee3 160px,#6fabe3 165px,#4b8bdd 168px,#5e9de0 171px,#76b0e4 174px,#5e9de0 178px,#6daae3 181px,#4c8ddd 188px,#4c8ddd 196px)"></i><i style="background:linear-gradient(#edf4fb 0px,#e1eff9 100px,#cde5f5 118px,#9ecbeb 139px,#9ecaeb 144px,#73aee3 148px,#8dc1e8 152px,#74afe4 156px,#7bb4e5 163px,#5a9bdf 168px,#5294de 184px,#65a3e1 187px,#5395de 191px,#5193de 196px)"></i><i style="background:linear-gradient(#edf4fb 0px,#e2eff9 95px,#c0dff2 119px,#b6d9f0 131px,#bdddf1 136px,#9fcbec 143px,#a9d1ee 147px,#7cb5e5 156px,#a8d1ed 160px,#6aa7e2 164px,#8bc0e8 170px,#68a5e2 174px,#6eaae3 178px,#5798df 186px,#71ace3 190px,#61a0e1 194px,#6ca8e2 196px)"></i><i style="background:linear-gradient(#edf4fb 0px,#e2eff9 107px,#b6d9f0 145px,#9ccaeb 149px,#a8d1ed 154px,#75b0e4 160px,#70ace3 170px,#5193de 177px,#7ab4e5 181px,#4686dc 186px,#77b2e4 196px)"></i><i style="background:linear-gradient(#edf4fb 0px,#e2eff9 112px,#bcdcf1 138px,#add4ee 149px,#b9dbf1 155px,#a5cfed 159px,#77b1e4 164px,#69a6e2 173px,#72ade3 176px,#5f9ee0 179px,#81b9e6 182px,#5091de 186px,#5193de 192px,#4383db 196px)"></i><i style="background:linear-gradient(#edf4fb 0px,#e0eff8 109px,#c2e0f2 132px,#b0d6ef 136px,#aed4ee 141px,#9ac8eb 149px,#b5d9f0 153px,#85bce7 158px,#87bde7 163px,#7eb7e5 170px,#6ba8e2 175px,#4181db 189px,#3e7dda 196px)"></i><i style="background:linear-gradient(#edf4fb 0px,#e2eff9 100px,#b5d9f0 123px,#acd3ee 135px,#9fccec 140px,#9ac8eb 145px,#7fb7e5 149px,#7db6e5 158px,#5193de 162px,#74afe4 166px,#4d8edd 170px,#74afe4 174px,#407fda 179px,#4180db 185px,#4477d8 188px,#4282db 191px,#4378d8 194px,#4686dc 196px)"></i><i style="background:linear-gradient(#edf4fb 0px,#e0eff8 87px,#c5e1f3 106px,#b6d9f0 114px,#abd2ee 123px,#b2d7ef 130px,#c2e0f2 133px,#72ade3 142px,#8dc0e8 146px,#6daae3 153px,#76b1e4 159px,#4e90dd 162px,#64a2e1 168px,#69a6e2 171px,#4a8bdc 174px,#5e9de0 180px,#4b8cdd 196px)"></i><i style="background:linear-gradient(#edf4fb 0px,#e0eff8 104px,#cfe6f5 126px,#b6d9f0 135px,#a0ccec 141px,#badbf1 146px,#9ecbeb 150px,#b3d7f0 153px,#7cb5e5 157px,#9ac8eb 161px,#66a4e1 169px,#5c9ce0 178px,#78b2e4 182px,#599adf 187px,#5f9fe0 193px,#5d9ce0 196px)"></i><i style="background:linear-gradient(#edf4fb 0px,#e2f0f9 117px,#b5d8f0 154px,#a2cdec 161px,#a5cfed 164px,#8fc2e9 168px,#84bbe6 175px,#71ace3 178px,#93c4e9 181px,#72ade3 185px,#7ab3e5 189px,#4d8edd 193px,#5798df 196px)"></i><i style="background:linear-gradient(#edf4fb 0px,#e0eff8 135px,#c5e1f3 166px,#a2cdec 170px,#b8daf1 178px,#93c4e9 186px,#b0d5ef 191px,#8cc0e8 196px)"></i><i style="background:linear-gradient(#edf4fb 0px,#e0eff8 136px,#bbdcf1 158px,#b2d7ef 161px,#b4d8f0 165px,#9ccaeb 172px,#bbdcf1 176px,#9dcaeb 183px,#afd5ef 186px,#70ace3 191px,#7eb7e5 196px)"></i><i style="background:linear-gradient(#edf4fb 0px,#e0eff8 130px,#d0e7f5 149px,#8abfe8 172px,#91c3e9 176px,#84bbe6 178px,#6ca8e2 181px,#78b2e4 185px,#70ace3 191px,#5b9bdf 195px,#61a0e0 196px)"></i><i style="background:linear-gradient(#edf4fb 0px,#e1eff9 121px,#bfdef2 145px,#b4d8f0 157px,#aad2ee 163px,#bcddf1 170px,#89bee7 178px,#9ac8eb 181px,#68a6e2 185px,#63a2e1 191px,#5395de 195px,#5b9bdf 196px)"></i><i style="background:linear-gradient(#edf4fb 0px,#e0eff8 113px,#c1e0f2 152px,#bfdff2 161px,#aad2ee 166px,#7ab3e5 169px,#afd5ef 173px,#88bee7 177px,#96c6ea 180px,#62a1e1 184px,#91c3e9 190px,#71ade3 196px)"></i><i style="background:linear-gradient(#edf4fb 0px,#e1eff9 106px,#b4d8f0 145px,#abd2ee 150px,#b9dbf1 153px,#7ab4e5 165px,#74afe4 168px,#9ac8eb 171px,#62a1e1 177px,#78b2e4 181px,#93c4e9 187px,#7ab3e5 196px)"></i><i style="background:linear-gradient(#edf4fb 0px,#e1eff9 111px,#c2e0f2 145px,#afd5ef 156px,#8abfe7 167px,#78b2e4 170px,#a2cdec 174px,#609fe0 181px,#6eaae3 187px,#5294de 190px,#5d9de0 194px,#5798df 196px)"></i><i style="background:linear-gradient(#edf4fb 0px,#dfeff8 116px,#cde5f5 134px,#b9dbf1 144px,#acd3ee 149px,#9cc9eb 152px,#a2cdec 159px,#74afe4 164px,#81b9e6 173px,#599adf 178px,#74afe4 182px,#599adf 186px,#6fabe3 189px,#5193de 196px)"></i><i style="background:linear-gradient(#edf4fb 0px,#e0eff8 112px,#c8e3f4 141px,#b0d5ef 150px,#9ccaeb 161px,#89bee7 165px,#aad2ee 168px,#77b2e4 174px,#9ccaeb 179px,#6ba8e2 183px,#9dcaeb 196px)"></i><i style="background:linear-gradient(#edf4fb 0px,#e0eff8 121px,#d4e9f6 136px,#bcddf1 152px,#b9dbf1 162px,#94c5ea 171px,#82bae6 178px,#86bde7 186px,#69a6e2 191px,#92c3e9 195px,#8dc0e8 196px)"></i><i style="background:linear-gradient(#edf4fb 0px,#e1eff9 120px,#c3e0f3 148px,#b1d6ef 155px,#a5cfed 160px,#83bbe6 174px,#8bbfe8 177px,#5d9de0 181px,#78b2e4 189px,#4c8ddd 194px,#5294de 196px)"></i><i style="background:linear-gradient(#edf4fb 0px,#e0eff8 120px,#b8daf0 145px,#afd5ef 149px,#b7d9f0 153px,#91c3e9 158px,#9ac8eb 163px,#7fb8e5 168px,#66a4e1 175px,#599adf 180px,#6fabe3 185px,#5d9ce0 189px,#609fe0 196px)"></i><i style="background:linear-gradient(#edf4fb 0px,#e0eff8 118px,#cce5f4 144px,#b5d8f0 149px,#96c6ea 159px,#83bae6 163px,#86bce7 168px,#98c7ea 171px,#5f9fe0 183px,#79b3e5 186px,#61a0e1 192px,#5294de 195px,#5c9ce0 196px)"></i><i style="background:linear-gradient(#edf4fb 0px,#e1eff9 113px,#b1d6ef 147px,#a8d1ed 153px,#a5cfed 156px,#b1d6ef 160px,#76b1e4 176px,#6ba8e2 179px,#90c2e9 185px,#76b0e4 191px,#6ba8e2 196px)"></i><i style="background:linear-gradient(#edf4fb 0px,#e2eff9 117px,#d7eaf7 132px,#b2d7ef 151px,#a7d0ed 155px,#c8e3f4 161px,#a6d0ed 168px,#afd5ef 176px,#62a1e1 184px,#88bee7 193px,#5f9ee0 196px)"></i><i style="background:linear-gradient(#edf4fb 0px,#e0eff8 112px,#cee6f5 128px,#c2e0f2 144px,#c8e3f4 148px,#aed4ef 153px,#b1d6ef 164px,#6eaae3 175px,#9fcbec 179px,#66a4e1 185px,#6fabe3 194px,#64a3e1 196px)"></i><i style="background:linear-gradient(#edf4fb 0px,#e0eff8 110px,#d0e7f5 130px,#badbf1 140px,#b8daf1 145px,#8ec1e8 167px,#70ace3 172px,#75b0e4 183px,#76b1e4 187px,#a4ceed 190px,#7cb6e5 195px,#7eb7e5 196px)"></i><i style="background:linear-gradient(#edf4fb 0px,#e0eff8 113px,#b9dbf1 149px,#afd5ef 158px,#a0ccec 168px,#95c5ea 172px,#94c5ea 179px,#9fcbec 183px,#5e9de0 190px,#8fc2e9 195px,#8abfe8 196px)"></i><i style="background:linear-gradient(#edf4fb 0px,#e0eff8 116px,#c5e2f3 140px,#bcddf1 152px,#9ecaeb 158px,#abd2ee 162px,#8cc0e8 167px,#a3cdec 171px,#7ab4e5 177px,#9cc9eb 184px,#a1cdec 187px,#64a3e1 190px,#7fb8e6 195px,#7ab4e5 196px)"></i><i style="background:linear-gradient(#edf4fb 0px,#e2f0f9 123px,#c5e2f3 152px,#badbf1 158px,#b2d7ef 161px,#c2e0f2 164px,#9fcbec 169px,#a4ceed 173px,#a3cdec 178px,#7cb6e5 182px,#79b3e5 191px,#66a4e1 196px)"></i><i style="background:linear-gradient(#edf4fb 0px,#e1eff9 126px,#bcdcf1 152px,#b6d9f0 156px,#b8daf1 164px,#73aee3 182px,#82bae6 188px,#84bbe6 196px)"></i><i style="background:linear-gradient(#edf4fb 0px,#e0eff8 130px,#b6d9f0 156px,#b7daf0 161px,#b5d9f0 169px,#76b1e4 174px,#89bee7 179px,#5e9ee0 187px,#77b1e4 191px,#7ab4e5 196px)"></i><i style="background:linear-gradient(#edf4fb 0px,#e0eff8 126px,#b7daf0 155px,#9bc9eb 173px,#75b0e4 179px,#afd5ef 184px,#6fabe3 194px,#77b1e4 196px)"></i><i style="background:linear-gradient(#edf4fb 0px,#e2f0f9 119px,#b8dbf1 159px,#c2e0f2 163px,#8dc0e8 173px,#a0ccec 184px,#69a6e2 190px,#9ecbeb 194px,#8ec1e8 196px)"></i><i style="background:linear-gradient(#edf4fb 0px,#e1eff9 113px,#d2e8f6 125px,#9bc9eb 161px,#76b0e4 168px,#9ccaeb 171px,#66a4e1 175px,#83bbe6 179px,#73aee3 182px,#81b9e6 185px,#5999df 189px,#6ba7e2 194px,#61a0e1 196px)"></i><i style="background:linear-gradient(#edf4fb 0px,#e1eff9 113px,#d6eaf6 128px,#b5d9f0 146px,#aad2ee 155px,#9bc9eb 159px,#a5cfed 163px,#6eaae3 167px,#85bce7 180px,#9bc9eb 182px,#78b2e4 186px,#63a2e1 195px,#5798df 196px)"></i><i style="background:linear-gradient(#edf4fb 0px,#e1eff9 113px,#b0d6ef 148px,#9dcaeb 152px,#a0ccec 161px,#78b2e4 170px,#7eb6e5 175px,#6da9e2 178px,#89bee7 181px,#5294de 196px)"></i><i style="background:linear-gradient(#edf4fb 0px,#e1eff9 116px,#c9e3f4 133px,#c1e0f2 150px,#aad2ee 154px,#b8daf0 158px,#8fc2e9 165px,#97c6ea 168px,#78b2e4 172px,#7bb4e5 176px,#64a2e1 179px,#75b0e4 183px,#5294de 187px,#a1ccec 191px,#92c4e9 193px,#5d9de0 196px)"></i><i style="background:linear-gradient(#edf4fb 0px,#e0eff8 124px,#b9dbf1 158px,#acd3ee 163px,#9ac8eb 178px,#79b3e4 181px,#7fb8e6 191px,#7fb8e5 196px)"></i><i style="background:linear-gradient(#edf4fb 0px,#e0eff8 128px,#b5d8f0 171px,#9ecbeb 175px,#a5cfed 184px,#b2d7ef 187px,#98c7ea 196px)"></i><i style="background:linear-gradient(#edf4fb 0px,#e0eff8 108px,#c9e3f4 134px,#b6d9f0 149px,#9dcaeb 163px,#aad2ee 166px,#78b2e4 170px,#83bae6 176px,#7fb7e5 181px,#6eaae3 184px,#80b9e6 188px,#69a6e2 192px,#7fb8e6 196px)"></i><i style="background:linear-gradient(#edf4fb 0px,#e1eff9 106px,#bdddf1 131px,#b0d5ef 143px,#a3ceec 147px,#badcf1 154px,#add4ee 159px,#a2cdec 164px,#7db6e5 167px,#93c4e9 171px,#63a1e1 175px,#7bb4e5 181px,#65a3e1 185px,#6eaae3 191px,#599adf 196px)"></i><i style="background:linear-gradient(#edf4fb 0px,#e0eff8 115px,#c2e0f2 147px,#a1ccec 157px,#9fcbec 160px,#afd5ef 164px,#7cb5e5 168px,#8cc0e8 172px,#7db6e5 181px,#5b9be0 185px,#71ace3 191px,#66a4e1 194px,#5395de 196px)"></i><i style="background:linear-gradient(#edf4fb 0px,#e0eff8 122px,#bbdcf1 158px,#b1d6ef 163px,#a6cfed 172px,#7bb4e5 177px,#6da9e2 182px,#81b9e6 186px,#6fabe3 190px,#83bbe6 196px)"></i><i style="background:linear-gradient(#edf4fb 0px,#e2eff9 124px,#cae4f4 145px,#bdddf1 155px,#b4d8f0 162px,#9bc9eb 166px,#91c3e9 176px,#7db6e5 181px,#64a2e1 183px,#9ac8eb 188px,#5f9fe0 192px,#7fb7e5 196px)"></i><i style="background:linear-gradient(#edf4fb 0px,#e1eff9 129px,#b3d7ef 160px,#a5cfed 163px,#bbdcf1 167px,#91c3e9 176px,#a2cdec 184px,#7eb7e5 191px,#85bbe6 196px)"></i><i style="background:linear-gradient(#edf4fb 0px,#e1eff9 132px,#afd5ef 171px,#94c5e9 177px,#89bee7 189px,#9dcaeb 195px,#97c7ea 196px)"></i><i style="background:linear-gradient(#edf4fb 0px,#dfeef8 135px,#b8daf0 160px,#b2d6ef 176px,#85bce7 190px,#acd3ee 196px)"></i><i style="background:linear-gradient(#edf4fb 0px,#dfeff8 128px,#cbe5f4 153px,#b2d7ef 171px,#73aee3 185px,#9ac8eb 194px,#84bbe6 196px)"></i><i style="background:linear-gradient(#edf4fb 0px,#e1eff9 118px,#9fcbec 164px,#abd2ee 167px,#b9dbf1 169px,#6daae3 173px,#6aa7e2 177px,#7ab3e5 181px,#5596de 185px,#7bb5e5 190px,#6ba8e2 196px)"></i><i style="background:linear-gradient(#edf4fb 0px,#e2f0f9 114px,#d2e8f6 130px,#cee6f5 138px,#bcddf1 147px,#a8d1ed 150px,#b1d6ef 155px,#a1cdec 161px,#8dc0e8 165px,#99c8ea 169px,#80b8e6 173px,#7ab4e5 179px,#63a1e1 189px,#5899df 193px,#6ba8e2 196px)"></i><i style="background:linear-gradient(#edf4fb 0px,#e0eff8 111px,#c3e1f3 137px,#b5d8f0 141px,#b0d5ef 152px,#b0d6ef 157px,#b4d8f0 160px,#80b8e6 164px,#74afe4 172px,#68a6e2 176px,#75b0e4 191px,#4a8bdc 194px,#4d8fdd 196px)"></i><i style="background:linear-gradient(#edf4fb 0px,#e1eff9 121px,#c8e3f4 143px,#b0d6ef 160px,#9ccaeb 170px,#82bae6 179px,#5697df 184px,#85bbe6 189px,#6ca9e2 196px)"></i></div>
<svg width="685" height="420" viewBox="0 0 685 420" font-family='"Liberation Serif",serif'>
<defs><linearGradient id="cb" x1="0" y1="0" x2="0" y2="1"><stop offset="0.000" stop-color="#9e1832"/><stop offset="0.100" stop-color="#9e1e55"/><stop offset="0.200" stop-color="#9c287c"/><stop offset="0.300" stop-color="#9432a8"/><stop offset="0.400" stop-color="#8a40cc"/><stop offset="0.452" stop-color="#734ece"/><stop offset="0.500" stop-color="#5a5ad0"/><stop offset="0.552" stop-color="#3c6ed4"/><stop offset="0.600" stop-color="#2480d8"/><stop offset="0.700" stop-color="#409ada"/><stop offset="0.800" stop-color="#80bce6"/><stop offset="0.900" stop-color="#c0dff2"/><stop offset="0.960" stop-color="#deeef8"/><stop offset="0.984" stop-color="#edf4fb"/><stop offset="1.000" stop-color="#f6f9fd"/></linearGradient></defs>
<rect x="57.3" y="216.9" width="566.3" height="1.8" fill="#a8142e"/><rect x="49" y="216.9" width="2" height="1.8" fill="#a8142e"/><polygon fill="#f46d26" points="37,218.6 37,206.6 38,206.6 38.3,211.7 42.9,211.7 43.1,202.6 44.3,202.6 44.5,214.9 46.4,214.9 46.6,211.4 48.9,211.4 49.1,218.6 50.9,218.6 51,206.6 52.2,206.6 52.3,207.7 54.6,207.7 54.9,211.4 55.8,211.4 56,213 57.1,213 57.3,218.6"/><polygon fill="#f46d26" points="59.0,186.9 59.5,182.9 60.0,184.8 60.5,184.9 61.0,184.2 61.5,185.4 62.0,184.4 62.5,183.7 63.0,184.3 63.5,183.6 64.0,186.2 64.5,185.7 65.0,187.6 65.5,188.2 66.0,191.9 66.5,189.6 67.0,192.1 67.5,190.5 68.0,189.7 68.5,187.3 69.0,184.4 69.5,182.2 70.0,180.7 70.5,177.7 71.0,175.8 71.5,173.0 72.0,170.9 72.5,174.3 73.0,174.4 73.5,177.6 74.0,177.8 74.5,181.2 75.0,182.1 75.5,182.6 76.0,182.4 76.5,184.3 77.0,182.6 77.5,181.5 78.0,182.6 78.5,182.0 79.0,182.6 79.5,184.1 80.0,182.9 80.5,185.0 81.0,183.2 81.5,184.4 82.0,183.8 82.5,181.7 83.0,185.0 83.5,185.8 84.0,185.5 84.5,184.1 85.0,183.8 85.5,182.3 86.0,182.4 86.5,182.4 87.0,182.2 87.5,184.3 88.0,182.3 88.5,185.1 89.0,185.0 89.5,185.1 90.0,185.7 90.5,186.6 91.0,184.9 91.5,184.5 92.0,182.9 92.5,181.3 93.0,178.6 93.5,177.1 94.0,175.6 94.5,174.9 95.0,176.5 95.5,176.8 96.0,178.1 96.5,179.0 97.0,180.0 97.5,180.8 98.0,182.1 98.5,183.9 99.0,183.9 99.5,184.5 100.0,186.2 100.5,186.0 101.0,186.3 101.5,188.0 102.0,186.6 102.5,187.4 103.0,187.4 103.5,186.2 104.0,187.8 104.5,186.9 105.0,189.1 105.5,189.0 106.0,187.7 106.5,189.7 107.0,189.0 107.5,188.7 108.0,186.6 108.5,184.0 109.0,181.1 109.5,180.2 110.0,181.6 110.5,182.1 111.0,183.4 111.5,181.5 112.0,184.0 112.5,182.3 113.0,182.1 113.5,184.2 114.0,183.3 114.5,183.3 115.0,184.7 115.5,186.0 116.0,188.2 116.5,189.8 117.0,191.2 117.5,188.1 118.0,187.6 118.5,186.6 119.0,184.4 119.5,185.4 120.0,186.8 120.5,186.7 121.0,185.6 121.5,185.7 122.0,188.0 122.5,188.6 123.0,189.8 123.5,191.1 124.0,189.6 124.5,189.7 125.0,188.3 125.5,188.4 126.0,187.9 126.5,185.4 127.0,187.8 127.5,189.9 128.0,190.3 128.5,190.8 129.0,191.7 129.5,191.0 130.0,191.3 130.5,189.9 131.0,192.2 131.5,190.0 132.0,188.5 132.5,188.4 133.0,187.1 133.5,186.4 134.0,189.9 134.5,188.7 135.0,192.3 135.5,193.6 136.0,193.5 136.5,196.1 137.0,195.3 137.5,191.7 138.0,187.9 138.5,183.4 139.0,180.8 139.5,179.5 140.0,182.5 140.5,184.4 141.0,186.4 141.5,190.3 142.0,191.7 142.5,194.2 143.0,195.0 143.5,196.0 144.0,197.5 144.5,197.4 145.0,197.5 145.5,196.9 146.0,194.3 146.5,194.4 147.0,191.9 147.5,188.9 148.0,187.0 148.5,185.8 149.0,187.4 149.5,186.0 150.0,186.9 150.5,190.7 151.0,191.4 151.5,190.1 152.0,193.5 152.5,194.6 153.0,195.9 153.5,195.7 154.0,195.4 154.5,196.8 155.0,196.6 155.5,194.0 156.0,191.2 156.5,185.7 157.0,185.3 157.5,180.2 158.0,183.6 158.5,186.0 159.0,190.4 159.5,191.0 160.0,196.3 160.5,192.1 161.0,185.1 161.5,180.2 162.0,180.4 162.5,183.1 163.0,186.1 163.5,186.8 164.0,179.7 164.5,175.2 165.0,171.8 165.5,174.1 166.0,174.3 166.5,177.3 167.0,178.7 167.5,178.8 168.0,181.4 168.5,182.5 169.0,179.7 169.5,184.9 170.0,184.5 170.5,182.9 171.0,183.1 171.5,180.1 172.0,177.1 172.5,178.7 173.0,176.0 173.5,173.1 174.0,175.9 174.5,176.9 175.0,178.9 175.5,178.5 176.0,180.4 176.5,181.0 177.0,181.6 177.5,182.9 178.0,184.0 178.5,184.3 179.0,186.1 179.5,185.0 180.0,187.4 180.5,184.1 181.0,182.1 181.5,177.6 182.0,175.6 182.5,172.9 183.0,177.7 183.5,180.4 184.0,183.2 184.5,183.9 185.0,178.4 185.5,173.2 186.0,172.3 186.5,177.7 187.0,183.1 187.5,187.5 188.0,184.7 188.5,181.4 189.0,179.4 189.5,177.3 190.0,175.0 190.5,171.5 191.0,171.3 191.5,173.7 192.0,175.6 192.5,178.9 193.0,180.3 193.5,184.0 194.0,188.5 194.5,186.9 195.0,183.2 195.5,179.8 196.0,178.4 196.5,176.5 197.0,176.9 197.5,180.2 198.0,183.1 198.5,186.0 199.0,187.7 199.5,189.2 200.0,191.9 200.5,192.6 201.0,193.4 201.5,190.8 202.0,192.7 202.5,190.9 203.0,188.9 203.5,188.5 204.0,188.3 204.5,189.6 205.0,191.0 205.5,191.8 206.0,191.1 206.5,188.3 207.0,183.7 207.5,180.1 208.0,174.9 208.5,179.0 209.0,182.3 209.5,185.5 210.0,190.5 210.5,190.3 211.0,191.1 211.5,192.1 212.0,191.9 212.5,193.1 213.0,192.1 213.5,190.5 214.0,193.5 214.5,190.6 215.0,188.1 215.5,184.9 216.0,183.4 216.5,180.6 217.0,180.3 217.5,184.3 218.0,184.0 218.5,188.8 219.0,190.5 219.5,191.9 220.0,190.7 220.5,188.8 221.0,184.8 221.5,184.7 222.0,185.8 222.5,186.1 223.0,189.8 223.5,190.8 224.0,192.8 224.5,193.9 225.0,195.4 225.5,195.5 226.0,195.2 226.5,195.0 227.0,194.9 227.5,189.0 228.0,188.4 228.5,185.1 229.0,186.4 229.5,187.4 230.0,189.4 230.5,189.7 231.0,192.6 231.5,193.6 232.0,191.4 232.5,191.5 233.0,188.8 233.5,187.0 234.0,188.7 234.5,188.4 235.0,187.0 235.5,186.1 236.0,187.2 236.5,189.4 237.0,191.4 237.5,193.9 238.0,195.3 238.5,195.7 239.0,193.2 239.5,191.1 240.0,188.3 240.5,186.1 241.0,185.6 241.5,187.6 242.0,189.5 242.5,187.5 243.0,188.9 243.5,193.7 244.0,194.3 244.5,193.4 245.0,195.1 245.5,196.5 246.0,196.6 246.5,193.2 247.0,192.7 247.5,191.8 248.0,190.6 248.5,190.3 249.0,190.2 249.5,189.3 250.0,189.9 250.5,190.0 251.0,189.8 251.5,191.7 252.0,190.9 252.5,194.0 253.0,193.9 253.5,194.8 254.0,194.1 254.5,193.2 255.0,192.0 255.5,192.1 256.0,190.4 256.5,193.0 257.0,195.3 257.5,195.7 258.0,197.6 258.5,196.6 259.0,194.2 259.5,194.4 260.0,190.9 260.5,188.9 261.0,189.5 261.5,191.2 262.0,192.2 262.5,193.5 263.0,194.7 263.5,195.1 264.0,196.3 264.5,197.7 265.0,200.3 265.5,198.9 266.0,198.3 266.5,195.9 267.0,194.4 267.5,195.1 268.0,194.4 268.5,192.7 269.0,193.0 269.5,192.6 270.0,191.1 270.5,193.2 271.0,193.6 271.5,194.8 272.0,193.2 272.5,194.5 273.0,195.4 273.5,194.7 274.0,193.1 274.5,194.4 275.0,191.9 275.5,193.6 276.0,186.6 276.5,160.5 277.0,153.3 277.5,158.1 278.0,163.7 278.5,166.0 279.0,168.6 279.5,170.6 280.0,169.5 280.5,172.5 281.0,172.7 281.5,173.8 282.0,175.5 282.5,176.2 283.0,177.0 283.5,179.2 284.0,178.9 284.5,179.4 285.0,181.5 285.5,180.9 286.0,183.0 286.5,183.6 287.0,182.9 287.5,182.4 288.0,178.4 288.5,178.2 289.0,177.5 289.5,175.4 290.0,175.0 290.5,174.3 291.0,177.9 291.5,179.4 292.0,180.3 292.5,179.6 293.0,182.2 293.5,183.4 294.0,184.8 294.5,183.9 295.0,185.9 295.5,183.5 296.0,183.0 296.5,181.9 297.0,180.2 297.5,178.9 298.0,179.5 298.5,178.9 299.0,179.9 299.5,179.7 300.0,180.7 300.5,180.6 301.0,181.4 301.5,182.1 302.0,183.6 302.5,185.0 303.0,184.8 303.5,185.8 304.0,186.8 304.5,189.1 305.0,189.1 305.5,188.0 306.0,190.4 306.5,190.8 307.0,190.1 307.5,189.0 308.0,187.8 308.5,185.9 309.0,184.8 309.5,186.0 310.0,186.6 310.5,183.5 311.0,188.7 311.5,189.3 312.0,190.3 312.5,191.0 313.0,190.5 313.5,189.4 314.0,190.0 314.5,190.0 315.0,188.7 315.5,189.5 316.0,188.0 316.5,189.4 317.0,190.4 317.5,191.8 318.0,192.6 318.5,195.7 319.0,195.1 319.5,193.2 320.0,192.1 320.5,189.6 321.0,191.5 321.5,190.6 322.0,188.0 322.5,190.0 323.0,191.1 323.5,192.8 324.0,193.1 324.5,192.4 325.0,192.7 325.5,193.0 326.0,192.4 326.5,192.6 327.0,193.4 327.5,192.4 328.0,193.5 328.5,194.3 329.0,192.3 329.5,193.5 330.0,196.2 330.5,197.8 331.0,197.8 331.5,196.0 332.0,192.3 332.5,192.7 333.0,190.0 333.5,188.5 334.0,191.9 334.5,192.6 335.0,192.3 335.5,193.0 336.0,193.3 336.5,195.9 337.0,196.4 337.5,196.0 338.0,194.6 338.5,191.1 339.0,193.6 339.5,193.3 340.0,192.5 340.5,193.9 341.0,190.8 341.5,194.3 342.0,195.9 342.5,197.1 343.0,197.2 343.5,197.0 344.0,198.2 344.5,198.2 345.0,198.7 345.5,199.4 346.0,199.2 346.5,196.2 347.0,195.6 347.5,196.5 348.0,195.2 348.5,194.0 349.0,192.6 349.5,195.6 350.0,195.4 350.5,196.1 351.0,196.9 351.5,196.3 352.0,198.6 352.5,199.3 353.0,199.0 353.5,199.6 354.0,200.6 354.5,200.2 355.0,200.4 355.5,199.4 356.0,198.3 356.5,196.5 357.0,195.5 357.5,197.2 358.0,196.1 358.5,197.7 359.0,195.4 359.5,197.5 360.0,198.6 360.5,198.2 361.0,198.0 361.5,197.2 362.0,198.1 362.5,198.8 363.0,197.7 363.5,197.9 364.0,197.7 364.5,198.4 365.0,200.2 365.5,201.9 366.0,202.5 366.5,199.9 367.0,202.0 367.5,203.0 368.0,203.0 368.5,199.7 369.0,201.6 369.5,201.3 370.0,201.9 370.5,203.1 371.0,202.8 371.5,202.2 372.0,204.7 372.5,205.3 373.0,205.8 373.5,204.5 374.0,203.0 374.5,201.0 375.0,199.1 375.5,202.3 376.0,202.6 376.5,203.2 377.0,203.6 377.5,206.8 378.0,205.6 378.5,200.6 379.0,203.7 379.5,200.3 380.0,201.8 380.5,199.1 381.0,200.5 381.5,199.7 382.0,200.2 382.5,203.3 383.0,206.1 383.5,206.6 384.0,210.6 384.5,208.9 385.0,207.9 385.5,202.6 386.0,201.8 386.5,199.9 387.0,200.2 387.5,201.5 388.0,203.6 388.5,205.3 389.0,209.4 389.5,206.2 390.0,204.5 390.5,201.3 391.0,200.4 391.5,200.3 392.0,204.2 392.5,205.0 393.0,209.3 393.5,208.8 394.0,207.9 394.5,207.2 395.0,205.9 395.5,204.2 396.0,203.1 396.5,204.3 397.0,204.0 397.5,206.4 398.0,207.5 398.5,206.9 399.0,205.8 399.5,206.4 400.0,206.1 400.5,205.7 401.0,204.9 401.5,203.3 402.0,203.5 402.5,201.5 403.0,200.0 403.5,199.8 404.0,203.4 404.5,203.6 405.0,207.2 405.5,208.6 406.0,209.1 406.5,209.2 407.0,207.8 407.5,207.6 408.0,206.0 408.5,204.8 409.0,205.7 409.5,207.1 410.0,206.6 410.5,209.3 411.0,209.4 411.5,208.2 412.0,205.8 412.5,204.3 413.0,206.8 413.5,208.5 414.0,211.7 414.5,213.2 415.0,215.6 415.5,207.2 416.0,198.0 416.5,184.2 417.0,171.4 417.5,182.8 418.0,191.0 418.5,197.7 419.0,197.5 419.5,196.9 420.0,194.1 420.5,194.8 421.0,194.4 421.5,195.1 422.0,195.1 422.5,197.5 423.0,197.2 423.5,198.5 424.0,196.6 424.5,196.8 425.0,194.2 425.5,195.4 426.0,194.3 426.5,196.2 427.0,196.5 427.5,197.5 428.0,196.9 428.5,196.1 429.0,199.4 429.5,200.0 430.0,200.9 430.5,201.6 431.0,200.9 431.5,199.3 432.0,197.4 432.5,194.0 433.0,193.5 433.5,192.8 434.0,190.7 434.5,190.0 435.0,189.1 435.5,187.8 436.0,190.5 436.5,192.0 437.0,192.1 437.5,193.4 438.0,192.0 438.5,192.0 439.0,191.1 439.5,188.9 440.0,191.0 440.5,189.9 441.0,190.5 441.5,190.9 442.0,189.3 442.5,189.6 443.0,189.3 443.5,190.2 444.0,188.2 444.5,189.0 445.0,189.3 445.5,188.5 446.0,187.8 446.5,186.0 447.0,182.8 447.5,184.6 448.0,183.1 448.5,184.3 449.0,184.4 449.5,185.9 450.0,187.3 450.5,188.8 451.0,189.9 451.5,188.4 452.0,190.7 452.5,190.5 453.0,188.7 453.5,188.9 454.0,187.9 454.5,187.9 455.0,189.1 455.5,188.2 456.0,187.6 456.5,186.7 457.0,187.1 457.5,187.2 458.0,185.2 458.5,186.3 459.0,186.9 459.5,187.6 460.0,187.7 460.5,185.0 461.0,188.8 461.5,189.7 462.0,189.9 462.5,189.8 463.0,190.7 463.5,189.9 464.0,190.8 464.5,192.1 465.0,191.9 465.5,191.9 466.0,191.1 466.5,191.4 467.0,189.6 467.5,193.2 468.0,192.6 468.5,193.1 469.0,191.1 469.5,191.1 470.0,189.9 470.5,189.6 471.0,191.2 471.5,192.3 472.0,191.2 472.5,193.0 473.0,193.6 473.5,194.9 474.0,194.6 474.5,194.4 475.0,193.6 475.5,192.1 476.0,192.4 476.5,191.5 477.0,190.0 477.5,193.4 478.0,192.4 478.5,195.6 479.0,196.3 479.5,195.1 480.0,196.5 480.5,195.9 481.0,193.2 481.5,195.1 482.0,193.5 482.5,197.1 483.0,198.5 483.5,200.0 484.0,201.1 484.5,201.6 485.0,201.8 485.5,202.5 486.0,201.8 486.5,203.3 487.0,201.6 487.5,202.0 488.0,203.6 488.5,203.1 489.0,204.3 489.5,201.8 490.0,205.0 490.5,204.6 491.0,203.2 491.5,205.7 492.0,205.3 492.5,204.6 493.0,207.7 493.5,207.9 494.0,208.1 494.5,203.9 495.0,207.8 495.5,207.8 496.0,207.2 496.5,206.7 497.0,206.4 497.5,208.3 498.0,208.3 498.5,210.2 499.0,209.6 499.5,209.8 500.0,209.4 500.5,210.3 501.0,209.3 501.5,208.6 502.0,207.5 502.5,209.0 503.0,208.7 503.5,209.8 504.0,209.5 504.5,203.3 505.0,197.1 505.5,199.9 506.0,204.0 506.5,208.1 507.0,210.1 507.5,208.4 508.0,211.0 508.5,209.9 509.0,211.5 509.5,211.3 510.0,209.9 510.5,209.5 511.0,210.6 511.5,210.8 512.0,211.1 512.5,209.4 513.0,209.5 513.5,209.6 514.0,210.0 514.5,210.7 515.0,211.9 515.5,212.3 516.0,210.3 516.5,211.9 517.0,212.3 517.5,208.0 518.0,206.1 518.5,205.4 519.0,205.2 519.5,207.7 520.0,207.7 520.5,208.0 521.0,209.7 521.5,211.1 522.0,208.6 522.5,210.2 523.0,209.9 523.5,209.7 524.0,208.2 524.5,206.2 525.0,205.0 525.5,205.7 526.0,206.3 526.5,205.8 527.0,205.0 527.5,203.2 528.0,205.1 528.5,207.8 529.0,209.2 529.5,210.7 530.0,210.8 530.5,209.9 531.0,207.6 531.5,209.7 532.0,208.2 532.5,208.7 533.0,209.4 533.5,210.5 534.0,212.1 534.5,209.6 535.0,201.7 535.5,194.8 536.0,189.3 536.5,185.9 537.0,192.4 537.5,198.1 538.0,206.3 538.5,208.7 539.0,204.6 539.5,200.1 540.0,196.9 540.5,192.4 541.0,189.9 541.5,187.5 542.0,187.4 542.5,197.7 543.0,207.0 543.5,211.1 544.0,207.8 544.5,204.8 545.0,200.7 545.5,196.2 546.0,193.9 546.5,190.3 547.0,189.7 547.5,187.1 548.0,185.1 548.5,186.0 549.0,190.3 549.5,193.4 550.0,195.1 550.5,199.4 551.0,202.2 551.5,204.5 552.0,201.2 552.5,196.0 553.0,189.9 553.5,188.5 554.0,190.2 554.5,195.2 555.0,197.7 555.5,193.7 556.0,189.7 556.5,186.0 557.0,185.3 557.5,193.0 558.0,198.0 558.5,200.2 559.0,198.4 559.5,194.8 560.0,193.0 560.5,192.1 561.0,196.2 561.5,198.0 562.0,197.6 562.5,193.0 563.0,191.9 563.5,191.4 564.0,190.0 564.5,189.3 565.0,194.2 565.5,197.0 566.0,197.2 566.5,198.0 567.0,195.6 567.5,196.2 568.0,196.7 568.5,196.7 569.0,198.2 569.5,198.6 570.0,200.2 570.5,203.0 571.0,202.6 571.5,200.5 572.0,200.5 572.5,197.8 573.0,195.9 573.5,197.3 574.0,197.8 574.5,200.1 575.0,200.5 575.5,202.9 576.0,201.8 576.5,202.8 577.0,202.0 577.5,200.9 578.0,201.0 578.5,199.2 579.0,201.6 579.5,202.6 580.0,202.9 580.5,204.6 581.0,205.7 581.5,209.0 582.0,208.9 582.5,207.8 583.0,209.5 583.5,207.8 584.0,206.2 584.5,207.9 585.0,208.9 585.5,208.0 586.0,207.5 586.5,209.8 587.0,210.3 587.5,210.3 588.0,211.0 588.5,210.2 589.0,210.6 589.5,210.0 590.0,211.7 590.5,211.4 591.0,210.3 591.5,211.2 592.0,210.1 592.5,211.4 593.0,207.9 593.5,211.3 594.0,211.1 594.5,211.0 595.0,210.7 595.5,207.2 596.0,210.1 596.5,209.4 597.0,210.5 597.5,209.9 598.0,209.8 598.5,210.2 599.0,210.5 599.5,211.8 600.0,211.9 600.5,210.1 601.0,209.9 601.5,208.1 602.0,206.3 602.5,204.7 603.0,205.9 603.5,205.3 604.0,201.5 604.5,204.0 605.0,205.5 605.5,206.9 606.0,208.5 606.5,208.7 607.0,210.1 607.5,209.3 608.0,206.8 608.5,206.0 609.0,206.6 609.5,207.4 610.0,208.1 610.5,208.7 611.0,210.2 611.5,210.1 612.0,211.0 612.5,209.5 613.0,209.7 613.5,208.9 614.0,207.1 614.5,206.2 615.0,206.8 615.5,206.5 616.0,208.0 616.5,207.6 617.0,208.4 617.5,208.9 618.0,210.4 618.5,210.7 619.0,212.4 619.5,211.1 620.0,213.9 620.5,214.8 621.0,215.2 621.5,214.6 622.0,212.0 622.5,213.5 623.0,214.5 623.0,217.7 622.5,218.5 622.0,218.5 621.5,218.5 621.0,218.5 620.5,218.5 620.0,218.5 619.5,218.5 619.0,217.2 618.5,215.6 618.0,216.6 617.5,214.4 617.0,214.0 616.5,212.9 616.0,212.4 615.5,211.6 615.0,210.3 614.5,212.0 614.0,211.9 613.5,213.0 613.0,213.1 612.5,214.2 612.0,214.4 611.5,214.0 611.0,215.7 610.5,212.1 610.0,212.8 609.5,211.5 609.0,211.6 608.5,211.3 608.0,214.3 607.5,212.4 607.0,212.6 606.5,213.4 606.0,212.1 605.5,213.0 605.0,208.4 604.5,208.7 604.0,208.8 603.5,207.5 603.0,208.6 602.5,210.6 602.0,211.7 601.5,212.2 601.0,213.5 600.5,215.6 600.0,216.3 599.5,214.5 599.0,216.0 598.5,216.4 598.0,214.6 597.5,215.9 597.0,213.0 596.5,217.1 596.0,213.7 595.5,215.1 595.0,213.4 594.5,213.6 594.0,214.0 593.5,216.3 593.0,215.4 592.5,214.1 592.0,214.9 591.5,215.5 591.0,216.2 590.5,215.7 590.0,215.5 589.5,214.8 589.0,214.0 588.5,214.2 588.0,214.7 587.5,213.4 587.0,213.2 586.5,213.9 586.0,214.9 585.5,212.3 585.0,212.0 584.5,213.0 584.0,212.2 583.5,212.6 583.0,212.5 582.5,213.1 582.0,215.0 581.5,215.5 581.0,211.5 580.5,209.3 580.0,208.6 579.5,205.2 579.0,206.2 578.5,204.6 578.0,204.3 577.5,205.0 577.0,205.3 576.5,206.2 576.0,206.1 575.5,206.6 575.0,204.5 574.5,204.3 574.0,202.6 573.5,200.5 573.0,200.8 572.5,201.8 572.0,202.9 571.5,204.8 571.0,206.6 570.5,207.2 570.0,206.2 569.5,205.6 569.0,201.5 568.5,201.7 568.0,199.6 567.5,200.0 567.0,201.3 566.5,203.2 566.0,201.0 565.5,201.3 565.0,198.4 564.5,193.7 564.0,194.0 563.5,197.4 563.0,197.5 562.5,198.3 562.0,202.2 561.5,202.9 561.0,199.4 560.5,198.7 560.0,195.6 559.5,199.4 559.0,203.7 558.5,206.8 558.0,203.7 557.5,197.0 557.0,191.7 556.5,188.7 556.0,195.8 555.5,198.3 555.0,203.0 554.5,198.4 554.0,195.9 553.5,191.2 553.0,193.1 552.5,198.7 552.0,205.3 551.5,208.9 551.0,206.3 550.5,203.5 550.0,201.2 549.5,198.0 549.0,194.1 548.5,192.3 548.0,189.4 547.5,192.6 547.0,193.1 546.5,195.6 546.0,198.1 545.5,202.0 545.0,206.1 544.5,210.0 544.0,213.1 543.5,215.7 543.0,211.6 542.5,204.2 542.0,191.5 541.5,194.3 541.0,193.1 540.5,195.5 540.0,201.1 539.5,203.6 539.0,207.7 538.5,214.4 538.0,209.6 537.5,203.7 537.0,198.2 536.5,191.2 536.0,193.1 535.5,200.2 535.0,205.9 534.5,212.5 534.0,217.1 533.5,215.4 533.0,214.8 532.5,211.4 532.0,212.3 531.5,216.5 531.0,214.5 530.5,214.1 530.0,216.2 529.5,214.9 529.0,214.3 528.5,213.6 528.0,210.4 527.5,209.1 527.0,210.8 526.5,210.1 526.0,209.8 525.5,210.7 525.0,210.6 524.5,213.3 524.0,215.2 523.5,213.2 523.0,213.8 522.5,216.4 522.0,215.8 521.5,216.2 521.0,214.0 520.5,213.4 520.0,214.1 519.5,212.2 519.0,212.0 518.5,210.3 518.0,210.7 517.5,214.5 517.0,215.5 516.5,216.1 516.0,217.2 515.5,216.0 515.0,214.6 514.5,214.9 514.0,213.7 513.5,214.0 513.0,214.1 512.5,213.6 512.0,214.3 511.5,214.3 511.0,214.8 510.5,215.7 510.0,215.8 509.5,215.1 509.0,214.7 508.5,214.2 508.0,215.8 507.5,213.2 507.0,213.4 506.5,211.9 506.0,208.6 505.5,205.1 505.0,204.3 504.5,211.4 504.0,212.8 503.5,212.8 503.0,215.9 502.5,212.8 502.0,211.9 501.5,212.6 501.0,213.7 500.5,213.4 500.0,213.7 499.5,215.2 499.0,214.2 498.5,213.4 498.0,213.1 497.5,211.6 497.0,210.7 496.5,211.7 496.0,210.0 495.5,212.6 495.0,211.1 494.5,211.9 494.0,211.0 493.5,213.5 493.0,211.4 492.5,210.3 492.0,212.3 491.5,210.0 491.0,209.5 490.5,210.6 490.0,209.7 489.5,207.8 489.0,207.6 488.5,207.1 488.0,206.8 487.5,208.9 487.0,206.8 486.5,209.9 486.0,205.8 485.5,206.2 485.0,205.1 484.5,208.4 484.0,204.8 483.5,203.0 483.0,203.7 482.5,200.4 482.0,198.8 481.5,198.3 481.0,199.7 480.5,201.6 480.0,198.9 479.5,201.0 479.0,202.9 478.5,198.9 478.0,197.8 477.5,196.1 477.0,196.6 476.5,195.1 476.0,197.6 475.5,195.7 475.0,196.3 474.5,197.7 474.0,197.9 473.5,199.6 473.0,199.5 472.5,197.4 472.0,197.5 471.5,195.9 471.0,196.0 470.5,194.4 470.0,192.9 469.5,196.5 469.0,195.4 468.5,196.3 468.0,196.8 467.5,197.0 467.0,195.5 466.5,196.8 466.0,196.0 465.5,196.2 465.0,196.2 464.5,195.5 464.0,194.2 463.5,196.6 463.0,195.1 462.5,194.3 462.0,193.8 461.5,193.7 461.0,195.1 460.5,194.0 460.0,191.6 459.5,190.9 459.0,191.4 458.5,189.9 458.0,191.0 457.5,191.2 457.0,190.5 456.5,192.9 456.0,191.1 455.5,192.7 455.0,192.4 454.5,192.9 454.0,195.0 453.5,194.5 453.0,194.5 452.5,197.5 452.0,195.0 451.5,194.2 451.0,192.3 450.5,191.9 450.0,191.6 449.5,191.5 449.0,189.4 448.5,188.3 448.0,187.7 447.5,188.6 447.0,189.6 446.5,191.4 446.0,190.9 445.5,191.8 445.0,193.0 444.5,192.8 444.0,193.3 443.5,193.8 443.0,194.6 442.5,195.8 442.0,193.2 441.5,194.8 441.0,193.4 440.5,193.7 440.0,193.8 439.5,195.7 439.0,196.2 438.5,195.1 438.0,196.2 437.5,198.3 437.0,196.5 436.5,194.6 436.0,193.8 435.5,193.2 435.0,192.2 434.5,193.8 434.0,195.1 433.5,196.1 433.0,196.9 432.5,201.5 432.0,200.4 431.5,202.6 431.0,203.7 430.5,204.3 430.0,203.8 429.5,202.9 429.0,202.4 428.5,201.4 428.0,201.1 427.5,202.2 427.0,203.3 426.5,198.9 426.0,198.9 425.5,201.5 425.0,198.9 424.5,201.4 424.0,201.9 423.5,201.8 423.0,201.7 422.5,201.3 422.0,199.9 421.5,198.9 421.0,198.5 420.5,199.0 420.0,200.3 419.5,201.2 419.0,202.3 418.5,203.8 418.0,198.1 417.5,187.0 417.0,175.9 416.5,189.3 416.0,202.8 415.5,211.4 415.0,218.5 414.5,216.0 414.0,214.1 413.5,215.0 413.0,211.4 412.5,209.8 412.0,211.7 411.5,211.6 411.0,214.1 410.5,214.8 410.0,212.7 409.5,212.1 409.0,211.4 408.5,209.2 408.0,209.2 407.5,210.1 407.0,213.1 406.5,212.0 406.0,214.3 405.5,212.5 405.0,210.5 404.5,210.7 404.0,207.2 403.5,205.9 403.0,206.7 402.5,207.4 402.0,209.1 401.5,209.2 401.0,208.9 400.5,210.4 400.0,209.5 399.5,211.4 399.0,210.4 398.5,212.5 398.0,211.0 397.5,210.9 397.0,210.0 396.5,207.7 396.0,207.3 395.5,209.1 395.0,208.3 394.5,211.6 394.0,211.8 393.5,213.1 393.0,211.8 392.5,212.1 392.0,208.8 391.5,206.5 391.0,205.0 390.5,205.1 390.0,209.9 389.5,214.1 389.0,213.1 388.5,209.9 388.0,207.3 387.5,205.2 387.0,205.2 386.5,203.6 386.0,205.3 385.5,209.3 385.0,210.2 384.5,213.4 384.0,213.7 383.5,214.1 383.0,210.0 382.5,207.3 382.0,204.8 381.5,203.7 381.0,203.9 380.5,207.2 380.0,204.9 379.5,208.1 379.0,207.3 378.5,207.7 378.0,210.0 377.5,211.0 377.0,209.7 376.5,208.6 376.0,209.3 375.5,208.3 375.0,204.7 374.5,205.4 374.0,208.0 373.5,207.4 373.0,209.5 372.5,209.7 372.0,209.4 371.5,208.1 371.0,207.5 370.5,206.0 370.0,206.4 369.5,204.8 369.0,208.2 368.5,206.3 368.0,205.6 367.5,206.1 367.0,206.1 366.5,207.4 366.0,206.5 365.5,205.0 365.0,206.7 364.5,203.0 364.0,203.8 363.5,201.4 363.0,202.4 362.5,202.1 362.0,201.9 361.5,202.6 361.0,201.9 360.5,202.2 360.0,201.9 359.5,203.1 359.0,202.2 358.5,201.1 358.0,200.9 357.5,200.3 357.0,201.3 356.5,200.9 356.0,202.0 355.5,203.3 355.0,203.7 354.5,204.4 354.0,205.2 353.5,203.6 353.0,202.7 352.5,202.0 352.0,202.4 351.5,202.1 351.0,201.8 350.5,203.1 350.0,199.9 349.5,199.8 349.0,200.0 348.5,198.2 348.0,199.1 347.5,199.5 347.0,200.3 346.5,201.8 346.0,203.4 345.5,202.0 345.0,202.6 344.5,202.3 344.0,201.0 343.5,203.1 343.0,200.0 342.5,201.0 342.0,199.9 341.5,199.8 341.0,198.0 340.5,197.6 340.0,196.9 339.5,196.8 339.0,198.2 338.5,198.8 338.0,199.6 337.5,199.6 337.0,199.2 336.5,200.0 336.0,199.6 335.5,197.3 335.0,196.9 334.5,195.8 334.0,195.2 333.5,193.5 333.0,194.8 332.5,197.7 332.0,197.9 331.5,198.9 331.0,202.1 330.5,201.6 330.0,199.7 329.5,198.6 329.0,199.5 328.5,197.1 328.0,196.7 327.5,198.9 327.0,197.8 326.5,197.4 326.0,196.9 325.5,199.8 325.0,198.1 324.5,197.6 324.0,198.5 323.5,196.9 323.0,195.5 322.5,195.2 322.0,193.8 321.5,193.4 321.0,194.9 320.5,196.0 320.0,196.7 319.5,200.9 319.0,198.4 318.5,198.5 318.0,199.7 317.5,198.7 317.0,198.7 316.5,197.4 316.0,192.8 315.5,192.6 315.0,193.9 314.5,193.9 314.0,193.4 313.5,193.8 313.0,193.8 312.5,195.1 312.0,193.8 311.5,191.8 311.0,191.1 310.5,190.6 310.0,190.0 309.5,188.4 309.0,189.4 308.5,189.9 308.0,193.3 307.5,193.1 307.0,193.8 306.5,195.5 306.0,195.1 305.5,195.8 305.0,193.9 304.5,193.0 304.0,192.4 303.5,191.0 303.0,190.1 302.5,188.4 302.0,188.7 301.5,188.1 301.0,186.4 300.5,184.9 300.0,183.8 299.5,184.9 299.0,183.0 298.5,183.9 298.0,182.3 297.5,183.7 297.0,184.5 296.5,186.1 296.0,186.7 295.5,188.6 295.0,189.9 294.5,188.4 294.0,188.1 293.5,187.6 293.0,186.5 292.5,187.2 292.0,186.1 291.5,182.9 291.0,180.5 290.5,180.4 290.0,179.0 289.5,179.2 289.0,181.3 288.5,182.9 288.0,185.4 287.5,186.5 287.0,188.6 286.5,188.2 286.0,185.8 285.5,185.7 285.0,186.7 284.5,186.3 284.0,182.6 283.5,181.9 283.0,181.0 282.5,180.0 282.0,180.2 281.5,178.9 281.0,177.8 280.5,176.8 280.0,174.8 279.5,173.8 279.0,172.5 278.5,170.2 278.0,167.5 277.5,162.9 277.0,156.8 276.5,164.7 276.0,189.4 275.5,200.8 275.0,197.4 274.5,197.6 274.0,197.4 273.5,197.9 273.0,199.9 272.5,198.8 272.0,200.5 271.5,199.1 271.0,197.4 270.5,196.1 270.0,196.2 269.5,196.1 269.0,197.9 268.5,197.8 268.0,199.4 267.5,200.5 267.0,200.5 266.5,202.6 266.0,203.4 265.5,203.5 265.0,204.0 264.5,202.8 264.0,200.4 263.5,201.0 263.0,199.3 262.5,199.8 262.0,196.2 261.5,194.7 261.0,194.7 260.5,197.1 260.0,196.9 259.5,197.3 259.0,202.9 258.5,200.9 258.0,201.6 257.5,199.1 257.0,197.7 256.5,196.9 256.0,196.5 255.5,195.0 255.0,196.0 254.5,197.8 254.0,199.1 253.5,201.1 253.0,198.8 252.5,199.9 252.0,197.6 251.5,194.5 251.0,193.8 250.5,193.3 250.0,193.1 249.5,196.1 249.0,194.6 248.5,193.9 248.0,194.3 247.5,195.2 247.0,197.9 246.5,197.9 246.0,200.0 245.5,199.5 245.0,199.7 244.5,197.8 244.0,199.2 243.5,196.7 243.0,196.1 242.5,195.2 242.0,195.3 241.5,190.5 241.0,189.1 240.5,189.9 240.0,193.4 239.5,194.8 239.0,197.5 238.5,201.4 238.0,199.4 237.5,197.6 237.0,194.5 236.5,193.0 236.0,191.2 235.5,190.4 235.0,191.8 234.5,194.4 234.0,191.9 233.5,194.4 233.0,194.3 232.5,196.9 232.0,198.4 231.5,198.9 231.0,195.9 230.5,195.6 230.0,196.0 229.5,191.6 229.0,190.9 228.5,191.2 228.0,192.4 227.5,195.4 227.0,199.2 226.5,200.0 226.0,200.0 225.5,198.6 225.0,198.6 224.5,197.9 224.0,197.0 223.5,196.9 223.0,192.7 222.5,190.4 222.0,189.2 221.5,189.1 221.0,192.5 220.5,194.1 220.0,193.9 219.5,197.9 219.0,196.4 218.5,193.0 218.0,191.0 217.5,188.6 217.0,184.6 216.5,184.9 216.0,189.6 215.5,189.6 215.0,192.4 214.5,197.4 214.0,196.4 213.5,196.1 213.0,195.8 212.5,196.2 212.0,196.0 211.5,195.8 211.0,195.7 210.5,194.2 210.0,195.1 209.5,192.3 209.0,188.0 208.5,183.7 208.0,180.7 207.5,183.5 207.0,189.3 206.5,192.5 206.0,196.2 205.5,195.7 205.0,195.3 204.5,193.7 204.0,192.5 203.5,190.8 203.0,191.9 202.5,194.2 202.0,197.6 201.5,198.3 201.0,197.1 200.5,195.1 200.0,194.4 199.5,194.6 199.0,193.3 198.5,189.0 198.0,185.9 197.5,184.3 197.0,180.4 196.5,179.4 196.0,184.7 195.5,185.0 195.0,188.0 194.5,192.3 194.0,191.2 193.5,189.2 193.0,187.6 192.5,185.1 192.0,179.9 191.5,177.0 191.0,174.6 190.5,175.1 190.0,178.0 189.5,180.4 189.0,183.8 188.5,186.7 188.0,190.3 187.5,192.5 187.0,186.8 186.5,183.2 186.0,175.0 185.5,178.6 185.0,181.2 184.5,187.7 184.0,188.9 183.5,184.3 183.0,182.0 182.5,176.5 182.0,179.6 181.5,184.5 181.0,186.8 180.5,187.9 180.0,190.7 179.5,189.7 179.0,189.2 178.5,188.7 178.0,186.9 177.5,188.5 177.0,186.5 176.5,186.6 176.0,183.8 175.5,183.4 175.0,185.2 174.5,180.8 174.0,180.2 173.5,179.6 173.0,180.0 172.5,181.3 172.0,184.5 171.5,186.1 171.0,185.7 170.5,188.0 170.0,190.0 169.5,187.5 169.0,186.1 168.5,186.5 168.0,184.5 167.5,182.7 167.0,181.6 166.5,181.3 166.0,179.5 165.5,176.9 165.0,177.8 164.5,181.6 164.0,186.1 163.5,192.8 163.0,190.4 162.5,186.9 162.0,184.9 161.5,184.2 161.0,191.4 160.5,195.0 160.0,199.7 159.5,197.7 159.0,193.6 158.5,193.0 158.0,188.6 157.5,187.0 157.0,188.1 156.5,191.6 156.0,194.1 155.5,198.0 155.0,200.5 154.5,201.7 154.0,199.9 153.5,200.4 153.0,200.2 152.5,198.8 152.0,197.8 151.5,197.9 151.0,196.7 150.5,193.8 150.0,192.7 149.5,191.1 149.0,192.3 148.5,188.6 148.0,189.9 147.5,192.8 147.0,194.8 146.5,199.1 146.0,202.6 145.5,203.0 145.0,202.7 144.5,201.4 144.0,203.1 143.5,202.9 143.0,201.3 142.5,197.4 142.0,197.1 141.5,196.1 141.0,192.1 140.5,189.5 140.0,186.0 139.5,183.8 139.0,184.4 138.5,189.4 138.0,193.6 137.5,194.3 137.0,198.2 136.5,201.7 136.0,200.1 135.5,197.1 135.0,195.3 134.5,194.2 134.0,192.6 133.5,191.6 133.0,191.6 132.5,193.2 132.0,193.8 131.5,195.4 131.0,194.5 130.5,194.8 130.0,195.7 129.5,194.6 129.0,195.3 128.5,196.6 128.0,194.5 127.5,193.6 127.0,192.9 126.5,190.5 126.0,191.1 125.5,191.8 125.0,191.9 124.5,193.8 124.0,193.6 123.5,194.0 123.0,194.1 122.5,192.4 122.0,190.4 121.5,189.9 121.0,189.7 120.5,191.6 120.0,190.1 119.5,189.4 119.0,191.0 118.5,190.2 118.0,191.1 117.5,192.2 117.0,193.9 116.5,195.6 116.0,191.7 115.5,190.9 115.0,187.8 114.5,187.4 114.0,188.3 113.5,188.3 113.0,187.1 112.5,188.3 112.0,187.3 111.5,187.3 111.0,185.9 110.5,185.7 110.0,184.1 109.5,183.4 109.0,185.2 108.5,187.0 108.0,190.3 107.5,191.8 107.0,193.8 106.5,194.6 106.0,192.6 105.5,193.6 105.0,193.5 104.5,191.1 104.0,191.0 103.5,190.7 103.0,190.0 102.5,192.9 102.0,192.6 101.5,193.1 101.0,192.3 100.5,191.1 100.0,189.8 99.5,190.1 99.0,189.2 98.5,186.9 98.0,185.9 97.5,185.9 97.0,184.7 96.5,184.5 96.0,183.4 95.5,180.9 95.0,183.1 94.5,178.5 94.0,178.5 93.5,181.8 93.0,184.0 92.5,183.8 92.0,187.1 91.5,189.4 91.0,191.5 90.5,189.0 90.0,190.0 89.5,189.0 89.0,190.0 88.5,188.5 88.0,188.9 87.5,188.8 87.0,189.4 86.5,187.4 86.0,185.8 85.5,186.6 85.0,187.4 84.5,190.9 84.0,189.6 83.5,188.7 83.0,188.5 82.5,188.3 82.0,188.1 81.5,186.8 81.0,187.4 80.5,187.9 80.0,188.4 79.5,187.5 79.0,187.0 78.5,185.9 78.0,186.7 77.5,187.8 77.0,188.8 76.5,187.8 76.0,188.6 75.5,185.8 75.0,184.6 74.5,184.2 74.0,182.6 73.5,181.2 73.0,180.4 72.5,178.0 72.0,177.6 71.5,176.5 71.0,179.7 70.5,183.6 70.0,183.0 69.5,185.9 69.0,187.9 68.5,192.5 68.0,193.0 67.5,194.8 67.0,195.5 66.5,195.8 66.0,195.6 65.5,193.1 65.0,193.6 64.5,191.2 64.0,189.5 63.5,189.5 63.0,188.4 62.5,187.2 62.0,188.2 61.5,189.0 61.0,188.9 60.5,190.5 60.0,187.6 59.5,188.0 59.0,191.8"/><polyline fill="none" stroke="#f46d26" stroke-width="1.6" stroke-linejoin="round" points="57.3,214 58.5,195 59.3,185.8 61,187 62.5,186 64.3,188 66,193.3 67.7,193.3 69.3,185 71.8,174 73,177 74.3,182 76.5,186 78,184 80,187 82,185 84,188 86,184 88,187 91,188 94.3,175.8 96.5,182 99.3,187 101.5,190 103.5,188 105.5,192 107.7,190 109.3,181.7 111.7,185.8 115,185.8 116.7,193.3 118.3,188.3 121.7,188.3 123.3,192.5 126.7,189 128.3,193.3 131.7,193.3 133.3,189 136.7,199 139.2,180.8 141.7,192.5 143.3,200 145.8,200 148.3,186.7 151.7,195.8 155,199 157.5,183.3 160,198.3 161.7,180.8 163.3,190 165,174.2 166.7,179.2 170,187.5 173.3,177.5 176.7,183.3 180,189 182.5,175 184.2,188.3 185.8,171.7 187.5,190 190.8,171.7 194.2,190.8 196.7,176.7 199.2,191.7 201.7,195.8 203.3,189.2 205.8,195 208,178.3 210,191.7 211.7,194.2 214.2,195 216.7,181.7 219.2,195.8 221.7,185.8 224.2,195.8 226.7,198.3 228.3,187.5 231.7,195.8 233.3,190.8 235.8,188.3 238.3,198.3 240.8,186.7 243.3,195 245.8,198.3 248.3,191.7 250.8,191.7 253.3,197.5 255.8,193.3 258.3,200 260.8,191.7 263.3,196.7 265,201.7 267.5,196.7 270,194.2 272.5,197.5 275,195 275.8,198.3 276.7,152.5 278.3,168.3 280.3,174.5 283.3,180 286.7,185.8 290,176.7 292.5,183.3 295,188.3 297.5,180.8 300.8,182.5 304.2,190.8 306.7,193.3 309.2,186.7 312.5,192.5 315.8,190.8 318.3,197.5 321.7,191.7 325,195.8 328.3,195 330.8,200 333.3,191.7 336.7,198.3 339.2,195 342.5,198.3 345.8,200.8 348.3,196.7 351.7,199.2 354.2,203.3 356.7,198.3 360,200 363.3,200 366.7,205 370,203.3 372.5,208.3 375,203.3 377.5,209 379,205 381.7,201.7 384.2,213.3 386.7,200 389.2,211.7 390.8,201.7 393.3,211.7 395.8,205 398.3,210 400.8,206.7 403.3,203.3 405.8,211.7 408.3,207.5 410.8,211.7 412.5,207.5 415,216.7 415.8,205 417,174.2 418.3,200 420.8,196.7 423.3,200 425.8,196.7 428.3,200 430.8,203.3 432.5,196.7 435,190.8 437.5,195 440,192.5 443.3,191.7 445.8,190 448.3,185.8 451.7,192.5 455,190.8 458.3,187.5 461.7,192.5 465,193.3 468.3,195 470,191.7 473.3,196.7 476.7,193.3 479.2,198.3 481.7,196.7 484.2,203.3 486.7,205 490,206.7 493.3,210 496.7,208.3 499.2,213.3 501.7,210 504.2,211.7 505,200 506.7,211.7 510,213.3 513.3,211.7 516.7,215 518.3,207.5 521.7,214.2 525,208.3 527.5,206.7 530,213.3 532.5,210 534.2,215 536.3,186.7 538.3,211.7 540.8,191.7 542,190 543.3,215 545.8,196.7 548.3,185.8 550,200 551.7,206.7 553.3,188.3 555,200 556.7,185.8 558.3,203.3 560,194.2 561.7,200 564.2,190.8 565.8,200 568.3,198.3 570.8,205 573.3,198.3 575.8,205 578.3,201.7 580,205 581.7,211.7 584.2,210 586.7,211.7 590,213.3 593.3,212.5 596.7,211.7 600,213.3 602.5,208.3 604.2,205 606.7,211.7 609.2,209.2 611.7,212.5 615,208.3 617.5,211.7 619.2,215 620.8,216.7 622.5,215 623.3,216"/><rect x="36.6" y="20.7" width="587.3" height="198.2" fill="none" stroke="#262626" stroke-width="1.3"/><line x1="36.80" y1="20.7" x2="36.80" y2="23.7" stroke="#262626" stroke-width="1"/><line x1="36.80" y1="218.5" x2="36.80" y2="215.5" stroke="#262626" stroke-width="1"/><text x="36.80" y="236.6" font-size="13.4" text-anchor="middle" fill="#000" font-weight="normal" >0</text><line x1="90.18" y1="20.7" x2="90.18" y2="23.7" stroke="#262626" stroke-width="1"/><line x1="90.18" y1="218.5" x2="90.18" y2="215.5" stroke="#262626" stroke-width="1"/><text x="90.18" y="236.6" font-size="13.4" text-anchor="middle" fill="#000" font-weight="normal" >200</text><line x1="143.55" y1="20.7" x2="143.55" y2="23.7" stroke="#262626" stroke-width="1"/><line x1="143.55" y1="218.5" x2="143.55" y2="215.5" stroke="#262626" stroke-width="1"/><text x="143.55" y="236.6" font-size="13.4" text-anchor="middle" fill="#000" font-weight="normal" >400</text><line x1="196.93" y1="20.7" x2="196.93" y2="23.7" stroke="#262626" stroke-width="1"/><line x1="196.93" y1="218.5" x2="196.93" y2="215.5" stroke="#262626" stroke-width="1"/><text x="196.93" y="236.6" font-size="13.4" text-anchor="middle" fill="#000" font-weight="normal" >600</text><line x1="250.30" y1="20.7" x2="250.30" y2="23.7" stroke="#262626" stroke-width="1"/><line x1="250.30" y1="218.5" x2="250.30" y2="215.5" stroke="#262626" stroke-width="1"/><text x="250.30" y="236.6" font-size="13.4" text-anchor="middle" fill="#000" font-weight="normal" >800</text><line x1="303.68" y1="20.7" x2="303.68" y2="23.7" stroke="#262626" stroke-width="1"/><line x1="303.68" y1="218.5" x2="303.68" y2="215.5" stroke="#262626" stroke-width="1"/><text x="303.68" y="236.6" font-size="13.4" text-anchor="middle" fill="#000" font-weight="normal" >1000</text><line x1="357.06" y1="20.7" x2="357.06" y2="23.7" stroke="#262626" stroke-width="1"/><line x1="357.06" y1="218.5" x2="357.06" y2="215.5" stroke="#262626" stroke-width="1"/><text x="357.06" y="236.6" font-size="13.4" text-anchor="middle" fill="#000" font-weight="normal" >1200</text><line x1="410.43" y1="20.7" x2="410.43" y2="23.7" stroke="#262626" stroke-width="1"/><line x1="410.43" y1="218.5" x2="410.43" y2="215.5" stroke="#262626" stroke-width="1"/><text x="410.43" y="236.6" font-size="13.4" text-anchor="middle" fill="#000" font-weight="normal" >1400</text><line x1="463.81" y1="20.7" x2="463.81" y2="23.7" stroke="#262626" stroke-width="1"/><line x1="463.81" y1="218.5" x2="463.81" y2="215.5" stroke="#262626" stroke-width="1"/><text x="463.81" y="236.6" font-size="13.4" text-anchor="middle" fill="#000" font-weight="normal" >1600</text><line x1="517.18" y1="20.7" x2="517.18" y2="23.7" stroke="#262626" stroke-width="1"/><line x1="517.18" y1="218.5" x2="517.18" y2="215.5" stroke="#262626" stroke-width="1"/><text x="517.18" y="236.6" font-size="13.4" text-anchor="middle" fill="#000" font-weight="normal" >1800</text><line x1="570.56" y1="20.7" x2="570.56" y2="23.7" stroke="#262626" stroke-width="1"/><line x1="570.56" y1="218.5" x2="570.56" y2="215.5" stroke="#262626" stroke-width="1"/><text x="570.56" y="236.6" font-size="13.4" text-anchor="middle" fill="#000" font-weight="normal" >2000</text><line x1="623.94" y1="20.7" x2="623.94" y2="23.7" stroke="#262626" stroke-width="1"/><line x1="623.94" y1="218.5" x2="623.94" y2="215.5" stroke="#262626" stroke-width="1"/><text x="623.94" y="236.6" font-size="13.4" text-anchor="middle" fill="#000" font-weight="normal" >2200</text><line x1="36.6" y1="218.60" x2="39.6" y2="218.60" stroke="#262626" stroke-width="1"/><text x="32.2" y="223.00" font-size="13.4" text-anchor="end" fill="#000" font-weight="normal" >0</text><line x1="36.6" y1="179.04" x2="39.6" y2="179.04" stroke="#262626" stroke-width="1"/><text x="32.2" y="183.44" font-size="13.4" text-anchor="end" fill="#000" font-weight="normal" >2</text><line x1="36.6" y1="139.48" x2="39.6" y2="139.48" stroke="#262626" stroke-width="1"/><text x="32.2" y="143.88" font-size="13.4" text-anchor="end" fill="#000" font-weight="normal" >4</text><line x1="36.6" y1="99.92" x2="39.6" y2="99.92" stroke="#262626" stroke-width="1"/><text x="32.2" y="104.32" font-size="13.4" text-anchor="end" fill="#000" font-weight="normal" >6</text><line x1="36.6" y1="60.36" x2="39.6" y2="60.36" stroke="#262626" stroke-width="1"/><text x="32.2" y="64.76" font-size="13.4" text-anchor="end" fill="#000" font-weight="normal" >8</text><line x1="36.6" y1="20.80" x2="39.6" y2="20.80" stroke="#262626" stroke-width="1"/><text x="32.2" y="25.20" font-size="13.4" text-anchor="end" fill="#000" font-weight="normal" >10</text><text x="330.8" y="252.5" font-size="15.3" text-anchor="middle" fill="#000" font-weight="normal" >Time (s)</text><text transform="translate(13.4,119.1) rotate(-90)" font-size="15.3" text-anchor="middle">Doppler velocities (m/s)</text><text x="0" y="9.4" font-size="14.9" text-anchor="start" fill="#000" font-weight="bold" >(a)</text><text x="37" y="14.8" font-size="11.2" text-anchor="start" fill="#000" font-weight="normal" >#DF20220630, t0=20:46:19 UTC, RG2</text><text x="41.4" y="37.1" font-size="13" text-anchor="start" fill="#f8692a" font-weight="normal" >Median velocity (m/s)</text><text x="445.3" y="50" font-size="14.3" text-anchor="start" fill="#000" font-weight="normal" >Ø Bulk density ~ 1700 kg m<tspan font-size="8.6" dy="-5.6">-3</tspan></text><text x="107.2" y="80.1" font-size="14" text-anchor="middle" fill="#000" font-weight="normal" >Surge 1</text><text x="216.2" y="80.1" font-size="14" text-anchor="middle" fill="#000" font-weight="normal" >Surge 2</text><text x="346.4" y="80.1" font-size="14" text-anchor="middle" fill="#000" font-weight="normal" >Surge 3</text><text x="473.5" y="80.1" font-size="14" text-anchor="middle" fill="#000" font-weight="normal" >Surge 4</text><text x="576.2" y="80.1" font-size="14" text-anchor="middle" fill="#000" font-weight="normal" >Tail</text><line x1="59.9" y1="86.8" x2="159.9" y2="86.8" stroke="#2a2a2a" stroke-width="1.6" stroke-dasharray="1.55 1.2"/><line x1="168.6" y1="86.8" x2="268.2" y2="86.8" stroke="#2a2a2a" stroke-width="1.6" stroke-dasharray="1.55 1.2"/><line x1="279.8" y1="86.8" x2="408.4" y2="86.8" stroke="#2a2a2a" stroke-width="1.6" stroke-dasharray="1.55 1.2"/><line x1="417.1" y1="86.8" x2="525.9" y2="86.8" stroke="#2a2a2a" stroke-width="1.6" stroke-dasharray="1.55 1.2"/><line x1="530.4" y1="86.8" x2="618.8" y2="86.8" stroke="#2a2a2a" stroke-width="1.6" stroke-dasharray="1.55 1.2"/><text x="43.2" y="116" font-size="13.9" text-anchor="start" fill="#000" font-weight="normal" >Pre-</text><text x="43.2" y="132" font-size="13.9" text-anchor="start" fill="#000" font-weight="normal" >Surge</text><text x="93.8" y="128.8" font-size="13.9" text-anchor="start" fill="#000" font-weight="normal" >Front</text><line x1="49.5" y1="136.5" x2="59" y2="167.5" stroke="#2a2a2a" stroke-width="1.6" stroke-dasharray="1.5 1.4"/><line x1="92.1" y1="133.4" x2="72.5" y2="166.7" stroke="#2a2a2a" stroke-width="1.6" stroke-dasharray="1.5 1.4"/><rect x="630.6" y="21.3" width="12.6" height="197.2" fill="url(#cb)" stroke="#262626" stroke-width="1.3"/><line x1="643.2" y1="218.60" x2="640.7" y2="218.60" stroke="#262626" stroke-width="1"/><text x="647.6" y="223.00" font-size="13.4" text-anchor="start" fill="#000" font-weight="normal" >0</text><line x1="643.2" y1="179.10" x2="640.7" y2="179.10" stroke="#262626" stroke-width="1"/><text x="647.6" y="183.50" font-size="13.4" text-anchor="start" fill="#000" font-weight="normal" >50</text><line x1="643.2" y1="139.60" x2="640.7" y2="139.60" stroke="#262626" stroke-width="1"/><text x="647.6" y="144.00" font-size="13.4" text-anchor="start" fill="#000" font-weight="normal" >100</text><line x1="643.2" y1="100.10" x2="640.7" y2="100.10" stroke="#262626" stroke-width="1"/><text x="647.6" y="104.50" font-size="13.4" text-anchor="start" fill="#000" font-weight="normal" >150</text><line x1="643.2" y1="60.60" x2="640.7" y2="60.60" stroke="#262626" stroke-width="1"/><text x="647.6" y="65.00" font-size="13.4" text-anchor="start" fill="#000" font-weight="normal" >200</text><line x1="643.2" y1="21.10" x2="640.7" y2="21.10" stroke="#262626" stroke-width="1"/><text x="647.6" y="25.50" font-size="13.4" text-anchor="start" fill="#000" font-weight="normal" >250</text><text transform="translate(675.6,120.6) rotate(90)" font-size="15.3" text-anchor="middle">Echo intensity (absolute)</text><line x1="89.90" y1="263.49" x2="89.90" y2="382.5" stroke="#000" stroke-opacity="0.15" stroke-width="1.1"/><line x1="143.44" y1="263.49" x2="143.44" y2="382.5" stroke="#000" stroke-opacity="0.15" stroke-width="1.1"/><line x1="196.99" y1="263.49" x2="196.99" y2="382.5" stroke="#000" stroke-opacity="0.15" stroke-width="1.1"/><line x1="250.53" y1="263.49" x2="250.53" y2="382.5" stroke="#000" stroke-opacity="0.15" stroke-width="1.1"/><line x1="304.07" y1="263.49" x2="304.07" y2="382.5" stroke="#000" stroke-opacity="0.15" stroke-width="1.1"/><line x1="357.61" y1="263.49" x2="357.61" y2="382.5" stroke="#000" stroke-opacity="0.15" stroke-width="1.1"/><line x1="411.15" y1="263.49" x2="411.15" y2="382.5" stroke="#000" stroke-opacity="0.15" stroke-width="1.1"/><line x1="464.70" y1="263.49" x2="464.70" y2="382.5" stroke="#000" stroke-opacity="0.15" stroke-width="1.1"/><line x1="36.75" y1="342.83" x2="491.8" y2="342.83" stroke="#000" stroke-opacity="0.15" stroke-width="1.1"/><line x1="36.75" y1="303.16" x2="491.8" y2="303.16" stroke="#000" stroke-opacity="0.15" stroke-width="1.1"/><line x1="36.75" y1="263.49" x2="491.8" y2="263.49" stroke="#000" stroke-opacity="0.15" stroke-width="1.1"/><polyline fill="none" stroke="#1a1a1a" stroke-width="1.3" stroke-linejoin="round" points="68.8,347 69.5,337.5 70.5,328.5 71.7,330.2 73.1,334.6 74.6,340.4 75.3,341.9 76.4,339.7 78.2,341.9 79.7,343.4 81.9,341.6 83.4,343.1 85.5,344.5 87.7,344.8 89.2,343.6 91.4,345.1 92.8,341.9 95,338.2 96.5,341.9 98.7,343.4 100.9,343.1 103.1,344.8 106,346 108.2,341.6 110.4,341.9 112.6,343.6 114.7,343.1 116.9,345.5 118.4,342.2 119.9,344.1 121.3,343.1 123.5,347 125.7,346.3 127.4,343.1 129.3,345.5 131.5,346.6 133,343.4 134.5,345.5 136.6,348.9 138.1,349.2 139.6,338.2 141,341.9 142.5,347.4 144.7,348.9 146.9,348.5 148.3,338.2 149.8,344.8 152,347.7 154.9,349.9 156.4,349.2 157.6,337.5 159.1,345.5 160.8,348.5 162,332.8 163.5,341.9 165.2,329.9 167.4,335.3 169.3,339.7 171.1,337.2 172.5,339.7 174.3,336.4 176.2,339.7 178.4,344.1 180.5,345.5 182.4,340.4 184.2,345.5 186,338.7 187.4,345.5 189.3,346.3 191.2,338.7 193,345.5 195.1,347 197,343.1 199.5,346.3 201.7,349.2 203.9,343.6 205.8,347.7 207.8,342.6 210.2,347.7 212.7,348.5 215.1,349.9 217.5,343.6 219.2,349.9 221.4,343.6 223.3,349.2 226.5,351 228.7,345.5 230.6,350.4 232.4,346.3 234.1,350.4 236,345.5 238.2,351.4 241.1,345.1 244,349.9 246.2,351.8 248.4,348.5 249.9,351.4 251.4,348.5 252.9,351.4 254.4,352.8 256.1,347.4 258,352.1 259.1,352.8 261,345.5 262.4,352.1 264.6,353.6 267.2,355 269,350.7 271.2,352.1 272.6,351.4 274.1,349.2 275.5,352.8 277,355 277.7,333.4 279.2,336.8 281.4,340.4 282.8,344.1 284.3,346 285.8,345.5 287.2,349.2 288.7,351.4 290.1,353.6 291.2,345.1 292.3,351.8 293.8,349.9 296,353.3 298.2,351 300.4,351.4 302.6,352.8 304.3,354.3 306.9,353.9 309.6,351.4 311.3,354.3 314.2,354.7 316.4,353.9 318.6,355.8 320.8,354.3 323,355.8 325.2,355.3 327.4,356.5 330,357.7 331.8,358.2 333.2,354.3 334.7,358.2 336.9,358.2 339.1,355 340.5,358 342.7,356.5 344.9,357.7 346.5,359.2 348.6,357.7 350.8,360.4 353,359.2 354.5,360.4 355.9,356.6 357.4,359.9 359.6,360.7 361.4,359.2 363.7,361.8 366.6,360.7 368.6,361.8 371,361.4 372.7,362.8 374.9,360.4 376.8,362.4 378.9,363.9 380.8,361.8 382.7,361.8 385.1,363.6 387.6,364.7 390.3,365.8 392.4,361.4 393.9,364.7 396.1,366.2 398.3,364.7 400.2,366.8 401.9,368.2 404.1,368.7 406.3,368.2 407.8,369.1 409.2,366.8 411.4,368.2 413.6,368 414.8,369.1 416.2,371.2 417.3,365.8 418.3,363.9 419.2,367.7 420.2,363.6 421.6,367.2 423.1,365 425,364.7 426.5,365.7 428.1,368.1 430.1,363.1 431.9,363.9 433.7,362.1 435.5,361.5 437.3,361.9 438.5,363.1 439.6,361.2 442,361.5 443.8,361.9 446.2,362.4 448.6,363.3 451,364.5 453.3,365.1 455.7,366 458.1,365.5 460.5,365.7 462.9,366.7 465.2,367.5 467.6,368.1 470,368.3 472.4,368.1 474.8,367.9 477.1,368.3 479.5,368.1 481.9,368.3 483.7,368.7"/><path d="M36.75,263.49 V382.5 H491.8" fill="none" stroke="#000" stroke-width="1.5"/><line x1="36.36" y1="382.5" x2="36.36" y2="380.0" stroke="#000" stroke-width="1"/><text x="36.36" y="399.4" font-size="13.4" text-anchor="middle" fill="#000" font-weight="normal" >0</text><line x1="89.90" y1="382.5" x2="89.90" y2="380.0" stroke="#000" stroke-width="1"/><text x="89.90" y="399.4" font-size="13.4" text-anchor="middle" fill="#000" font-weight="normal" >200</text><line x1="143.44" y1="382.5" x2="143.44" y2="380.0" stroke="#000" stroke-width="1"/><text x="143.44" y="399.4" font-size="13.4" text-anchor="middle" fill="#000" font-weight="normal" >400</text><line x1="196.99" y1="382.5" x2="196.99" y2="380.0" stroke="#000" stroke-width="1"/><text x="196.99" y="399.4" font-size="13.4" text-anchor="middle" fill="#000" font-weight="normal" >600</text><line x1="250.53" y1="382.5" x2="250.53" y2="380.0" stroke="#000" stroke-width="1"/><text x="250.53" y="399.4" font-size="13.4" text-anchor="middle" fill="#000" font-weight="normal" >800</text><line x1="304.07" y1="382.5" x2="304.07" y2="380.0" stroke="#000" stroke-width="1"/><text x="304.07" y="399.4" font-size="13.4" text-anchor="middle" fill="#000" font-weight="normal" >1000</text><line x1="357.61" y1="382.5" x2="357.61" y2="380.0" stroke="#000" stroke-width="1"/><text x="357.61" y="399.4" font-size="13.4" text-anchor="middle" fill="#000" font-weight="normal" >1200</text><line x1="411.15" y1="382.5" x2="411.15" y2="380.0" stroke="#000" stroke-width="1"/><text x="411.15" y="399.4" font-size="13.4" text-anchor="middle" fill="#000" font-weight="normal" >1400</text><line x1="464.70" y1="382.5" x2="464.70" y2="380.0" stroke="#000" stroke-width="1"/><text x="464.70" y="399.4" font-size="13.4" text-anchor="middle" fill="#000" font-weight="normal" >1600</text><line x1="36.75" y1="382.50" x2="39.25" y2="382.50" stroke="#000" stroke-width="1"/><text x="32.2" y="386.90" font-size="13.4" text-anchor="end" fill="#000" font-weight="normal" >0</text><line x1="36.75" y1="342.83" x2="39.25" y2="342.83" stroke="#000" stroke-width="1"/><text x="32.2" y="347.23" font-size="13.4" text-anchor="end" fill="#000" font-weight="normal" >1</text><line x1="36.75" y1="303.16" x2="39.25" y2="303.16" stroke="#000" stroke-width="1"/><text x="32.2" y="307.56" font-size="13.4" text-anchor="end" fill="#000" font-weight="normal" >2</text><line x1="36.75" y1="263.49" x2="39.25" y2="263.49" stroke="#000" stroke-width="1"/><text x="32.2" y="267.89" font-size="13.4" text-anchor="end" fill="#000" font-weight="normal" >3</text><text x="264.3" y="415" font-size="15.3" text-anchor="middle" fill="#000" font-weight="normal" >Time (s)</text><text transform="translate(20.2,323) rotate(-90)" font-size="15.3" text-anchor="middle">h (m)</text><text x="0" y="261.8" font-size="14.9" text-anchor="start" fill="#000" font-weight="bold" >(b)</text><text x="506.5" y="261.8" font-size="14.9" text-anchor="start" fill="#000" font-weight="bold" >(c)</text><line x1="539.7" y1="322.20" x2="583.0" y2="322.20" stroke="#000" stroke-opacity=".2" stroke-width="1.1"/><line x1="539.7" y1="263.6" x2="583.0" y2="263.6" stroke="#c8c8c8" stroke-width="1.2"/><path d="M539.7,263.6 V380.8 H583.0 V263.6" fill="none" stroke="#000" stroke-width="1.6"/><line x1="539.7" y1="380.80" x2="542.7" y2="380.80" stroke="#000" stroke-width="1"/><text x="534.6" y="385.20" font-size="13.4" text-anchor="end" fill="#000" font-weight="normal" >0</text><line x1="539.7" y1="322.20" x2="542.7" y2="322.20" stroke="#000" stroke-width="1"/><text x="534.6" y="326.60" font-size="13.4" text-anchor="end" fill="#000" font-weight="normal" >1</text><line x1="539.7" y1="263.60" x2="542.7" y2="263.60" stroke="#000" stroke-width="1"/><text x="534.6" y="268.00" font-size="13.4" text-anchor="end" fill="#000" font-weight="normal" >2</text><line x1="561.3" y1="380.8" x2="561.3" y2="384.2" stroke="#000" stroke-width="1"/><line x1="561.7" y1="317.5" x2="561.7" y2="358.5" stroke="#000" stroke-width="1.5"/><path d="M560.6,299.2 L562.8000000000001,299.2 L563.6,303 L563.6,317.7 L559.8000000000001,317.7 L559.8000000000001,303Z" fill="#1a1a1a"/><rect x="559.7" y="358" width="4" height="7.5" rx="0.8" fill="#1a1a1a"/><rect x="550.7" y="325.7" width="22.1" height="24.9" fill="#c0c0c0" stroke="#000" stroke-width="1.5"/><line x1="550.7" y1="335.4" x2="572.8" y2="335.4" stroke="#000" stroke-width="1.5"/><text transform="translate(521,324.2) rotate(-90)" font-size="12.95" text-anchor="middle">Flow height <tspan font-style="italic">h</tspan> (m)</text><line x1="628.9" y1="351.50" x2="672.7" y2="351.50" stroke="#000" stroke-opacity=".2" stroke-width="1.1"/><line x1="628.9" y1="322.20" x2="672.7" y2="322.20" stroke="#000" stroke-opacity=".2" stroke-width="1.1"/><line x1="628.9" y1="292.90" x2="672.7" y2="292.90" stroke="#000" stroke-opacity=".2" stroke-width="1.1"/><line x1="628.9" y1="263.6" x2="672.7" y2="263.6" stroke="#c8c8c8" stroke-width="1.2"/><path d="M628.9,263.6 V380.8 H672.7 V263.6" fill="none" stroke="#000" stroke-width="1.6"/><line x1="628.9" y1="380.80" x2="631.9" y2="380.80" stroke="#000" stroke-width="1"/><text x="624" y="385.20" font-size="13.4" text-anchor="end" fill="#000" font-weight="normal" >0</text><line x1="628.9" y1="351.50" x2="631.9" y2="351.50" stroke="#000" stroke-width="1"/><text x="624" y="355.90" font-size="13.4" text-anchor="end" fill="#000" font-weight="normal" >1</text><line x1="628.9" y1="322.20" x2="631.9" y2="322.20" stroke="#000" stroke-width="1"/><text x="624" y="326.60" font-size="13.4" text-anchor="end" fill="#000" font-weight="normal" >2</text><line x1="628.9" y1="292.90" x2="631.9" y2="292.90" stroke="#000" stroke-width="1"/><text x="624" y="297.30" font-size="13.4" text-anchor="end" fill="#000" font-weight="normal" >3</text><line x1="628.9" y1="263.60" x2="631.9" y2="263.60" stroke="#000" stroke-width="1"/><text x="624" y="268.00" font-size="13.4" text-anchor="end" fill="#000" font-weight="normal" >4</text><line x1="650.8" y1="380.8" x2="650.8" y2="384.2" stroke="#000" stroke-width="1"/><line x1="650.8" y1="322.5" x2="650.8" y2="371" stroke="#000" stroke-width="1.5"/><path d="M648.9,320.5 L650.8,317.4 L652.7,320.5Z" fill="#f8692a"/><path d="M648.9,315.2 L650.8,312.1 L652.7,315.2Z" fill="#f8692a"/><path d="M648.9,318.5 L650.8,315.4 L652.7,318.5Z" fill="#f8692a"/><path d="M648.9,313.9 L650.8,310.8 L652.7,313.9Z" fill="#f8692a"/><path d="M648.9,313.4 L650.8,310.3 L652.7,313.4Z" fill="#f8692a"/><path d="M648.9,322.2 L650.8,319.1 L652.7,322.2Z" fill="#f8692a"/><path d="M648.9,322.4 L650.8,319.3 L652.7,322.4Z" fill="#f8692a"/><path d="M648.9,308.1 L650.8,305.0 L652.7,308.1Z" fill="#f8692a"/><path d="M648.9,320.2 L650.8,317.1 L652.7,320.2Z" fill="#f8692a"/><path d="M648.9,320.5 L650.8,317.4 L652.7,320.5Z" fill="#f8692a"/><path d="M648.9,303.5 L650.8,300.4 L652.7,303.5Z" fill="#f8692a"/><path d="M648.9,316.7 L650.8,313.6 L652.7,316.7Z" fill="#f8692a"/><path d="M648.9,308.1 L650.8,305.0 L652.7,308.1Z" fill="#f8692a"/><path d="M648.9,316.6 L650.8,313.5 L652.7,316.6Z" fill="#f8692a"/><path d="M648.9,313.1 L650.8,310.0 L652.7,313.1Z" fill="#f8692a"/><path d="M648.9,321.5 L650.8,318.4 L652.7,321.5Z" fill="#f8692a"/><path d="M648.9,313.2 L650.8,310.1 L652.7,313.2Z" fill="#f8692a"/><path d="M648.9,307.2 L650.8,304.1 L652.7,307.2Z" fill="#f8692a"/><path d="M648.9,315.7 L650.8,312.6 L652.7,315.7Z" fill="#f8692a"/><path d="M648.9,310.6 L650.8,307.5 L652.7,310.6Z" fill="#f8692a"/><path d="M648.9,312.4 L650.8,309.3 L652.7,312.4Z" fill="#f8692a"/><path d="M648.9,322.2 L650.8,319.1 L652.7,322.2Z" fill="#f8692a"/><path d="M648.9,310.2 L650.8,307.1 L652.7,310.2Z" fill="#f8692a"/><path d="M648.9,314.2 L650.8,311.1 L652.7,314.2Z" fill="#f8692a"/><path d="M648.9,319.6 L650.8,316.5 L652.7,319.6Z" fill="#f8692a"/><path d="M648.9,322.3 L650.8,319.2 L652.7,322.3Z" fill="#f8692a"/><path d="M648.9,307.3 L650.8,304.2 L652.7,307.3Z" fill="#f8692a"/><path d="M648.9,316.7 L650.8,313.6 L652.7,316.7Z" fill="#f8692a"/><path d="M648.9,311.2 L650.8,308.1 L652.7,311.2Z" fill="#f8692a"/><path d="M648.9,306.9 L650.8,303.8 L652.7,306.9Z" fill="#f8692a"/><path d="M648.9,311.3 L650.8,308.2 L652.7,311.3Z" fill="#f8692a"/><path d="M648.9,305.7 L650.8,302.6 L652.7,305.7Z" fill="#f8692a"/><path d="M648.9,318.1 L650.8,315.0 L652.7,318.1Z" fill="#f8692a"/><path d="M648.9,309.1 L650.8,306.0 L652.7,309.1Z" fill="#f8692a"/><path d="M648.9,317.2 L650.8,314.1 L652.7,317.2Z" fill="#f8692a"/><path d="M648.9,305.3 L650.8,302.2 L652.7,305.3Z" fill="#f8692a"/><path d="M648.9,306.9 L650.8,303.8 L652.7,306.9Z" fill="#f8692a"/><path d="M648.9,321.9 L650.8,318.8 L652.7,321.9Z" fill="#f8692a"/><path d="M648.9,321.6 L650.8,318.5 L652.7,321.6Z" fill="#f8692a"/><path d="M648.9,320.8 L650.8,317.7 L652.7,320.8Z" fill="#f8692a"/><path d="M648.9,304.4 L650.8,301.3 L652.7,304.4Z" fill="#f8692a"/><path d="M648.9,317.4 L650.8,314.3 L652.7,317.4Z" fill="#f8692a"/><path d="M648.9,313.4 L650.8,310.3 L652.7,313.4Z" fill="#f8692a"/><path d="M648.9,319.6 L650.8,316.5 L652.7,319.6Z" fill="#f8692a"/><path d="M648.9,316.0 L650.8,312.9 L652.7,316.0Z" fill="#f8692a"/><path d="M648.9,318.3 L650.8,315.2 L652.7,318.3Z" fill="#f8692a"/><path d="M648.9,318.8 L650.8,315.7 L652.7,318.8Z" fill="#f8692a"/><path d="M648.9,314.3 L650.8,311.2 L652.7,314.3Z" fill="#f8692a"/><path d="M648.9,314.4 L650.8,311.3 L652.7,314.4Z" fill="#f8692a"/><path d="M648.9,306.2 L650.8,303.1 L652.7,306.2Z" fill="#f8692a"/><path d="M648.9,312.1 L650.8,309.0 L652.7,312.1Z" fill="#f8692a"/><path d="M648.9,305.5 L650.8,302.4 L652.7,305.5Z" fill="#f8692a"/><path d="M648.9,307.6 L650.8,304.5 L652.7,307.6Z" fill="#f8692a"/><path d="M648.9,303.7 L650.8,300.6 L652.7,303.7Z" fill="#f8692a"/><path d="M648.9,312.4 L650.8,309.3 L652.7,312.4Z" fill="#f8692a"/><path d="M648.9,321.4 L650.8,318.3 L652.7,321.4Z" fill="#f8692a"/><path d="M648.9,307.5 L650.8,304.4 L652.7,307.5Z" fill="#f8692a"/><path d="M648.9,304.5 L650.8,301.4 L652.7,304.5Z" fill="#f8692a"/><path d="M648.9,306.2 L650.8,303.1 L652.7,306.2Z" fill="#f8692a"/><path d="M648.9,314.7 L650.8,311.6 L652.7,314.7Z" fill="#f8692a"/><path d="M648.9,294.9 L650.8,291.8 L652.7,294.9Z" fill="#f8692a"/><path d="M648.9,297.4 L650.8,294.3 L652.7,297.4Z" fill="#f8692a"/><path d="M648.9,300.9 L650.8,297.8 L652.7,300.9Z" fill="#f8692a"/><path d="M648.9,283.9 L650.8,280.8 L652.7,283.9Z" fill="#f8692a"/><path d="M648.9,379.2 L650.8,376.1 L652.7,379.2Z" fill="#f8692a"/><path d="M648.9,374.4 L650.8,371.3 L652.7,374.4Z" fill="#f8692a"/><path d="M648.9,380.3 L650.8,377.2 L652.7,380.3Z" fill="#f8692a"/><path d="M648.9,377.8 L650.8,374.7 L652.7,377.8Z" fill="#f8692a"/><path d="M648.9,375.1 L650.8,372.0 L652.7,375.1Z" fill="#f8692a"/><path d="M648.9,373.0 L650.8,369.9 L652.7,373.0Z" fill="#f8692a"/><path d="M648.9,380.5 L650.8,377.4 L652.7,380.5Z" fill="#f8692a"/><path d="M648.9,381.8 L650.8,378.7 L652.7,381.8Z" fill="#f8692a"/><path d="M648.9,373.2 L650.8,370.1 L652.7,373.2Z" fill="#f8692a"/><path d="M648.9,380.0 L650.8,376.9 L652.7,380.0Z" fill="#f8692a"/><path d="M648.9,376.3 L650.8,373.2 L652.7,376.3Z" fill="#f8692a"/><path d="M648.9,373.8 L650.8,370.7 L652.7,373.8Z" fill="#f8692a"/><path d="M648.9,375.2 L650.8,372.1 L652.7,375.2Z" fill="#f8692a"/><path d="M648.9,379.7 L650.8,376.6 L652.7,379.7Z" fill="#f8692a"/><path d="M648.9,380.7 L650.8,377.6 L652.7,380.7Z" fill="#f8692a"/><path d="M648.9,372.8 L650.8,369.7 L652.7,372.8Z" fill="#f8692a"/><path d="M648.9,378.2 L650.8,375.1 L652.7,378.2Z" fill="#f8692a"/><path d="M648.9,372.8 L650.8,369.7 L652.7,372.8Z" fill="#f8692a"/><path d="M648.9,379.2 L650.8,376.1 L652.7,379.2Z" fill="#f8692a"/><path d="M648.9,375.5 L650.8,372.4 L652.7,375.5Z" fill="#f8692a"/><path d="M648.9,380.8 L650.8,377.7 L652.7,380.8Z" fill="#f8692a"/><path d="M648.9,381.7 L650.8,378.6 L652.7,381.7Z" fill="#f8692a"/><path d="M648.9,377.2 L650.8,374.1 L652.7,377.2Z" fill="#f8692a"/><path d="M648.9,381.9 L650.8,378.8 L652.7,381.9Z" fill="#f8692a"/><path d="M648.9,375.3 L650.8,372.2 L652.7,375.3Z" fill="#f8692a"/><rect x="639.4" y="335.4" width="22.3" height="16.1" fill="#c0c0c0" stroke="#000" stroke-width="1.5"/><line x1="639.4" y1="343.7" x2="661.7" y2="343.7" stroke="#000" stroke-width="1.5"/><text transform="translate(611.6,322) rotate(-90)" font-size="13.5" text-anchor="middle" fill="#f8692a">Median velocity (m/s)</text>
</svg>
</body></html>
